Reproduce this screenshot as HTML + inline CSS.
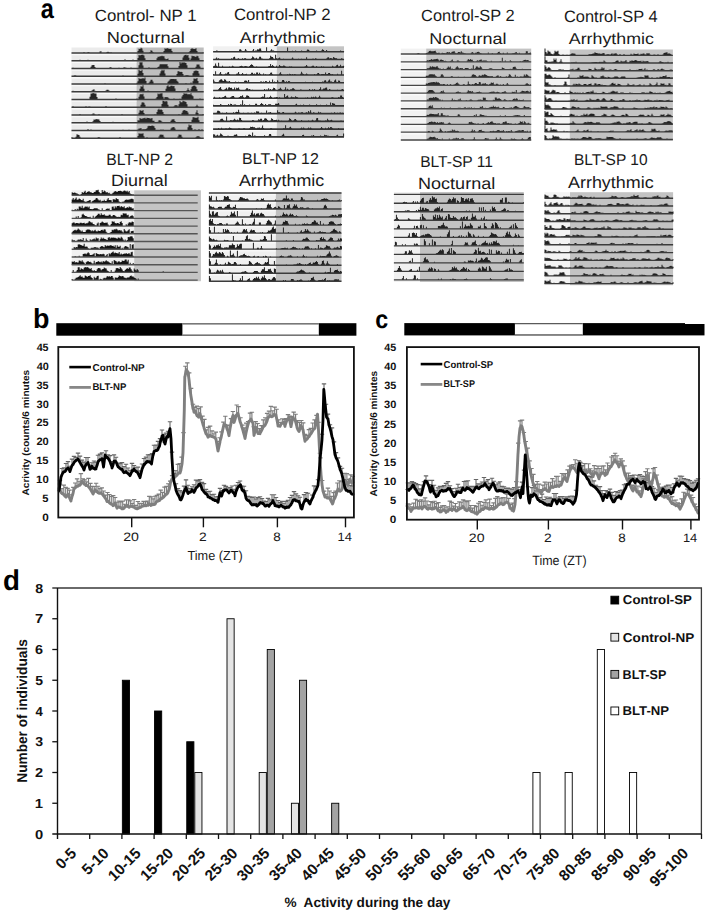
<!DOCTYPE html>
<html><head><meta charset="utf-8"><style>
html,body{margin:0;padding:0;background:#fff;width:708px;height:912px;overflow:hidden}
svg{display:block}
text{font-family:"Liberation Sans",sans-serif;text-rendering:geometricPrecision}
</style></head><body>
<svg width="708" height="912" viewBox="0 0 708 912">
<rect width="708" height="912" fill="#fff"/>
<text transform="translate(40.79,17.73) scale(0.8636,1)" font-size="27.27" font-weight="bold" fill="#000">a</text>
<text transform="translate(32.95,327.72) scale(0.9703,1)" font-size="27.76" font-weight="bold" fill="#000">b</text>
<text transform="translate(375.27,327.94) scale(0.9088,1)" font-size="25.64" font-weight="bold" fill="#000">c</text>
<text transform="translate(3.09,589.71) scale(0.9703,1)" font-size="28.57" font-weight="bold" fill="#000">d</text>
<text transform="translate(94.76,21.00) scale(1.0394,1)" font-size="16.23" font-weight="normal" fill="#1a1a1a">Control- NP 1</text>
<text transform="translate(106.84,43.20) scale(1.1423,1)" font-size="15.94" font-weight="normal" fill="#1a1a1a">Nocturnal</text>
<text transform="translate(233.96,20.40) scale(1.0238,1)" font-size="16.38" font-weight="normal" fill="#1a1a1a">Control-NP 2</text>
<text transform="translate(239.80,42.50) scale(1.1316,1)" font-size="15.80" font-weight="normal" fill="#1a1a1a">Arrhythmic</text>
<text transform="translate(421.08,21.20) scale(1.0101,1)" font-size="16.23" font-weight="normal" fill="#1a1a1a">Control-SP 2</text>
<text transform="translate(429.36,43.50) scale(1.1405,1)" font-size="15.80" font-weight="normal" fill="#1a1a1a">Nocturnal</text>
<text transform="translate(563.98,21.60) scale(1.0030,1)" font-size="16.38" font-weight="normal" fill="#1a1a1a">Control-SP 4</text>
<text transform="translate(568.80,43.50) scale(1.1263,1)" font-size="15.80" font-weight="normal" fill="#1a1a1a">Arrhythmic</text>
<text transform="translate(106.14,164.80) scale(0.9543,1)" font-size="16.52" font-weight="normal" fill="#1a1a1a">BLT-NP 2</text>
<text transform="translate(111.07,186.40) scale(1.0843,1)" font-size="16.52" font-weight="normal" fill="#1a1a1a">Diurnal</text>
<text transform="translate(242.12,164.40) scale(1.0233,1)" font-size="15.65" font-weight="normal" fill="#1a1a1a">BLT-NP 12</text>
<text transform="translate(238.90,186.40) scale(1.0807,1)" font-size="16.52" font-weight="normal" fill="#1a1a1a">Arrhythmic</text>
<text transform="translate(420.15,166.90) scale(0.9875,1)" font-size="15.80" font-weight="normal" fill="#1a1a1a">BLT-SP 11</text>
<text transform="translate(418.06,189.10) scale(1.1016,1)" font-size="16.38" font-weight="normal" fill="#1a1a1a">Nocturnal</text>
<text transform="translate(573.96,165.30) scale(0.9921,1)" font-size="15.65" font-weight="normal" fill="#1a1a1a">BLT-SP 10</text>
<text transform="translate(568.00,188.00) scale(1.0845,1)" font-size="16.52" font-weight="normal" fill="#1a1a1a">Arrhythmic</text>
<rect x="71.50" y="47.50" width="65.00" height="91.50" fill="#ebebeb"/>
<rect x="136.50" y="47.50" width="67.20" height="91.50" fill="#bebebe"/>
<rect x="71.50" y="53.70" width="65.00" height="1.6" fill="#f8f8f8"/>
<rect x="71.50" y="61.45" width="65.00" height="1.6" fill="#f8f8f8"/>
<rect x="71.50" y="69.20" width="65.00" height="1.6" fill="#f8f8f8"/>
<rect x="71.50" y="76.95" width="65.00" height="1.6" fill="#f8f8f8"/>
<rect x="71.50" y="84.70" width="65.00" height="1.6" fill="#f8f8f8"/>
<rect x="71.50" y="92.45" width="65.00" height="1.6" fill="#f8f8f8"/>
<rect x="71.50" y="100.20" width="65.00" height="1.6" fill="#f8f8f8"/>
<rect x="71.50" y="107.95" width="65.00" height="1.6" fill="#f8f8f8"/>
<rect x="71.50" y="115.70" width="65.00" height="1.6" fill="#f8f8f8"/>
<rect x="71.50" y="123.45" width="65.00" height="1.6" fill="#f8f8f8"/>
<rect x="71.50" y="131.20" width="65.00" height="1.6" fill="#f8f8f8"/>
<path transform="translate(71.50,53.00)" d="M0,0V0h12V-1.1h1V0h3V-1.0h1V-0.8h1V0h10V-1.6h1V-1.8h1V0h5V-1.0h1V-1.2h1V-1.0h1V0h1V-0.8h1V0h26V-2.0h1V-4.3h1V-3.9h1V-5.2h1V-4.4h1V-2.3h1V0h6V-0.9h1V-2.7h1V-2.2h1V-1.1h1V0h10V-2.1h1V-4.8h1V-3.9h1V-5.1h1V-4.5h1V-4.2h1V-4.0h1V-4.2h1V-2.1h1V0h16V-0.8h1V-2.1h1V-4.0h1V-4.7h1V-4.3h1V-4.0h1V-4.1h1V-4.7h1V-2.1h1V0h5V-0.6h1V0H132.2Z" fill="#262626"/>
<line x1="71.50" y1="53.00" x2="203.70" y2="53.00" stroke="#3c3c3c" stroke-width="1.4"/>
<path transform="translate(71.50,60.75)" d="M0,0V0h8V-1.1h1V0h7V-0.9h1V0h36V-1.4h1V0h5V-0.7h1V0h1V-1.3h1V0h4V-2.8h1V-5.7h1V-5.2h1V-5.7h1V-6.1h1V-6.0h1V-5.2h1V-2.6h1V0h11V-2.5h1V-4.1h1V-3.9h1V-4.5h1V-4.5h1V-4.9h1V-4.5h1V-4.5h1V-2.2h1V-1.6h1V-1.8h1V-2.2h1V-0.8h1V0h13V-3.3h1V-5.0h1V-5.7h1V-5.9h1V-5.3h1V-5.7h1V-2.9h1V0h1V-2.2h1V-5.1h1V-4.5h1V-4.7h1V-4.0h1V-4.0h1V-4.9h1V-4.6h1V-2.5h1V0H132.2Z" fill="#262626"/>
<line x1="71.50" y1="60.75" x2="203.70" y2="60.75" stroke="#3c3c3c" stroke-width="1.4"/>
<path transform="translate(71.50,68.50)" d="M0,0V0h1V-0.8h1V0h17V-1.8h1V-3.3h1V-3.4h1V-3.6h1V-1.6h1V0h14V-1.2h1V-1.3h1V0h7V-0.8h1V0h3V-0.4h1V-1.2h1V-1.0h1V-0.8h1V-0.5h1V0h3V-1.1h1V0h7V-3.2h1V-6.2h1V-5.9h1V-6.3h1V-3.0h1V0h5V-1.2h1V0h8V-1.4h1V-2.0h1V-4.0h1V-4.5h1V-3.9h1V-4.5h1V-3.9h1V-4.4h1V-4.1h1V-4.5h1V-2.2h1V0h10V-2.6h1V-6.4h1V-5.0h1V-6.2h1V-5.7h1V-6.2h1V-5.7h1V-5.5h1V-3.2h1V0h8V-1.7h1V-4.1h1V-4.0h1V-3.9h1V-2.1h1V0H132.2Z" fill="#262626"/>
<line x1="71.50" y1="68.50" x2="203.70" y2="68.50" stroke="#3c3c3c" stroke-width="1.4"/>
<path transform="translate(71.50,76.25)" d="M0,0V0h2V-0.6h1V-1.1h1V-0.5h1V0h46V-0.7h1V0h14V-2.6h1V-6.4h1V-5.6h1V-5.2h1V-6.4h1V-3.2h1V0h16V-2.7h1V-5.1h1V-6.5h1V-5.6h1V-6.4h1V-2.7h1V0h11V-2.2h1V-4.9h1V-4.9h1V-4.2h1V-4.5h1V-4.2h1V-2.3h1V0h1V-0.4h1V-0.9h1V-0.9h1V-0.9h1V-0.4h1V0h3V-3.0h1V-4.9h1V-5.4h1V-5.7h1V-5.6h1V-5.3h1V-2.7h1V0H132.2Z" fill="#262626"/>
<line x1="71.50" y1="76.25" x2="203.70" y2="76.25" stroke="#3c3c3c" stroke-width="1.4"/>
<path transform="translate(71.50,84.00)" d="M0,0V0h33V-0.7h1V0h31V-1.3h1V-2.7h1V-6.0h1V-5.0h1V-5.6h1V-5.3h1V-6.0h1V-5.2h1V-6.4h1V-3.1h1V0h2V-1.3h1V-2.5h1V-4.3h1V-4.3h1V-2.5h1V0h14V-2.3h1V-3.3h1V-4.4h1V-5.1h1V-4.9h1V-5.0h1V-5.0h1V-4.7h1V-5.1h1V-3.2h1V-2.3h1V0h7V-0.9h1V0h4V-1.5h1V0h1V-2.8h1V-5.4h1V-5.3h1V-5.2h1V-5.9h1V-3.0h1V0H132.2Z" fill="#262626"/>
<line x1="71.50" y1="84.00" x2="203.70" y2="84.00" stroke="#3c3c3c" stroke-width="1.4"/>
<path transform="translate(71.50,91.75)" d="M0,0V0h1V-1.1h1V-0.5h1V0h17V-1.2h1V-2.1h1V-2.4h1V-1.1h1V0h10V-1.2h1V-2.0h1V-2.0h1V-1.2h1V0h18V-0.8h1V0h8V-0.8h1V0h2V-3.1h1V-5.6h1V-5.0h1V-6.5h1V-3.1h1V0h3V-1.2h1V0h17V-3.1h1V-5.4h1V-6.5h1V-5.1h1V-5.3h1V-5.9h1V-6.0h1V-5.6h1V-5.8h1V-3.3h1V0h11V-1.5h1V-3.6h1V-1.7h1V0h1V-2.5h1V-4.9h1V-5.7h1V-6.2h1V-6.0h1V-5.0h1V-2.5h1V0H132.2Z" fill="#262626"/>
<line x1="71.50" y1="91.75" x2="203.70" y2="91.75" stroke="#3c3c3c" stroke-width="1.4"/>
<path transform="translate(71.50,99.50)" d="M0,0V0h12V-0.5h1V-0.6h1V0h4V-2.7h1V-5.9h1V-6.1h1V-6.5h1V-6.2h1V-6.1h1V-5.9h1V-2.5h1V0h18V-1.0h1V0h20V-1.1h1V0h1V-2.7h1V-5.1h1V-5.5h1V-5.1h1V-5.7h1V-2.9h1V0h11V-0.9h1V-2.6h1V-5.9h1V-5.2h1V-6.1h1V-5.9h1V-6.2h1V-2.8h1V-0.8h1V-2.4h1V-2.2h1V-2.4h1V-2.1h1V-0.9h1V0h4V-1.0h1V0h5V-0.8h1V0h1V-3.1h1V-4.5h1V-6.2h1V-5.7h1V-6.0h1V-5.8h1V-4.9h1V-5.4h1V-5.1h1V-6.2h1V-4.3h1V-3.2h1V0h6V-1.0h1V0H132.2Z" fill="#262626"/>
<line x1="71.50" y1="99.50" x2="203.70" y2="99.50" stroke="#3c3c3c" stroke-width="1.4"/>
<path transform="translate(71.50,107.25)" d="M0,0V0h1V-0.9h1V0h12V-0.9h1V0h2V-0.7h1V-0.6h1V0h15V-1.2h1V0h34V-2.4h1V-4.8h1V-5.0h1V-4.5h1V-2.5h1V0h16V-3.2h1V-6.4h1V-6.3h1V-5.4h1V-6.3h1V-5.8h1V-2.6h1V0h5V-0.7h1V-2.1h1V-1.9h1V-1.9h1V-0.8h1V-2.9h1V-6.2h1V-5.1h1V-5.1h1V-6.4h1V-6.1h1V-5.7h1V-5.2h1V-2.9h1V0h8V-1.1h1V-2.4h1V-1.1h1V0H132.2Z" fill="#262626"/>
<line x1="71.50" y1="107.25" x2="203.70" y2="107.25" stroke="#3c3c3c" stroke-width="1.4"/>
<path transform="translate(71.50,115.00)" d="M0,0V0h8V-1.1h1V0h11V-0.5h1V-1.4h1V-1.5h1V-0.5h1V0h3V-1.1h1V0h22V-1.1h1V0h16V-2.3h1V-4.8h1V-4.5h1V-4.0h1V-4.9h1V-2.0h1V0h10V-0.8h1V0h1V-3.0h1V-5.3h1V-6.3h1V-4.9h1V-5.8h1V-4.9h1V-3.1h1V-1.1h1V0h14V-1.1h1V0h2V-2.3h1V-4.3h1V-5.0h1V-4.8h1V-4.3h1V-4.0h1V-2.4h1V0h7V-2.5h1V-4.7h1V-2.0h1V0h4V-1.1h1V0H132.2Z" fill="#262626"/>
<line x1="71.50" y1="115.00" x2="203.70" y2="115.00" stroke="#3c3c3c" stroke-width="1.4"/>
<path transform="translate(71.50,122.75)" d="M0,0V0h15V-1.2h1V0h5V-1.6h1V-3.2h1V-2.9h1V-3.8h1V-3.4h1V-3.5h1V-3.3h1V-1.8h1V0h11V-0.5h1V-1.1h1V0h24V-2.4h1V-2.3h1V-4.8h1V-4.1h1V-4.1h1V-4.4h1V-4.5h1V-5.1h1V-4.0h1V-5.1h1V-4.7h1V-4.7h1V-4.3h1V-4.3h1V-4.8h1V-2.0h1V-2.0h1V0h3V-1.0h1V-2.5h1V-2.4h1V-2.0h1V-0.9h1V0h8V-1.9h1V-3.3h1V-3.4h1V-3.5h1V-1.7h1V0h16V-3.0h1V-5.4h1V-5.5h1V-4.9h1V-4.9h1V-4.9h1V-5.9h1V-2.6h1V0H132.2Z" fill="#262626"/>
<line x1="71.50" y1="122.75" x2="203.70" y2="122.75" stroke="#3c3c3c" stroke-width="1.4"/>
<path transform="translate(71.50,130.50)" d="M0,0V0h16V-1.4h1V0h2V-0.9h1V0h31V-0.7h1V0h5V-0.7h1V0h8V-1.1h1V-2.0h1V-2.0h1V-2.6h1V-1.0h1V-1.3h1V-1.2h1V-1.2h1V-1.4h1V-2.3h1V-4.2h1V-4.7h1V-4.6h1V-4.6h1V-5.0h1V-4.8h1V-4.2h1V-2.6h1V0h5V-1.0h1V0h1V-1.1h1V0h7V-1.9h1V-3.1h1V-3.3h1V-3.4h1V-1.9h1V0h12V-3.2h1V-6.0h1V-4.9h1V-5.6h1V-2.5h1V0h2V-1.2h1V0h3V-1.4h1V0h2V-1.3h1V0H132.2Z" fill="#262626"/>
<line x1="71.50" y1="130.50" x2="203.70" y2="130.50" stroke="#3c3c3c" stroke-width="1.4"/>
<path transform="translate(71.50,138.25)" d="M0,0V-1.0h1V0h3V-1.5h1V-3.9h1V-3.4h1V-3.3h1V-1.6h1V0h17V-0.7h1V-1.2h1V-0.6h1V0h19V-1.2h1V0h17V-2.3h1V-5.0h1V-4.5h1V-4.7h1V-4.6h1V-4.9h1V-2.1h1V0h2V-1.1h1V0h11V-1.7h1V-3.4h1V-3.8h1V-3.4h1V-3.4h1V-1.5h1V0h13V-1.7h1V-3.8h1V-3.6h1V-3.6h1V-1.6h1V0h13V-1.0h1V-2.0h1V-2.0h1V-2.0h1V-1.0h1V0H132.2Z" fill="#262626"/>
<line x1="71.50" y1="138.25" x2="203.70" y2="138.25" stroke="#3c3c3c" stroke-width="1.4"/>
<rect x="213.10" y="46.30" width="63.70" height="91.20" fill="#f1f1f1"/>
<rect x="276.80" y="46.30" width="67.20" height="91.20" fill="#c4c4c4"/>
<rect x="213.10" y="52.50" width="63.70" height="1.6" fill="#f8f8f8"/>
<rect x="213.10" y="60.23" width="63.70" height="1.6" fill="#f8f8f8"/>
<rect x="213.10" y="67.96" width="63.70" height="1.6" fill="#f8f8f8"/>
<rect x="213.10" y="75.69" width="63.70" height="1.6" fill="#f8f8f8"/>
<rect x="213.10" y="83.42" width="63.70" height="1.6" fill="#f8f8f8"/>
<rect x="213.10" y="91.15" width="63.70" height="1.6" fill="#f8f8f8"/>
<rect x="213.10" y="98.88" width="63.70" height="1.6" fill="#f8f8f8"/>
<rect x="213.10" y="106.61" width="63.70" height="1.6" fill="#f8f8f8"/>
<rect x="213.10" y="114.34" width="63.70" height="1.6" fill="#f8f8f8"/>
<rect x="213.10" y="122.07" width="63.70" height="1.6" fill="#f8f8f8"/>
<rect x="213.10" y="129.80" width="63.70" height="1.6" fill="#f8f8f8"/>
<path transform="translate(213.10,51.80)" d="M0,0V0h2V-0.6h1V-1.3h1V-1.0h1V-0.5h1V0h1V-0.8h1V0h3V-0.6h1V0h4V-0.9h1V0h7V-0.4h1V-0.9h1V-2.4h1V-2.6h1V-1.2h1V0h2V-1.1h1V-2.7h1V-1.3h1V0h5V-1.2h1V-2.9h1V-0.8h1V-1.2h1V-1.4h1V-2.5h1V-2.2h1V-3.4h1V-3.4h1V-1.1h1V0h4V-4.6h1V0h3V-1.3h1V-2.5h1V-1.2h1V-1.2h1V-0.8h1V0h11V-0.5h1V-4.4h1V0h3V-0.6h1V-1.0h1V-0.5h1V0h1V-1.4h1V0h4V-0.4h1V-1.2h1V-0.6h1V-0.7h1V-0.6h1V0h1V-1.1h1V-2.4h1V-2.1h1V-1.0h1V-0.9h1V-0.8h1V-0.4h1V0h3V-1.2h1V0h3V-0.7h1V-1.4h1V-2.5h1V-1.9h1V-0.7h1V-0.7h1V-1.9h1V-0.8h1V0h11V-0.5h1V-1.2h1V-0.6h1V0h1V-0.7h1V0H130.9Z" fill="#222"/>
<line x1="213.10" y1="51.80" x2="344.00" y2="51.80" stroke="#333" stroke-width="1.6"/>
<path transform="translate(213.10,59.53)" d="M0,0V0h2V-0.9h1V-2.1h1V-0.7h1V-1.2h1V0h11V-0.5h1V-1.2h1V-0.9h1V-2.2h1V-2.8h1V-0.8h1V0h1V-0.8h1V-1.4h1V-0.6h1V0h2V-1.2h1V-0.4h1V-1.3h1V-1.3h1V-0.5h1V0h4V-1.3h1V-3.1h1V-2.2h1V-1.1h1V-1.1h1V-1.7h1V-0.6h1V-0.9h1V-2.7h1V-2.7h1V-1.0h1V-0.8h1V0h6V-1.2h1V-3.7h1V-2.9h1V-2.5h1V-1.0h1V0h1V-4.9h1V-1.3h1V-0.7h1V-1.4h1V-2.0h1V-0.7h1V0h2V-0.8h1V0h7V-0.9h1V-2.0h1V-0.7h1V0h4V-0.7h1V0h2V-0.8h1V-0.4h1V0h3V-2.4h1V0h5V-0.8h1V-0.7h1V-0.5h1V-1.4h1V-0.8h1V0h9V-1.0h1V-2.0h1V-2.3h1V-1.1h1V-1.6h1V-1.4h1V-0.8h1V-2.5h1V-1.9h1V-1.3h1V-1.2h1V0h4V-1.4h1V-0.9h1V-0.6h1V0H130.9Z" fill="#222"/>
<line x1="213.10" y1="59.53" x2="344.00" y2="59.53" stroke="#333" stroke-width="1.6"/>
<path transform="translate(213.10,67.26)" d="M0,0V-1.1h1V-1.5h1V-3.8h1V-1.4h1V-0.5h1V-4.5h1V-0.5h1V0h2V-1.4h1V0h6V-0.7h1V0h1V-0.6h1V-1.5h1V-0.7h1V0h5V-0.7h1V-1.3h1V-1.5h1V-1.1h1V-0.6h1V-1.1h1V-1.3h1V-0.9h1V-0.5h1V0h1V-1.2h1V-2.2h1V-3.0h1V-2.3h1V-0.9h1V0h2V-0.7h1V0h11V-1.0h1V-1.3h1V-3.3h1V-1.3h1V-2.2h1V-1.2h1V0h2V-1.4h1V0h1V-0.6h1V-2.2h1V-1.2h1V-0.9h1V-1.1h1V-1.7h1V-1.4h1V-0.7h1V0h3V-0.7h1V-0.5h1V-0.8h1V0h12V-0.4h1V-1.0h1V-2.2h1V-0.8h1V0h3V-0.7h1V-1.6h1V-1.4h1V0h2V-1.2h1V0h4V-0.9h1V0h1V-0.8h1V0h8V-1.4h1V-0.6h1V0h1V-0.8h1V-2.1h1V-2.4h1V-0.8h1V-1.1h1V-2.4h1V-0.8h1V-1.1h1V-1.6h1V0H130.9Z" fill="#222"/>
<line x1="213.10" y1="67.26" x2="344.00" y2="67.26" stroke="#333" stroke-width="1.6"/>
<path transform="translate(213.10,74.99)" d="M0,0V-1.1h1V0h1V-3.8h1V0h3V-1.4h1V-3.1h1V-1.1h1V0h2V-0.5h1V-1.6h1V-1.2h1V-2.5h1V-3.1h1V-0.9h1V0h6V-1.2h1V-1.4h1V-3.0h1V-0.9h1V0h1V-1.0h1V-1.9h1V-0.7h1V-0.4h1V-0.9h1V-1.2h1V0h3V-1.1h1V-2.2h1V-2.2h1V-1.1h1V-1.6h1V-0.8h1V-2.5h1V-2.5h1V-0.9h1V-2.2h1V-1.0h1V0h2V-1.4h1V0h1V-0.7h1V0h3V-0.9h1V-2.3h1V-2.6h1V-0.8h1V0h6V-1.4h1V-2.8h1V-1.1h1V0h5V-0.7h1V0h1V-1.2h1V-1.0h1V0h1V-1.1h1V0h1V-1.1h1V-0.4h1V0h4V-1.2h1V-3.3h1V-1.6h1V-0.9h1V0h1V-0.5h1V-1.4h1V-0.6h1V0h6V-1.0h1V0h1V-0.5h1V-1.8h1V-1.9h1V-0.8h1V0h1V-1.0h1V-0.9h1V-0.9h1V-0.8h1V-2.5h1V-0.8h1V-1.0h1V-1.9h1V-2.1h1V-0.9h1V-0.5h1V-0.9h1V0h4V-1.2h1V0h3V-4.3h1V0H130.9Z" fill="#222"/>
<line x1="213.10" y1="74.99" x2="344.00" y2="74.99" stroke="#333" stroke-width="1.6"/>
<path transform="translate(213.10,82.72)" d="M0,0V-3.1h1V-1.3h1V-0.7h1V0h2V-0.9h1V-2.4h1V-3.1h1V-3.4h1V-2.1h1V-1.8h1V-3.5h1V-3.0h1V-1.5h1V-1.1h1V-1.1h1V-1.6h1V-0.6h1V0h4V-1.3h1V0h2V-1.0h1V0h4V-0.8h1V-2.0h1V-2.2h1V-1.9h1V-1.0h1V-2.6h1V-0.8h1V0h9V-0.6h1V-1.3h1V-1.2h1V-0.5h1V-1.2h1V-0.5h1V-1.7h1V-1.5h1V-0.5h1V-0.8h1V-1.9h1V-0.6h1V0h1V-3.3h1V-0.6h1V-1.1h1V-0.6h1V0h1V-2.5h1V-0.9h1V0h2V-0.9h1V-2.6h1V-2.7h1V-1.1h1V0h1V-1.4h1V-0.5h1V-1.8h1V-1.4h1V-0.6h1V0h6V-0.5h1V-0.7h1V-0.4h1V0h5V-0.9h1V-0.8h1V0h5V-0.9h1V0h9V-1.1h1V-0.9h1V-2.1h1V-2.5h1V-1.0h1V-0.9h1V-2.1h1V-3.3h1V-1.3h1V-1.1h1V0h1V-0.6h1V-2.1h1V-3.1h1V-0.9h1V-0.8h1V-2.1h1V-1.9h1V-0.7h1V0H130.9Z" fill="#222"/>
<line x1="213.10" y1="82.72" x2="344.00" y2="82.72" stroke="#333" stroke-width="1.6"/>
<path transform="translate(213.10,90.45)" d="M0,0V0h5V-1.3h1V-2.4h1V-3.4h1V-1.3h1V0h2V-1.0h1V-1.6h1V-2.7h1V-1.0h1V-2.9h1V-3.1h1V-2.5h1V-2.8h1V-1.3h1V-1.1h1V-2.9h1V-0.9h1V-2.7h1V-2.1h1V-2.9h1V-1.0h1V0h5V-0.9h1V-2.1h1V-2.1h1V-0.9h1V-1.5h1V-0.6h1V0h1V-0.7h1V0h11V-1.4h1V0h1V-1.0h1V-0.6h1V-2.2h1V-0.8h1V-1.5h1V0h1V-1.2h1V-2.8h1V-2.5h1V-0.9h1V0h2V-1.3h1V-1.8h1V-2.6h1V-1.1h1V-0.5h1V0h1V-1.0h1V-3.3h1V-0.6h1V-1.6h1V-0.8h1V0h1V-1.1h1V-1.1h1V-2.2h1V-2.3h1V-1.2h1V0h5V-0.9h1V-0.7h1V0h7V-1.4h1V0h2V-1.3h1V0h1V-1.5h1V0h4V-1.4h1V-3.1h1V-0.8h1V-0.9h1V-2.0h1V-1.9h1V-2.6h1V-3.0h1V-0.8h1V0h1V-1.4h1V-0.6h1V0h6V-0.8h1V0h2V-0.5h1V-1.0h1V-1.4h1V-0.8h1V0H130.9Z" fill="#222"/>
<line x1="213.10" y1="90.45" x2="344.00" y2="90.45" stroke="#333" stroke-width="1.6"/>
<path transform="translate(213.10,98.18)" d="M0,0V0h1V-1.5h1V0h4V-1.0h1V0h2V-1.0h1V-1.2h1V-2.0h1V-2.4h1V-0.7h1V0h3V-0.9h1V-1.8h1V-2.3h1V-2.2h1V-0.8h1V0h3V-0.4h1V-1.2h1V-2.1h1V-1.9h1V-3.0h1V-0.9h1V0h1V-1.0h1V-2.7h1V-2.8h1V-2.1h1V-0.8h1V0h10V-0.5h1V-1.2h1V-1.6h1V-1.4h1V-4.2h1V0h2V-0.7h1V0h1V-1.3h1V-2.4h1V-1.2h1V0h2V-0.8h1V-0.8h1V-1.1h1V-1.0h1V0h1V-1.0h1V0h4V-4.2h1V-1.1h1V-2.0h1V-2.7h1V-0.8h1V0h1V-0.7h1V-1.8h1V-0.9h1V-0.9h1V-0.7h1V-2.0h1V-1.1h1V-1.0h1V0h7V-0.4h1V0h1V-1.0h1V0h3V-1.5h1V-0.8h1V-1.4h1V-0.6h1V-1.7h1V-0.6h1V0h1V-0.9h1V-2.4h1V-0.8h1V0h10V-0.6h1V-1.0h1V-0.5h1V0h4V-1.1h1V-0.8h1V-2.8h1V-2.8h1V-1.1h1V0H130.9Z" fill="#222"/>
<line x1="213.10" y1="98.18" x2="344.00" y2="98.18" stroke="#333" stroke-width="1.6"/>
<path transform="translate(213.10,105.91)" d="M0,0V-1.1h1V0h1V-0.9h1V0h3V-1.0h1V-2.0h1V-1.1h1V0h5V-0.7h1V-1.8h1V-0.7h1V-2.1h1V-1.8h1V-0.9h1V-1.1h1V-1.4h1V-1.3h1V-0.5h1V0h2V-0.6h1V-1.6h1V-1.2h1V-5.6h1V-0.7h1V-1.7h1V-0.7h1V0h3V-1.3h1V0h4V-0.9h1V-2.1h1V-2.2h1V-1.0h1V0h1V-0.7h1V-1.8h1V-2.8h1V-2.0h1V-1.2h1V-0.8h1V-2.0h1V-0.9h1V-0.5h1V-1.6h1V-1.6h1V-1.6h1V-0.5h1V0h2V-0.9h1V-2.2h1V-2.2h1V-2.1h1V-2.9h1V-1.2h1V0h3V-0.7h1V0h8V-1.0h1V-0.8h1V0h1V-1.3h1V-2.2h1V-0.9h1V0h1V-0.4h1V-1.1h1V-1.0h1V0h1V-1.3h1V-0.9h1V0h4V-1.4h1V0h4V-0.7h1V-0.9h1V-1.7h1V-0.8h1V0h2V-1.2h1V-0.8h1V0h3V-0.7h1V-1.4h1V-0.7h1V0h2V-3.4h1V-0.8h1V-2.9h1V-2.4h1V-2.1h1V-0.6h1V0h6V-0.5h1V0H130.9Z" fill="#222"/>
<line x1="213.10" y1="105.91" x2="344.00" y2="105.91" stroke="#333" stroke-width="1.6"/>
<path transform="translate(213.10,113.64)" d="M0,0V0h3V-0.9h1V-2.8h1V-2.8h1V-2.4h1V-0.8h1V0h1V-0.8h1V0h3V-1.3h1V0h6V-1.4h1V-0.6h1V-1.5h1V-1.9h1V-1.6h1V-3.8h1V-1.2h1V-0.6h1V-0.7h1V0h1V-0.8h1V0h3V-0.8h1V-0.8h1V-0.7h1V-0.6h1V-1.0h1V0h1V-0.5h1V-1.2h1V-0.6h1V-2.3h1V-2.1h1V-2.2h1V-0.6h1V0h1V-1.0h1V0h4V-3.1h1V-0.5h1V-1.1h1V-1.2h1V-1.6h1V-0.6h1V0h5V-3.4h1V-1.4h1V-1.4h1V0h1V-0.5h1V-1.4h1V-1.6h1V-0.6h1V-0.7h1V0h8V-0.8h1V-1.8h1V-0.9h1V0h1V-1.2h1V-0.8h1V-0.8h1V-1.5h1V-1.3h1V-0.5h1V0h1V-0.8h1V-1.3h1V-0.8h1V-2.7h1V-1.1h1V-3.4h1V-0.9h1V0h1V-1.4h1V-1.0h1V0h2V-0.6h1V-2.0h1V-1.0h1V-1.3h1V0h10V-0.9h1V-0.4h1V0h1V-1.5h1V0h2V-0.8h1V0h1V-0.8h1V-1.1h1V0h1V-0.9h1V0H130.9Z" fill="#222"/>
<line x1="213.10" y1="113.64" x2="344.00" y2="113.64" stroke="#333" stroke-width="1.6"/>
<path transform="translate(213.10,121.37)" d="M0,0V0h6V-0.7h1V-2.0h1V-2.6h1V-2.7h1V-1.1h1V0h2V-4.9h1V0h3V-1.4h1V-1.0h1V-0.9h1V-1.5h1V-2.6h1V-1.5h1V-1.0h1V-1.9h1V-1.2h1V-3.5h1V-3.4h1V-1.4h1V0h10V-1.3h1V-1.1h1V0h3V-0.6h1V-2.0h1V-1.6h1V-2.5h1V-2.5h1V-0.7h1V-1.4h1V-2.9h1V-3.2h1V-2.6h1V-1.4h1V0h2V-0.9h1V-3.1h1V-2.4h1V-1.0h1V-1.4h1V-1.4h1V-1.5h1V-0.6h1V-1.6h1V-0.6h1V0h1V-0.6h1V0h6V-0.8h1V-3.0h1V-2.3h1V-1.2h1V0h1V-0.8h1V-2.2h1V-2.3h1V-1.1h1V0h4V-1.3h1V0h6V-0.8h1V0h2V-0.6h1V-1.7h1V-0.7h1V0h1V-0.9h1V-3.0h1V-3.4h1V-0.9h1V-0.6h1V-0.7h1V0h4V-0.9h1V-0.6h1V-2.7h1V-1.1h1V-0.5h1V-1.1h1V-1.7h1V-0.7h1V0h7V-0.5h1V-0.5h1V0H130.9Z" fill="#222"/>
<line x1="213.10" y1="121.37" x2="344.00" y2="121.37" stroke="#333" stroke-width="1.6"/>
<path transform="translate(213.10,129.10)" d="M0,0V0h5V-1.1h1V0h2V-1.3h1V0h3V-0.7h1V-0.6h1V0h1V-0.8h1V-1.7h1V-1.2h1V-0.7h1V0h6V-0.7h1V-0.6h1V0h3V-0.9h1V-0.8h1V0h4V-0.9h1V-2.4h1V-2.1h1V-2.3h1V-1.8h1V-1.9h1V-0.9h1V-0.5h1V-1.4h1V-1.4h1V-1.7h1V-0.6h1V-1.4h1V-3.5h1V-1.1h1V0h6V-0.8h1V-0.8h1V0h11V-0.9h1V-0.5h1V-3.9h1V-0.5h1V-0.9h1V-0.7h1V-1.6h1V-2.3h1V-0.9h1V0h8V-0.5h1V-1.5h1V-0.5h1V-1.5h1V-0.7h1V0h2V-0.6h1V-1.5h1V-0.5h1V-1.6h1V-0.7h1V0h8V-0.9h1V-2.2h1V-0.9h1V0h2V-1.4h1V0h1V-0.7h1V-1.8h1V-0.9h1V-2.0h1V-1.9h1V-0.8h1V0h5V-1.0h1V0H130.9Z" fill="#222"/>
<line x1="213.10" y1="129.10" x2="344.00" y2="129.10" stroke="#333" stroke-width="1.6"/>
<path transform="translate(213.10,136.83)" d="M0,0V-2.6h1V-2.3h1V-1.1h1V-1.3h1V-2.1h1V-1.1h1V-1.4h1V-3.3h1V-2.5h1V-1.5h1V0h4V-1.1h1V-1.0h1V0h4V-1.1h1V-2.2h1V-2.1h1V-2.6h1V-1.0h1V0h7V-1.0h1V0h1V-0.9h1V-2.2h1V-2.3h1V-1.9h1V-0.6h1V-4.3h1V-0.4h1V-1.4h1V-1.1h1V-0.5h1V0h6V-0.5h1V-1.6h1V-0.8h1V0h2V-1.1h1V-2.8h1V-2.9h1V-1.2h1V0h7V-0.9h1V0h1V-1.1h1V-2.2h1V-3.0h1V-1.0h1V-0.6h1V-0.9h1V0h2V-0.9h1V0h5V-0.9h1V0h1V-0.6h1V0h3V-0.7h1V-1.9h1V-2.2h1V-0.9h1V0h3V-0.8h1V-0.5h1V-0.5h1V-1.4h1V-1.1h1V-1.9h1V-0.8h1V0h4V-0.6h1V-1.3h1V-0.5h1V0h1V-0.9h1V-2.0h1V-1.5h1V-1.6h1V-1.1h1V-1.0h1V-0.9h1V-0.8h1V0h4V-0.9h1V-1.3h1V-2.1h1V-0.8h1V0h4V-3.4h1V0H130.9Z" fill="#222"/>
<line x1="213.10" y1="136.83" x2="344.00" y2="136.83" stroke="#333" stroke-width="1.6"/>
<rect x="400.80" y="48.60" width="25.40" height="92.10" fill="#f2f2f2"/>
<rect x="426.20" y="48.60" width="105.00" height="92.10" fill="#c3c3c3"/>
<rect x="400.80" y="54.70" width="25.40" height="1.6" fill="#fafafa"/>
<rect x="400.80" y="62.52" width="25.40" height="1.6" fill="#fafafa"/>
<rect x="400.80" y="70.34" width="25.40" height="1.6" fill="#fafafa"/>
<rect x="400.80" y="78.16" width="25.40" height="1.6" fill="#fafafa"/>
<rect x="400.80" y="85.98" width="25.40" height="1.6" fill="#fafafa"/>
<rect x="400.80" y="93.80" width="25.40" height="1.6" fill="#fafafa"/>
<rect x="400.80" y="101.62" width="25.40" height="1.6" fill="#fafafa"/>
<rect x="400.80" y="109.44" width="25.40" height="1.6" fill="#fafafa"/>
<rect x="400.80" y="117.26" width="25.40" height="1.6" fill="#fafafa"/>
<rect x="400.80" y="125.08" width="25.40" height="1.6" fill="#fafafa"/>
<rect x="400.80" y="132.90" width="25.40" height="1.6" fill="#fafafa"/>
<path transform="translate(400.80,54.00)" d="M0,0V0h16V-0.4h1V-1.0h1V-0.4h1V0h6V-1.1h1V-1.3h1V-1.7h1V-3.1h1V-3.2h1V-2.8h1V-2.8h1V-2.7h1V-3.1h1V-3.2h1V-1.5h1V-1.1h1V-1.3h1V-1.2h1V0h1V-0.5h1V-1.2h1V-0.9h1V-0.9h1V-0.5h1V-1.2h1V-2.1h1V-1.6h1V-2.1h1V-0.9h1V-1.5h1V-2.3h1V-2.6h1V-2.8h1V-1.2h1V-0.4h1V-0.9h1V-2.0h1V-2.1h1V-1.4h1V-2.8h1V-1.5h1V-1.2h1V-0.8h1V-0.5h1V0h5V-1.2h1V-1.9h1V-1.2h1V0h1V-1.3h1V-1.3h1V-2.0h1V-2.3h1V-1.8h1V-1.1h1V-0.6h1V0h6V-1.4h1V0h3V-1.1h1V0h4V-1.1h1V-1.9h1V-2.3h1V-1.1h1V0h2V-1.2h1V0h3V-1.4h1V0h4V-0.4h1V-0.8h1V-1.1h1V-1.5h1V-2.0h1V-0.7h1V0h1V-1.2h1V0h5V-0.6h1V-2.8h1V-2.7h1V-0.7h1V-0.9h1V-1.4h1V0H130.4Z" fill="#2a2a2a"/>
<line x1="400.80" y1="54.00" x2="531.20" y2="54.00" stroke="#474747" stroke-width="1.3"/>
<path transform="translate(400.80,61.82)" d="M0,0V0h25V-0.6h1V-1.6h1V-1.4h1V-1.7h1V-1.9h1V-2.7h1V-2.1h1V-2.4h1V-2.5h1V-2.5h1V-2.9h1V-3.1h1V-2.3h1V-1.1h1V-2.1h1V-2.4h1V-1.9h1V-1.5h1V-0.8h1V-1.0h1V-0.6h1V0h3V-0.7h1V-1.4h1V-2.2h1V-0.6h1V0h3V-1.3h1V-1.4h1V-0.6h1V0h7V-1.4h1V-2.7h1V-1.9h1V-2.9h1V-2.1h1V-2.0h1V-0.7h1V0h2V-0.5h1V-1.6h1V-1.1h1V-1.6h1V-2.0h1V-2.4h1V-1.0h1V-1.3h1V-1.4h1V-1.3h1V-1.2h1V-0.6h1V0h3V-1.1h1V0h8V-0.9h1V0h1V-4.1h1V0h2V-1.2h1V0h4V-1.5h1V-0.7h1V0h8V-0.7h1V0h1V-0.9h1V-1.4h1V-1.9h1V-2.0h1V-1.5h1V-1.8h1V-1.5h1V-0.8h1V0H130.4Z" fill="#2a2a2a"/>
<line x1="400.80" y1="61.82" x2="531.20" y2="61.82" stroke="#474747" stroke-width="1.3"/>
<path transform="translate(400.80,69.64)" d="M0,0V0h10V-0.4h1V0h14V-0.5h1V-1.5h1V-1.4h1V-2.0h1V-3.3h1V-2.5h1V-3.3h1V-2.9h1V-2.9h1V-2.5h1V-3.2h1V-3.3h1V-2.0h1V-1.2h1V-1.2h1V0h2V-1.2h1V0h2V-0.8h1V-1.9h1V-3.2h1V-2.2h1V-3.2h1V-0.8h1V-1.1h1V0h2V-1.1h1V-2.3h1V-3.4h1V-2.2h1V-1.2h1V-1.7h1V-1.5h1V-1.7h1V-0.5h1V-0.4h1V-1.6h1V-1.7h1V-1.7h1V-1.3h1V-0.7h1V0h1V-1.1h1V-1.0h1V-4.3h1V-0.7h1V-1.4h1V-3.1h1V-3.1h1V-2.2h1V-1.9h1V-3.4h1V-2.3h1V-1.0h1V0h6V-1.2h1V-1.5h1V-1.4h1V-1.0h1V-0.7h1V0h7V-0.6h1V-2.1h1V-1.7h1V-1.2h1V-0.5h1V0h4V-1.0h1V0h1V-1.0h1V-2.6h1V-2.8h1V-2.8h1V-1.2h1V0h4V-0.4h1V-1.0h1V-0.7h1V-0.7h1V0H130.4Z" fill="#2a2a2a"/>
<line x1="400.80" y1="69.64" x2="531.20" y2="69.64" stroke="#474747" stroke-width="1.3"/>
<path transform="translate(400.80,77.46)" d="M0,0V0h25V-1.6h1V-1.7h1V-2.0h1V-3.0h1V-3.1h1V-3.2h1V-3.3h1V-2.9h1V-3.2h1V-2.0h1V-1.2h1V0h1V-0.4h1V0h1V-1.0h1V-3.0h1V-3.2h1V-1.9h1V-0.5h1V0h6V-1.3h1V-1.1h1V0h5V-0.8h1V0h5V-0.8h1V0h6V-0.9h1V-2.8h1V-3.3h1V-2.6h1V-2.4h1V-1.2h1V0h1V-1.0h1V-2.1h1V-1.7h1V-1.8h1V-2.7h1V-2.3h1V-3.1h1V-2.9h1V-2.4h1V-1.8h1V-1.5h1V-1.2h1V-1.3h1V-1.3h1V-1.5h1V-0.5h1V0h2V-1.3h1V-2.0h1V-1.9h1V-0.5h1V-1.5h1V-0.6h1V0h4V-1.3h1V0h1V-1.3h1V-3.1h1V-2.6h1V-1.3h1V0h3V-2.8h1V0h1V-0.9h1V0h1V-0.4h1V-0.9h1V-1.0h1V-0.6h1V-1.0h1V-2.9h1V-1.8h1V-3.2h1V-2.6h1V-1.8h1V-0.9h1V-0.7h1V0H130.4Z" fill="#2a2a2a"/>
<line x1="400.80" y1="77.46" x2="531.20" y2="77.46" stroke="#474747" stroke-width="1.3"/>
<path transform="translate(400.80,85.28)" d="M0,0V0h25V-1.7h1V-1.5h1V-2.2h1V-2.5h1V-2.9h1V-3.0h1V-3.1h1V-3.3h1V-3.4h1V-2.9h1V-3.5h1V-2.8h1V-3.0h1V-2.3h1V-1.0h1V-1.0h1V-0.8h1V-1.2h1V-1.3h1V-0.6h1V0h1V-1.3h1V0h1V-0.4h1V-1.2h1V-0.5h1V0h1V-0.6h1V-0.9h1V-1.2h1V-2.3h1V-2.9h1V-1.7h1V-0.9h1V0h3V-1.0h1V-1.0h1V0h2V-0.7h1V-3.9h1V-1.3h1V-0.8h1V-0.5h1V-1.4h1V-0.9h1V-1.3h1V-2.3h1V-2.2h1V-1.3h1V-1.3h1V-3.2h1V-3.0h1V-0.9h1V-1.6h1V-1.7h1V-1.5h1V-2.3h1V-1.0h1V-1.0h1V0h1V-1.0h1V-1.6h1V-2.7h1V-2.2h1V-2.7h1V-0.7h1V-0.6h1V-1.5h1V-1.6h1V-0.7h1V0h1V-0.9h1V0h2V-1.2h1V0h2V-0.7h1V-2.4h1V-0.9h1V0h16V-0.9h1V-1.8h1V-2.1h1V-1.2h1V0h1V-1.1h1V0H130.4Z" fill="#2a2a2a"/>
<line x1="400.80" y1="85.28" x2="531.20" y2="85.28" stroke="#474747" stroke-width="1.3"/>
<path transform="translate(400.80,93.10)" d="M0,0V0h26V-1.1h1V-2.4h1V-3.1h1V-3.1h1V-3.2h1V-3.2h1V-2.3h1V-1.3h1V0h5V-0.9h1V-2.1h1V-1.7h1V-2.7h1V-0.9h1V0h11V-1.0h1V-1.3h1V-1.7h1V-0.8h1V-0.9h1V0h6V-1.3h1V-2.9h1V-1.9h1V-2.2h1V-1.3h1V-2.0h1V-0.6h1V0h2V-0.5h1V-1.1h1V-1.1h1V-1.6h1V-0.9h1V-0.6h1V0h7V-0.6h1V-1.2h1V-1.3h1V-1.4h1V-1.7h1V-1.3h1V-0.5h1V-0.9h1V-1.3h1V-1.0h1V-0.6h1V0h2V-1.0h1V-1.1h1V-1.5h1V-1.8h1V-0.5h1V0h5V-1.3h1V-1.1h1V-1.3h1V-0.6h1V-3.1h1V0h3V-0.8h1V-1.7h1V-2.3h1V-2.0h1V-1.9h1V-1.6h1V-2.1h1V-2.3h1V-1.8h1V-0.8h1V-2.3h1V0H130.4Z" fill="#2a2a2a"/>
<line x1="400.80" y1="93.10" x2="531.20" y2="93.10" stroke="#474747" stroke-width="1.3"/>
<path transform="translate(400.80,100.92)" d="M0,0V0h26V-1.4h1V-1.5h1V-3.0h1V-3.2h1V-3.1h1V-3.0h1V-3.9h1V-3.2h1V-3.8h1V-3.7h1V-3.2h1V-2.7h1V-1.5h1V-1.3h1V0h1V-1.1h1V0h8V-0.7h1V-2.4h1V-0.7h1V-1.1h1V-1.0h1V-0.7h1V-0.4h1V-1.4h1V-1.5h1V-2.5h1V-0.7h1V0h4V-1.0h1V0h2V-0.5h1V-1.3h1V-1.3h1V-0.6h1V0h4V-0.4h1V-1.1h1V-1.1h1V-1.4h1V-1.2h1V-1.0h1V-3.5h1V-3.2h1V-3.1h1V-1.0h1V-0.4h1V0h5V-1.1h1V-0.9h1V-3.3h1V-3.4h1V-2.2h1V-2.4h1V-2.6h1V-1.8h1V-1.2h1V0h1V-0.5h1V-1.6h1V-1.5h1V-0.9h1V0h2V-0.5h1V-0.7h1V0h1V-1.0h1V-2.0h1V-2.3h1V-1.7h1V-2.6h1V-2.1h1V-0.7h1V-1.1h1V-0.9h1V-0.9h1V-0.8h1V-1.5h1V0H130.4Z" fill="#2a2a2a"/>
<line x1="400.80" y1="100.92" x2="531.20" y2="100.92" stroke="#474747" stroke-width="1.3"/>
<path transform="translate(400.80,108.74)" d="M0,0V0h27V-1.2h1V-2.7h1V-3.3h1V-2.2h1V-3.4h1V-0.9h1V0h5V-0.7h1V-0.8h1V-1.3h1V-0.7h1V0h1V-1.0h1V0h5V-1.3h1V0h6V-0.8h1V-1.1h1V-1.0h1V-0.9h1V0h2V-0.7h1V-1.3h1V-1.4h1V-0.6h1V-1.0h1V-1.0h1V-1.3h1V-0.5h1V-1.4h1V-0.4h1V0h1V-1.0h1V0h2V-0.8h1V0h1V-0.6h1V-1.9h1V-1.6h1V-2.8h1V-0.9h1V0h1V-1.0h1V0h2V-0.6h1V-1.2h1V-1.6h1V-2.0h1V-1.7h1V-3.0h1V-1.8h1V-2.2h1V-1.4h1V-1.5h1V-2.0h1V-1.0h1V-0.7h1V-0.5h1V-0.7h1V-1.8h1V-1.4h1V-0.8h1V0h2V-0.5h1V-0.9h1V-0.9h1V-1.4h1V-0.7h1V-1.3h1V-2.0h1V-2.7h1V-2.7h1V-2.1h1V-1.4h1V-1.0h1V0h1V-0.8h1V-0.8h1V-1.2h1V-2.7h1V-2.1h1V-1.5h1V-1.4h1V-1.7h1V-1.2h1V-0.5h1V0H130.4Z" fill="#2a2a2a"/>
<line x1="400.80" y1="108.74" x2="531.20" y2="108.74" stroke="#474747" stroke-width="1.3"/>
<path transform="translate(400.80,116.56)" d="M0,0V0h25V-0.8h1V-1.8h1V-1.5h1V-2.2h1V-2.7h1V-2.8h1V-2.5h1V-2.6h1V-2.3h1V-2.3h1V-2.4h1V-2.3h1V-3.6h1V-1.0h1V-1.1h1V-3.4h1V-3.3h1V-1.3h1V-1.3h1V-1.0h1V-0.9h1V-1.0h1V-1.0h1V0h1V-0.5h1V0h6V-0.9h1V-2.3h1V-2.1h1V-0.8h1V0h12V-0.6h1V-1.5h1V-0.9h1V-2.4h1V-0.6h1V0h1V-0.9h1V-2.3h1V-2.1h1V-1.5h1V-1.6h1V-1.0h1V-0.9h1V-0.7h1V0h10V-0.6h1V0h2V-1.1h1V0h3V-0.6h1V-1.3h1V-0.5h1V0h6V-0.7h1V-1.0h1V-1.2h1V-1.4h1V-1.5h1V-1.3h1V-1.3h1V-0.8h1V0h3V-1.5h1V0H130.4Z" fill="#2a2a2a"/>
<line x1="400.80" y1="116.56" x2="531.20" y2="116.56" stroke="#474747" stroke-width="1.3"/>
<path transform="translate(400.80,124.38)" d="M0,0V0h26V-1.0h1V-1.3h1V-2.3h1V-2.3h1V-2.8h1V-2.6h1V-2.2h1V-2.6h1V-2.3h1V-1.5h1V-2.3h1V-1.5h1V-2.0h1V-1.8h1V-2.5h1V-1.9h1V-2.1h1V-0.7h1V0h3V-1.1h1V-2.0h1V-1.2h1V0h17V-0.7h1V-2.5h1V-2.1h1V-2.7h1V-2.0h1V-1.3h1V-1.0h1V-0.9h1V0h1V-0.7h1V-1.0h1V0h3V-0.7h1V-1.3h1V0h2V-0.9h1V-1.3h1V-2.4h1V-1.4h1V-2.4h1V-2.9h1V-2.9h1V-1.7h1V-1.1h1V-1.4h1V-0.6h1V-0.8h1V-0.8h1V-1.2h1V0h2V-1.0h1V-2.4h1V-2.2h1V-3.0h1V-2.9h1V-1.1h1V-1.4h1V-0.8h1V-0.9h1V-0.9h1V0h3V-0.8h1V0h2V-0.9h1V-1.5h1V-3.1h1V-2.3h1V-2.8h1V-1.2h1V-3.2h1V-2.1h1V-1.0h1V-0.9h1V-1.7h1V-1.0h1V0H130.4Z" fill="#2a2a2a"/>
<line x1="400.80" y1="124.38" x2="531.20" y2="124.38" stroke="#474747" stroke-width="1.3"/>
<path transform="translate(400.80,132.20)" d="M0,0V0h27V-1.2h1V-1.1h1V0h2V-1.4h1V-0.9h1V0h5V-1.3h1V-3.6h1V-2.5h1V-1.2h1V0h2V-1.2h1V0h1V-0.6h1V-0.9h1V-0.9h1V-1.4h1V-1.1h1V-2.8h1V-1.7h1V-2.5h1V-1.5h1V-1.1h1V-1.4h1V-1.1h1V0h12V-1.1h1V-2.6h1V-0.9h1V-2.2h1V-0.7h1V0h2V-0.9h1V-2.3h1V-2.3h1V-2.5h1V-1.2h1V-1.2h1V-0.7h1V0h5V-1.1h1V-0.9h1V-0.9h1V-1.5h1V-0.9h1V-0.9h1V-1.2h1V-2.0h1V-2.3h1V-2.0h1V-1.3h1V-1.5h1V-1.3h1V-2.1h1V-0.9h1V0h1V-1.1h1V-0.7h1V-1.1h1V-1.2h1V-0.8h1V-2.3h1V-0.8h1V0h2V-0.9h1V-1.2h1V-1.5h1V-1.6h1V-2.0h1V-1.6h1V-1.7h1V-2.1h1V-2.1h1V-0.7h1V-1.0h1V-0.4h1V-1.5h1V0h2V-1.5h1V0H130.4Z" fill="#2a2a2a"/>
<line x1="400.80" y1="132.20" x2="531.20" y2="132.20" stroke="#474747" stroke-width="1.3"/>
<path transform="translate(400.80,140.02)" d="M0,0V0h26V-1.3h1V-1.5h1V-2.5h1V-3.2h1V-2.9h1V-2.7h1V-3.1h1V-3.3h1V-2.6h1V-1.4h1V-1.9h1V-1.0h1V-1.0h1V-0.5h1V0h1V-1.4h1V0h6V-1.4h1V0h2V-0.7h1V-1.4h1V-1.4h1V-1.5h1V-2.2h1V-1.5h1V-2.0h1V-0.7h1V-0.8h1V-1.6h1V-1.7h1V-1.7h1V-0.7h1V0h8V-0.9h1V-2.8h1V-0.4h1V0h8V-0.6h1V-2.1h1V-1.8h1V-1.6h1V-1.4h1V0h6V-1.1h1V-2.5h1V-0.8h1V0h1V-0.6h1V-2.6h1V-1.3h1V-0.5h1V0h8V-1.4h1V-1.2h1V-0.9h1V-1.4h1V-0.9h1V-0.5h1V0h4V-0.7h1V-1.8h1V-0.8h1V0h3V-0.7h1V-2.3h1V-3.1h1V-2.9h1V0H130.4Z" fill="#2a2a2a"/>
<line x1="400.80" y1="140.02" x2="531.20" y2="140.02" stroke="#474747" stroke-width="1.3"/>
<rect x="544.50" y="49.50" width="25.30" height="91.20" fill="#f4f4f4"/>
<rect x="569.80" y="49.50" width="103.10" height="91.20" fill="#c3c3c3"/>
<path transform="translate(544.50,55.40)" d="M0,0V-6.8h1V-3.4h1V-1.9h1V-4.8h1V-3.8h1V-3.7h1V-1.9h1V-1.3h1V-0.9h1V-1.9h1V-4.7h1V-3.7h1V-3.9h1V-4.6h1V-1.5h1V0h3V-1.0h1V0h3V-0.7h1V0h2V-0.7h1V-1.4h1V-2.2h1V-2.0h1V-2.0h1V-1.7h1V-0.5h1V0h11V-0.5h1V-1.2h1V-1.1h1V-1.2h1V-1.4h1V-1.8h1V-2.0h1V-3.1h1V-2.4h1V-2.3h1V-1.9h1V-1.8h1V-1.8h1V-1.4h1V-2.0h1V-2.2h1V-2.3h1V-1.0h1V-0.5h1V-1.4h1V-1.0h1V-1.4h1V-0.5h1V-1.3h1V-2.2h1V-1.0h1V-2.0h1V-1.6h1V-2.4h1V-1.1h1V0h2V-1.3h1V0h3V-1.3h1V0h5V-0.5h1V-1.7h1V-0.7h1V-0.6h1V-1.8h1V-1.5h1V-1.5h1V-1.4h1V-2.0h1V-0.7h1V-0.7h1V-1.6h1V-1.2h1V-1.9h1V-1.8h1V-0.8h1V-1.0h1V-2.5h1V-1.6h1V-2.3h1V-0.8h1V0h3V-1.0h1V-0.7h1V0h2V-1.1h1V0h4V-1.0h1V-2.5h1V-2.6h1V-2.8h1V-3.1h1V-1.6h1V-2.2h1V-1.6h1V-1.1h1V0H128.4Z" fill="#222"/>
<line x1="544.50" y1="55.40" x2="672.90" y2="55.40" stroke="#3c3c3c" stroke-width="1.4"/>
<path transform="translate(544.50,63.05)" d="M0,0V-6.8h1V-2.8h1V-2.6h1V-1.0h1V-1.4h1V-1.2h1V-1.2h1V-1.5h1V-1.6h1V-4.6h1V-3.1h1V-4.6h1V-1.4h1V0h1V-0.9h1V-1.6h1V-3.9h1V-1.2h1V0h9V-0.7h1V0h1V-1.0h1V0h1V-1.2h1V0h14V-0.4h1V-0.6h1V-0.8h1V-0.9h1V-1.1h1V-1.0h1V-1.0h1V-0.4h1V-1.0h1V-1.2h1V-0.7h1V-1.2h1V-0.9h1V-2.5h1V-1.6h1V-0.6h1V0h6V-0.6h1V-0.9h1V-1.0h1V-2.0h1V-2.6h1V-2.6h1V-1.3h1V-0.7h1V-2.3h1V-1.6h1V-1.6h1V-1.6h1V-1.8h1V-3.0h1V-1.2h1V0h1V-0.7h1V-2.4h1V-1.7h1V-2.9h1V-2.0h1V-2.2h1V-2.7h1V-3.0h1V-2.4h1V-1.8h1V-2.1h1V-1.8h1V-2.3h1V-1.0h1V-2.2h1V-1.5h1V-1.8h1V-1.5h1V-2.0h1V-1.7h1V-0.5h1V0h9V-0.6h1V-1.7h1V-1.5h1V-1.0h1V-0.8h1V0h2V-0.6h1V0h1V-1.3h1V0h3V-0.5h1V0H128.4Z" fill="#222"/>
<line x1="544.50" y1="63.05" x2="672.90" y2="63.05" stroke="#3c3c3c" stroke-width="1.4"/>
<path transform="translate(544.50,70.70)" d="M0,0V-5.4h1V-3.9h1V-2.0h1V-3.0h1V-3.7h1V-2.6h1V-1.1h1V0h6V-0.7h1V-1.4h1V-1.3h1V-1.5h1V0h1V-1.5h1V0h4V-0.7h1V0h1V-0.9h1V-1.4h1V-1.3h1V-2.0h1V-0.8h1V-1.2h1V-1.2h1V-1.6h1V-2.9h1V-2.9h1V-1.2h1V0h7V-0.7h1V-2.0h1V-1.7h1V-1.8h1V-0.7h1V0h1V-1.0h1V-3.0h1V-1.7h1V-1.3h1V-1.1h1V-1.5h1V-1.2h1V-2.0h1V-3.4h1V-2.1h1V-2.9h1V-0.7h1V-0.9h1V0h1V-0.5h1V-1.0h1V-1.2h1V-1.1h1V-0.4h1V0h1V-0.9h1V-1.6h1V-1.7h1V-0.9h1V0h2V-0.6h1V0h9V-1.5h1V0h5V-0.8h1V-0.9h1V-0.8h1V-1.7h1V-1.7h1V-1.8h1V-2.0h1V-0.8h1V-1.3h1V-2.4h1V-0.5h1V-1.2h1V0h5V-1.0h1V-1.6h1V-0.9h1V0h1V-0.6h1V-1.7h1V-1.1h1V-0.6h1V-1.7h1V-2.1h1V-1.5h1V-1.3h1V-0.6h1V0h4V-1.0h1V-1.1h1V-1.0h1V0H128.4Z" fill="#222"/>
<line x1="544.50" y1="70.70" x2="672.90" y2="70.70" stroke="#3c3c3c" stroke-width="1.4"/>
<path transform="translate(544.50,78.35)" d="M0,0V-4.5h1V-4.7h1V-3.2h1V-3.0h1V-3.9h1V-3.6h1V-2.6h1V-1.7h1V0h2V-1.1h1V0h12V-1.2h1V-3.8h1V0h8V-1.2h1V-0.7h1V-2.8h1V-2.0h1V-2.5h1V-3.2h1V-1.3h1V-1.9h1V-1.7h1V-1.9h1V-1.7h1V-1.1h1V0h1V-0.7h1V-3.1h1V-2.1h1V-1.3h1V0h1V-1.0h1V0h3V-0.7h1V-2.2h1V-2.2h1V-2.8h1V-1.9h1V-0.8h1V-1.3h1V-0.4h1V-1.7h1V-1.3h1V-0.8h1V-0.7h1V-0.6h1V-0.8h1V-1.1h1V-2.1h1V-1.6h1V-2.0h1V-1.4h1V-0.6h1V-0.6h1V-1.4h1V-2.1h1V-1.7h1V-2.2h1V-1.5h1V0h11V-0.5h1V-0.9h1V-1.2h1V-1.0h1V-1.6h1V-1.2h1V-1.3h1V-0.7h1V-3.0h1V-2.6h1V-2.9h1V-2.9h1V-0.8h1V0h2V-1.1h1V0h4V-1.1h1V-0.5h1V-0.7h1V-1.5h1V-1.5h1V-1.3h1V-2.3h1V-2.3h1V-2.0h1V-3.2h1V-1.1h1V-1.3h1V-1.4h1V-1.3h1V0h1V-1.3h1V0H128.4Z" fill="#222"/>
<line x1="544.50" y1="78.35" x2="672.90" y2="78.35" stroke="#3c3c3c" stroke-width="1.4"/>
<path transform="translate(544.50,86.00)" d="M0,0V-6.9h1V-3.8h1V-3.2h1V-3.8h1V-1.4h1V-1.5h1V-0.6h1V0h3V-1.0h1V0h8V-1.7h1V-4.4h1V-4.3h1V-1.6h1V0h1V-1.1h1V0h3V-1.2h1V-2.2h1V-1.2h1V-2.3h1V-2.1h1V-1.6h1V-2.5h1V-1.7h1V-1.3h1V-1.1h1V-0.8h1V-2.0h1V-1.9h1V-2.0h1V-0.9h1V-1.2h1V-2.1h1V-1.9h1V-2.4h1V-0.7h1V0h1V-1.2h1V-2.8h1V-2.4h1V-1.2h1V-1.8h1V-2.1h1V-2.0h1V-0.9h1V-1.4h1V-0.8h1V-1.1h1V-0.9h1V-0.8h1V0h3V-1.3h1V-1.7h1V-3.0h1V-3.3h1V-2.1h1V-2.6h1V-0.9h1V-0.7h1V-2.3h1V-1.9h1V-1.8h1V-0.9h1V0h5V-1.0h1V-2.5h1V-1.4h1V-1.1h1V-1.1h1V-1.1h1V-1.5h1V-1.5h1V0h2V-0.4h1V-1.0h1V-1.3h1V-1.7h1V-0.6h1V0h2V-1.4h1V0h4V-0.8h1V-2.7h1V-1.8h1V-1.0h1V0h1V-0.7h1V-1.1h1V-1.7h1V-3.5h1V-1.1h1V0h1V-0.9h1V-2.8h1V-2.3h1V-2.3h1V-2.6h1V-1.1h1V-1.3h1V0h1V-1.0h1V-2.7h1V-2.6h1V-1.1h1V0H128.4Z" fill="#222"/>
<line x1="544.50" y1="86.00" x2="672.90" y2="86.00" stroke="#3c3c3c" stroke-width="1.4"/>
<path transform="translate(544.50,93.65)" d="M0,0V-4.1h1V-3.5h1V-3.2h1V-3.0h1V-3.2h1V-1.0h1V-1.7h1V-2.9h1V-3.9h1V-3.4h1V-3.2h1V-1.1h1V-1.7h1V-1.7h1V-1.5h1V-0.6h1V0h4V-1.5h1V0h4V-2.9h1V-1.9h1V-1.6h1V-1.0h1V-0.4h1V-1.3h1V-0.9h1V-0.8h1V-1.1h1V-0.5h1V-1.2h1V0h2V-1.3h1V-0.7h1V-0.5h1V-1.2h1V-1.7h1V-1.6h1V-1.9h1V-1.2h1V-2.5h1V-1.9h1V-3.1h1V-1.1h1V-0.7h1V-1.2h1V-0.7h1V0h4V-0.8h1V-1.9h1V-1.7h1V-0.9h1V0h2V-0.5h1V-1.2h1V-1.0h1V-1.9h1V-2.2h1V-2.9h1V-2.4h1V-2.2h1V-1.4h1V-2.4h1V-1.0h1V0h1V-0.6h1V-1.4h1V-0.9h1V-1.5h1V0h6V-1.3h1V0h1V-0.9h1V0h7V-0.7h1V-0.6h1V-1.3h1V-1.1h1V-1.3h1V-1.0h1V0h1V-1.1h1V0h1V-1.1h1V-2.5h1V-2.0h1V-1.6h1V-1.0h1V0h1V-1.1h1V-0.5h1V-0.7h1V-0.8h1V-0.7h1V-1.2h1V0h4V-0.9h1V-1.4h1V-2.2h1V-2.5h1V-2.6h1V-3.0h1V-1.7h1V-1.9h1V0H128.4Z" fill="#222"/>
<line x1="544.50" y1="93.65" x2="672.90" y2="93.65" stroke="#3c3c3c" stroke-width="1.4"/>
<path transform="translate(544.50,101.30)" d="M0,0V-6.1h1V-3.9h1V-1.8h1V-2.6h1V-3.1h1V-3.4h1V-2.8h1V-1.5h1V0h3V-0.6h1V0h12V-0.6h1V-0.6h1V-1.5h1V-1.9h1V-1.4h1V-2.2h1V-0.8h1V-1.0h1V-1.7h1V0h7V-0.5h1V-1.0h1V-1.5h1V-1.4h1V-0.7h1V-2.7h1V-1.7h1V-1.5h1V-1.4h1V-1.5h1V-1.0h1V-1.6h1V-2.3h1V-2.5h1V-2.0h1V-0.8h1V-0.8h1V-1.9h1V-2.8h1V-3.4h1V-2.3h1V-1.0h1V0h3V-0.7h1V-2.2h1V-2.2h1V-0.8h1V-1.4h1V0h4V-0.4h1V-1.2h1V-1.1h1V-1.1h1V-2.4h1V-2.0h1V-0.9h1V0h4V-1.3h1V0h2V-1.1h1V0h1V-1.3h1V-0.9h1V-1.9h1V-0.8h1V-1.3h1V-1.1h1V-0.4h1V0h2V-0.9h1V-1.6h1V-1.3h1V-1.2h1V-1.7h1V-1.6h1V-0.5h1V-1.4h1V0h3V-1.2h1V0h1V-1.5h1V0h1V-1.2h1V-1.3h1V-1.1h1V-1.0h1V-0.7h1V0h2V-0.6h1V-1.2h1V-1.0h1V-1.6h1V0H128.4Z" fill="#222"/>
<line x1="544.50" y1="101.30" x2="672.90" y2="101.30" stroke="#3c3c3c" stroke-width="1.4"/>
<path transform="translate(544.50,108.95)" d="M0,0V-6.6h1V-4.1h1V-3.6h1V-4.4h1V-3.4h1V-2.8h1V-1.2h1V0h10V-0.6h1V-1.9h1V-1.9h1V-1.4h1V-1.4h1V-0.7h1V0h3V-0.9h1V-2.2h1V-2.6h1V-2.3h1V-2.0h1V-1.4h1V-0.7h1V-1.9h1V-1.4h1V-0.6h1V0h6V-0.8h1V-1.7h1V-1.5h1V-1.1h1V0h3V-1.2h1V-0.5h1V-1.1h1V-1.0h1V-1.2h1V-1.1h1V-0.8h1V-2.6h1V-2.3h1V-2.2h1V-2.2h1V-2.3h1V-2.4h1V-2.3h1V-0.7h1V0h1V-1.1h1V-1.6h1V-1.7h1V-1.7h1V-2.4h1V-2.8h1V-2.1h1V-2.4h1V-1.6h1V-0.5h1V0h3V-1.4h1V0h9V-0.5h1V-1.5h1V-1.2h1V-1.0h1V-0.9h1V0h7V-1.1h1V-1.0h1V-1.0h1V-1.4h1V-0.8h1V-1.8h1V-1.8h1V-1.5h1V-1.6h1V-2.4h1V-1.3h1V-2.0h1V-1.8h1V-0.5h1V-1.1h1V-1.2h1V-2.5h1V-2.0h1V-2.2h1V-2.0h1V-1.2h1V-2.4h1V-1.8h1V-0.7h1V0h2V-0.9h1V0H128.4Z" fill="#222"/>
<line x1="544.50" y1="108.95" x2="672.90" y2="108.95" stroke="#3c3c3c" stroke-width="1.4"/>
<path transform="translate(544.50,116.60)" d="M0,0V-5.7h1V-4.1h1V-4.8h1V-4.9h1V-1.5h1V-1.5h1V-3.6h1V-2.7h1V-1.5h1V-0.8h1V0h6V-0.9h1V0h8V-2.2h1V-2.8h1V-2.6h1V-1.8h1V-2.2h1V-0.8h1V0h1V-1.0h1V0h2V-0.7h1V-1.0h1V-1.4h1V-1.2h1V-2.8h1V-1.7h1V-2.0h1V-2.8h1V-1.2h1V-1.8h1V-2.5h1V-3.2h1V-2.8h1V-2.8h1V-2.5h1V-0.8h1V0h6V-1.4h1V-1.3h1V-2.9h1V-2.3h1V-2.2h1V-0.8h1V0h1V-0.7h1V0h1V-1.0h1V-1.8h1V-2.2h1V-1.6h1V-0.8h1V0h5V-0.8h1V-1.6h1V-1.9h1V-1.6h1V-0.8h1V-2.8h1V-2.6h1V-1.4h1V-0.5h1V0h9V-1.4h1V-1.8h1V-2.0h1V-1.5h1V-2.2h1V-1.4h1V-0.6h1V0h1V-0.9h1V-1.9h1V-1.7h1V-0.7h1V-1.2h1V-2.8h1V-1.1h1V0h6V-0.9h1V-2.0h1V-1.8h1V-1.9h1V-2.4h1V-0.6h1V-1.2h1V-1.6h1V-2.9h1V-1.9h1V-2.1h1V-1.3h1V0H128.4Z" fill="#222"/>
<line x1="544.50" y1="116.60" x2="672.90" y2="116.60" stroke="#3c3c3c" stroke-width="1.4"/>
<path transform="translate(544.50,124.25)" d="M0,0V-6.0h1V-3.5h1V-3.6h1V-1.9h1V0h1V-0.6h1V-1.7h1V-1.5h1V-1.7h1V-0.9h1V-0.9h1V0h1V-0.9h1V0h12V-0.8h1V-1.6h1V-1.0h1V-2.9h1V-1.7h1V-1.1h1V0h7V-0.4h1V-1.5h1V-2.3h1V-2.0h1V-1.8h1V-2.6h1V-2.1h1V-2.2h1V-2.6h1V-2.2h1V-1.5h1V-1.4h1V-1.0h1V-1.6h1V-2.3h1V-1.6h1V-2.2h1V-1.1h1V0h10V-0.8h1V-0.7h1V-1.6h1V-1.4h1V-2.1h1V-1.5h1V-2.5h1V-2.4h1V-2.9h1V-2.1h1V-1.1h1V0h2V-0.9h1V0h1V-1.0h1V-1.7h1V-1.6h1V-1.9h1V-2.3h1V-0.9h1V-0.7h1V-1.7h1V-2.2h1V-2.6h1V-2.4h1V-2.5h1V-0.6h1V0h1V-0.7h1V0h1V-1.0h1V0h4V-0.8h1V-0.7h1V-2.2h1V-2.0h1V-1.4h1V-0.8h1V0h9V-0.6h1V-1.1h1V-2.1h1V-2.3h1V-2.1h1V-2.5h1V-3.3h1V-3.0h1V-3.1h1V-2.3h1V-1.2h1V0H128.4Z" fill="#222"/>
<line x1="544.50" y1="124.25" x2="672.90" y2="124.25" stroke="#3c3c3c" stroke-width="1.4"/>
<path transform="translate(544.50,131.90)" d="M0,0V-6.7h1V-3.0h1V-3.7h1V-1.1h1V0h1V-1.4h1V-4.4h1V-2.2h1V-2.2h1V-2.8h1V-2.0h1V-2.7h1V-1.3h1V0h6V-1.2h1V0h2V-0.7h1V0h8V-1.0h1V-1.4h1V-2.4h1V-0.7h1V0h3V-0.6h1V-1.6h1V-1.4h1V-0.9h1V-1.8h1V-2.5h1V-0.6h1V0h1V-1.1h1V0h6V-0.7h1V0h10V-0.6h1V-0.8h1V-1.3h1V-0.5h1V-1.5h1V0h12V-0.5h1V-1.1h1V-1.9h1V-1.1h1V-1.7h1V-2.6h1V-0.9h1V-0.6h1V-0.9h1V-1.7h1V-1.6h1V-2.7h1V-1.1h1V-1.3h1V-2.5h1V-1.5h1V-1.8h1V-2.6h1V-1.4h1V-0.8h1V0h5V-1.1h1V-3.2h1V-2.5h1V-3.2h1V-3.1h1V-1.5h1V-0.9h1V-1.0h1V-1.5h1V0h5V-0.7h1V-1.5h1V-1.2h1V-1.2h1V-1.3h1V-1.7h1V-1.3h1V-1.7h1V0H128.4Z" fill="#222"/>
<line x1="544.50" y1="131.90" x2="672.90" y2="131.90" stroke="#3c3c3c" stroke-width="1.4"/>
<path transform="translate(544.50,139.55)" d="M0,0V-4.6h1V-3.5h1V-1.4h1V-0.6h1V-0.7h1V-1.3h1V0h1V-1.5h1V-4.2h1V-3.4h1V-2.7h1V-3.5h1V-2.5h1V-3.2h1V-2.2h1V-0.9h1V-1.1h1V0h5V-0.7h1V0h1V-0.6h1V0h2V-1.4h1V-0.6h1V-1.1h1V-0.8h1V-0.6h1V-0.8h1V-0.9h1V-0.5h1V0h1V-0.7h1V-1.6h1V-2.6h1V-2.5h1V-2.3h1V-2.2h1V-1.5h1V-1.7h1V-2.8h1V-2.6h1V-2.5h1V-1.1h1V0h2V-0.7h1V-1.2h1V-1.1h1V-1.4h1V-1.2h1V-1.3h1V-1.0h1V-0.5h1V0h3V-0.8h1V-2.8h1V-2.3h1V-2.5h1V-2.6h1V-2.5h1V-2.6h1V-2.3h1V-1.2h1V-1.1h1V0h4V-1.3h1V0h16V-1.0h1V-0.4h1V0h4V-0.5h1V-0.7h1V-1.1h1V-1.4h1V0h3V-1.1h1V-1.9h1V-2.3h1V-1.5h1V-1.8h1V-1.4h1V-1.2h1V-1.8h1V-2.6h1V-1.8h1V-2.5h1V-2.0h1V-1.1h1V0h4V-1.0h1V0H128.4Z" fill="#222"/>
<line x1="544.50" y1="139.55" x2="672.90" y2="139.55" stroke="#3c3c3c" stroke-width="1.4"/>
<rect x="71.70" y="190.30" width="62.50" height="90.90" fill="#f1f1f1"/>
<rect x="134.20" y="190.30" width="66.70" height="90.90" fill="#c4c4c4"/>
<path transform="translate(71.70,195.20)" d="M0,0V-3.0h1V-2.1h1V-2.6h1V-2.5h1V-1.9h1V-1.8h1V-1.3h1V0h2V-1.2h1V-3.1h1V-2.3h1V-3.5h1V-4.5h1V-2.2h1V-3.2h1V-3.7h1V-3.9h1V-3.0h1V-2.9h1V-2.2h1V-2.3h1V-3.2h1V-3.4h1V-5.0h1V-5.0h1V-5.4h1V-3.2h1V-2.0h1V-1.9h1V-5.3h1V-3.2h1V-4.6h1V-3.9h1V-2.8h1V-3.2h1V-1.9h1V-2.4h1V-1.4h1V-0.9h1V-1.8h1V-2.4h1V-3.4h1V-4.3h1V-3.6h1V-3.1h1V-4.3h1V-4.3h1V-4.4h1V-4.2h1V-3.4h1V-4.0h1V-4.7h1V-4.5h1V-3.6h1V-4.5h1V-2.9h1V-4.1h1V-1.7h1V-1.1h1V-0.8h1V-0.9h1V0H126.0Z" fill="#141414"/>
<line x1="71.70" y1="195.20" x2="197.70" y2="195.20" stroke="#555" stroke-width="1.4"/>
<path transform="translate(71.70,202.92)" d="M0,0V-3.5h1V-5.0h1V-3.2h1V-4.1h1V-5.3h1V-3.1h1V-3.4h1V-4.3h1V-3.9h1V-3.0h1V-2.6h1V-4.1h1V-1.6h1V-1.1h1V-1.1h1V-1.6h1V-1.8h1V-2.6h1V-2.8h1V0h1V-1.6h1V-2.2h1V-3.0h1V-3.5h1V-5.0h1V-4.7h1V-3.3h1V-2.5h1V-3.1h1V-1.3h1V-2.1h1V-1.8h1V-3.1h1V-1.9h1V-1.8h1V-3.3h1V-4.8h1V-2.9h1V-2.8h1V-2.7h1V-1.0h1V-3.7h1V-3.6h1V-3.2h1V-4.8h1V-3.8h1V-3.6h1V-1.3h1V-0.8h1V0h1V-1.2h1V-1.2h1V-1.7h1V-2.8h1V-3.3h1V-3.1h1V-3.2h1V-3.5h1V-3.7h1V-4.1h1V-4.1h1V-3.6h1V0H126.0Z" fill="#141414"/>
<line x1="71.70" y1="202.92" x2="197.70" y2="202.92" stroke="#555" stroke-width="1.4"/>
<path transform="translate(71.70,210.64)" d="M0,0V-1.0h1V0h2V-1.6h1V0h1V-1.9h1V-1.2h1V-4.1h1V-4.1h1V-2.9h1V-5.0h1V-2.4h1V-3.2h1V-4.2h1V-3.9h1V-4.1h1V-3.1h1V-4.1h1V-1.7h1V-1.6h1V-1.5h1V-1.7h1V-2.5h1V-2.3h1V-2.5h1V-2.5h1V-1.5h1V-1.1h1V0h2V-2.3h1V0h3V-1.6h1V-2.2h1V-1.8h1V-2.1h1V0h2V-3.8h1V-4.1h1V-2.1h1V-4.5h1V-3.2h1V-4.7h1V-4.7h1V-4.8h1V-3.5h1V-4.7h1V-3.9h1V-3.3h1V-4.3h1V-2.5h1V-2.6h1V-3.6h1V-3.0h1V-4.2h1V-3.3h1V-3.5h1V-2.1h1V-2.4h1V0H126.0Z" fill="#141414"/>
<line x1="71.70" y1="210.64" x2="197.70" y2="210.64" stroke="#555" stroke-width="1.4"/>
<path transform="translate(71.70,218.36)" d="M0,0V0h4V-1.8h1V0h1V-2.4h1V0h2V-1.2h1V-3.9h1V-4.5h1V-3.4h1V-2.4h1V-2.4h1V-1.6h1V-1.4h1V-1.2h1V-1.6h1V0h2V-2.5h1V0h1V-1.5h1V-2.3h1V-3.3h1V-4.5h1V-4.5h1V-3.1h1V-5.0h1V-3.6h1V-3.4h1V-4.0h1V-2.9h1V-2.5h1V-2.5h1V-2.7h1V-3.6h1V-3.7h1V-2.0h1V-2.2h1V-3.4h1V-3.3h1V-2.5h1V-1.8h1V-1.4h1V-1.6h1V-1.3h1V-1.6h1V-3.7h1V-3.0h1V-5.1h1V-4.8h1V-4.9h1V-4.9h1V-3.1h1V-3.7h1V-1.2h1V-2.2h1V-2.7h1V-3.0h1V-2.0h1V0H126.0Z" fill="#141414"/>
<line x1="71.70" y1="218.36" x2="197.70" y2="218.36" stroke="#555" stroke-width="1.4"/>
<path transform="translate(71.70,226.08)" d="M0,0V-2.9h1V-3.5h1V-3.6h1V-2.7h1V-3.2h1V-3.0h1V-2.8h1V-2.7h1V-3.3h1V-3.3h1V-2.9h1V-3.1h1V-3.4h1V-2.4h1V-2.8h1V-2.8h1V-3.6h1V-5.0h1V-4.4h1V-3.6h1V-3.6h1V-2.1h1V-1.8h1V-0.9h1V-0.7h1V-2.6h1V-3.6h1V0h1V-3.1h1V-3.6h1V-4.5h1V-3.8h1V-3.0h1V-3.4h1V-3.4h1V-3.5h1V-1.7h1V0h1V-0.7h1V-2.0h1V-4.8h1V-4.3h1V-4.5h1V-3.1h1V-2.5h1V-3.1h1V-3.1h1V-2.2h1V-4.2h1V-4.8h1V-3.0h1V0h3V-1.8h1V-0.7h1V-2.5h1V-3.9h1V-3.6h1V-3.6h1V-4.6h1V-4.2h1V0H126.0Z" fill="#141414"/>
<line x1="71.70" y1="226.08" x2="197.70" y2="226.08" stroke="#555" stroke-width="1.4"/>
<path transform="translate(71.70,233.80)" d="M0,0V-1.5h1V-2.7h1V-3.5h1V-4.1h1V-3.4h1V-4.0h1V-5.3h1V-4.2h1V-3.5h1V-2.4h1V-3.4h1V-1.7h1V-1.7h1V-1.9h1V-3.5h1V-4.4h1V-4.4h1V-4.2h1V-3.9h1V-2.5h1V-3.5h1V-2.5h1V-3.4h1V-4.1h1V-2.5h1V-2.4h1V-3.4h1V-2.7h1V-2.9h1V-3.8h1V-4.1h1V-3.3h1V-4.5h1V-4.4h1V-2.1h1V-1.1h1V0h2V-1.2h1V-1.8h1V-4.1h1V-3.6h1V-4.5h1V-4.2h1V-5.0h1V-4.4h1V-3.4h1V-3.9h1V-3.3h1V-3.6h1V-2.3h1V-1.4h1V-4.8h1V-3.2h1V-2.2h1V-2.6h1V-3.6h1V-4.5h1V0h1V-2.6h1V-2.7h1V-3.1h1V0H126.0Z" fill="#141414"/>
<line x1="71.70" y1="233.80" x2="197.70" y2="233.80" stroke="#555" stroke-width="1.4"/>
<path transform="translate(71.70,241.52)" d="M0,0V-1.9h1V-1.1h1V-1.6h1V0h2V-0.9h1V-1.9h1V-1.8h1V-2.2h1V-2.1h1V-1.4h1V-3.5h1V0h2V-3.0h1V-1.2h1V0h2V-2.3h1V-1.2h1V-2.0h1V-2.2h1V-3.1h1V-2.1h1V-4.0h1V-2.9h1V-3.3h1V0h1V-2.2h1V-4.0h1V-2.8h1V-3.7h1V-2.8h1V-2.4h1V-1.9h1V-1.4h1V-3.8h1V-4.5h1V-3.0h1V-3.9h1V-3.8h1V-4.0h1V-3.7h1V-3.8h1V-3.2h1V-2.7h1V-4.1h1V-3.8h1V-3.0h1V-4.8h1V-3.8h1V-1.9h1V-0.8h1V-2.0h1V0h1V-1.4h1V-4.5h1V-4.3h1V-4.9h1V-5.3h1V-4.9h1V-3.2h1V0H126.0Z" fill="#141414"/>
<line x1="71.70" y1="241.52" x2="197.70" y2="241.52" stroke="#555" stroke-width="1.4"/>
<path transform="translate(71.70,249.24)" d="M0,0V0h2V-2.2h1V-1.4h1V-2.2h1V-2.1h1V-4.8h1V-5.0h1V-4.4h1V-4.3h1V-3.4h1V-3.6h1V-5.4h1V-2.4h1V-2.8h1V-2.5h1V-1.1h1V0h2V-1.4h1V-1.6h1V-1.6h1V-2.1h1V-2.3h1V-1.7h1V-1.7h1V-1.6h1V0h1V-2.2h1V-3.1h1V-3.3h1V-2.4h1V-2.0h1V-4.2h1V-3.1h1V-3.7h1V-3.6h1V-3.5h1V-4.1h1V-3.9h1V-3.2h1V-3.6h1V-2.6h1V-3.9h1V-1.4h1V-4.0h1V-2.4h1V-2.5h1V-3.6h1V0h1V-1.4h1V0h1V-2.1h1V-3.3h1V-3.1h1V-2.4h1V-2.0h1V0h1V-5.2h1V0h1V-4.5h1V-4.9h1V0H126.0Z" fill="#141414"/>
<line x1="71.70" y1="249.24" x2="197.70" y2="249.24" stroke="#555" stroke-width="1.4"/>
<path transform="translate(71.70,256.96)" d="M0,0V0h3V-0.9h1V0h3V-1.3h1V0h3V-2.9h1V-3.2h1V-3.4h1V-2.6h1V-3.8h1V-4.8h1V-3.8h1V-1.9h1V-2.0h1V-2.1h1V-2.8h1V-3.8h1V-0.7h1V-4.0h1V-3.2h1V-3.0h1V-2.5h1V-2.9h1V-2.6h1V-2.6h1V-3.3h1V-2.8h1V-0.9h1V-1.6h1V-3.0h1V0h1V-3.8h1V-2.8h1V-4.0h1V-4.8h1V-5.4h1V-3.7h1V-4.5h1V-3.9h1V-3.8h1V-3.4h1V-4.9h1V-2.5h1V-3.4h1V-2.5h1V-2.9h1V-3.5h1V-3.3h1V-4.0h1V-3.0h1V-3.4h1V-3.7h1V-2.5h1V-4.6h1V-5.1h1V-1.2h1V0H126.0Z" fill="#141414"/>
<line x1="71.70" y1="256.96" x2="197.70" y2="256.96" stroke="#555" stroke-width="1.4"/>
<path transform="translate(71.70,264.68)" d="M0,0V-3.3h1V-2.7h1V-3.7h1V-2.3h1V-2.8h1V-2.3h1V-2.3h1V-4.2h1V-4.0h1V-3.3h1V-4.4h1V-3.0h1V-1.9h1V0h1V-2.4h1V-3.3h1V-3.7h1V-2.6h1V-2.9h1V-2.3h1V-1.3h1V-1.1h1V-4.0h1V-1.3h1V-2.8h1V-2.6h1V-3.7h1V-3.0h1V-2.5h1V-3.2h1V-2.2h1V-3.7h1V-3.0h1V-3.4h1V-4.4h1V-3.5h1V-3.1h1V-2.4h1V-1.8h1V-1.3h1V-3.4h1V-0.7h1V-4.7h1V-3.9h1V-3.4h1V-2.2h1V-3.3h1V-3.4h1V-2.5h1V-2.6h1V-4.3h1V-3.8h1V-3.9h1V-5.3h1V-5.3h1V-3.2h1V-4.9h1V0h1V-2.0h1V0h2V-1.6h1V0H126.0Z" fill="#141414"/>
<line x1="71.70" y1="264.68" x2="197.70" y2="264.68" stroke="#555" stroke-width="1.4"/>
<path transform="translate(71.70,272.40)" d="M0,0V0h1V-2.4h1V0h2V-1.0h1V-2.4h1V-5.1h1V-5.2h1V-2.6h1V-4.1h1V-3.3h1V-2.8h1V-4.6h1V-5.3h1V-4.9h1V-5.5h1V-5.0h1V-4.1h1V-3.3h1V-4.4h1V-2.1h1V-1.4h1V-2.4h1V-1.4h1V-1.4h1V-3.1h1V-4.5h1V-4.3h1V-3.9h1V-2.1h1V-3.1h1V-3.3h1V-4.8h1V-4.2h1V-4.0h1V-1.8h1V-1.5h1V0h2V-2.4h1V0h3V-2.0h1V-4.1h1V-4.3h1V-4.1h1V-3.3h1V-5.3h1V-4.2h1V-2.8h1V-1.3h1V-1.1h1V-2.4h1V-3.5h1V-4.3h1V-3.5h1V-4.8h1V-5.0h1V-3.1h1V-1.7h1V0h1V-3.8h1V-2.6h1V-1.9h1V-3.4h1V-2.2h1V0h23V-0.5h1V-1.1h1V-0.5h1V0H126.0Z" fill="#141414"/>
<line x1="71.70" y1="272.40" x2="197.70" y2="272.40" stroke="#555" stroke-width="1.4"/>
<path transform="translate(71.70,280.12)" d="M0,0V-1.2h1V0h2V-1.4h1V-2.3h1V-2.5h1V-3.2h1V-3.9h1V-4.8h1V-3.4h1V-3.5h1V-2.4h1V-2.4h1V-4.6h1V-4.1h1V-3.0h1V-4.2h1V-4.2h1V-4.8h1V-2.8h1V-2.0h1V0h1V-3.3h1V-1.9h1V-2.7h1V-4.1h1V-4.4h1V0h1V-1.4h1V-1.1h1V0h1V-1.7h1V-2.3h1V-1.8h1V-2.7h1V-4.0h1V-3.3h1V-4.1h1V-3.0h1V-4.0h1V-4.0h1V-2.3h1V0h1V-2.6h1V-2.7h1V-2.1h1V-3.0h1V-4.5h1V-4.0h1V-3.7h1V-4.2h1V-3.8h1V-2.7h1V-2.3h1V-1.9h1V-2.5h1V-2.7h1V-2.8h1V-4.2h1V-4.6h1V-3.7h1V-3.5h1V-2.6h1V-2.0h1V-1.4h1V0h1V-1.6h1V0H126.0Z" fill="#141414"/>
<line x1="71.70" y1="280.12" x2="197.70" y2="280.12" stroke="#555" stroke-width="1.4"/>
<rect x="208.90" y="192.50" width="66.90" height="89.00" fill="#f0f0f0"/>
<rect x="275.80" y="192.50" width="65.70" height="89.00" fill="#c0c0c0"/>
<rect x="208.90" y="193.70" width="66.90" height="1.6" fill="#f8f8f8"/>
<rect x="208.90" y="201.72" width="66.90" height="1.6" fill="#f8f8f8"/>
<rect x="208.90" y="209.74" width="66.90" height="1.6" fill="#f8f8f8"/>
<rect x="208.90" y="217.76" width="66.90" height="1.6" fill="#f8f8f8"/>
<rect x="208.90" y="225.78" width="66.90" height="1.6" fill="#f8f8f8"/>
<rect x="208.90" y="233.80" width="66.90" height="1.6" fill="#f8f8f8"/>
<rect x="208.90" y="241.82" width="66.90" height="1.6" fill="#f8f8f8"/>
<rect x="208.90" y="249.84" width="66.90" height="1.6" fill="#f8f8f8"/>
<rect x="208.90" y="257.86" width="66.90" height="1.6" fill="#f8f8f8"/>
<rect x="208.90" y="265.88" width="66.90" height="1.6" fill="#f8f8f8"/>
<rect x="208.90" y="273.90" width="66.90" height="1.6" fill="#f8f8f8"/>
<line x1="208.90" y1="193.00" x2="341.50" y2="193.00" stroke="#3c3c3c" stroke-width="1.4"/>
<path transform="translate(208.90,201.02)" d="M0,0V-4.9h1V-3.6h1V-5.2h1V0h4V-4.4h1V-1.1h1V0h1V-0.7h1V0h1V-1.0h1V0h1V-1.6h1V-4.9h1V-4.6h1V-4.1h1V-5.1h1V-4.4h1V-2.0h1V-1.4h1V-0.7h1V0h6V-1.1h1V-2.5h1V-4.0h1V-3.7h1V-3.5h1V-2.7h1V-2.8h1V-1.9h1V-2.3h1V-2.5h1V-1.5h1V0h7V-1.2h1V-1.9h1V-1.3h1V0h1V-1.0h1V-2.4h1V-2.1h1V-2.7h1V-0.7h1V0h10V-1.4h1V0h6V-1.2h1V-2.4h1V-2.7h1V-2.6h1V-5.4h1V-2.3h1V-2.7h1V-1.5h1V-1.0h1V-2.6h1V-2.6h1V-1.1h1V0h6V-1.3h1V-3.9h1V-3.6h1V-1.5h1V-1.4h1V0h12V-1.2h1V0h2V-0.7h1V-1.7h1V-2.0h1V-2.3h1V-2.7h1V-2.2h1V-2.5h1V-2.0h1V-1.2h1V-0.7h1V0h2V-0.7h1V0h4V-0.5h1V-1.1h1V-1.6h1V0h1V-0.8h1V0H132.6Z" fill="#1e1e1e"/>
<line x1="208.90" y1="201.02" x2="341.50" y2="201.02" stroke="#3c3c3c" stroke-width="1.4"/>
<path transform="translate(208.90,209.04)" d="M0,0V-4.6h1V-2.8h1V-2.6h1V-1.9h1V-2.3h1V-1.3h1V0h2V-0.6h1V-2.0h1V-2.4h1V-2.4h1V-2.2h1V-0.9h1V0h1V-1.4h1V-2.2h1V-2.6h1V-4.1h1V-4.3h1V-4.8h1V-1.9h1V-1.2h1V-1.3h1V-2.4h1V-2.1h1V-4.4h1V-1.0h1V0h19V-0.9h1V0h4V-0.8h1V0h4V-1.2h1V-4.4h1V-5.6h1V-4.3h1V-4.7h1V-1.9h1V0h1V-1.0h1V-1.7h1V-2.2h1V-1.2h1V-1.1h1V-2.8h1V-2.4h1V-1.2h1V-0.8h1V0h2V-4.0h1V0h1V-1.2h1V-3.9h1V-3.8h1V-4.8h1V-1.3h1V0h1V-1.2h1V-2.8h1V-4.7h1V-3.2h1V-4.5h1V-2.2h1V-1.0h1V-0.8h1V-1.8h1V-1.6h1V-1.8h1V-1.3h1V-0.9h1V-0.8h1V-1.3h1V-1.5h1V-1.6h1V-0.9h1V0h2V-0.9h1V0h10V-1.3h1V-3.6h1V-4.2h1V-2.9h1V-0.9h1V0H132.6Z" fill="#1e1e1e"/>
<line x1="208.90" y1="209.04" x2="341.50" y2="209.04" stroke="#3c3c3c" stroke-width="1.4"/>
<path transform="translate(208.90,217.06)" d="M0,0V-6.6h1V-3.3h1V-1.8h1V-5.6h1V-5.7h1V-2.3h1V-3.5h1V-4.6h1V-5.1h1V-1.4h1V-0.8h1V0h6V-0.8h1V-1.6h1V-0.9h1V0h1V-2.3h1V-5.4h1V-3.5h1V-3.8h1V-5.5h1V-2.3h1V0h1V-6.0h1V0h12V-2.0h1V-4.3h1V-6.6h1V-2.6h1V-3.7h1V-1.9h1V-3.3h1V-3.6h1V-3.9h1V-1.8h1V-3.6h1V-4.3h1V-3.4h1V-3.1h1V-1.6h1V0h10V-1.4h1V0h4V-1.4h1V-0.9h1V-2.3h1V-4.5h1V-3.0h1V-2.3h1V-3.4h1V-2.5h1V-1.3h1V-2.2h1V-3.6h1V-2.3h1V-3.1h1V-1.7h1V-1.0h1V-1.0h1V-1.7h1V-1.1h1V-0.4h1V0h7V-1.5h1V-1.1h1V0h21V-1.1h1V-1.4h1V-1.6h1V-2.4h1V-2.0h1V-1.6h1V-2.2h1V-1.5h1V-1.1h1V-2.5h1V-2.7h1V-2.9h1V-3.0h1V0H132.6Z" fill="#1e1e1e"/>
<line x1="208.90" y1="217.06" x2="341.50" y2="217.06" stroke="#3c3c3c" stroke-width="1.4"/>
<path transform="translate(208.90,225.08)" d="M0,0V-5.3h1V-6.3h1V-4.0h1V-6.0h1V-1.9h1V-1.2h1V-1.2h1V0h1V-1.0h1V-1.2h1V-1.9h1V-2.2h1V-2.1h1V-1.2h1V0h1V-0.7h1V0h1V-1.6h1V-1.5h1V0h7V-1.4h1V-2.3h1V-3.7h1V-2.5h1V-1.1h1V0h2V-5.9h1V-1.1h1V0h1V-1.5h1V0h3V-0.8h1V-1.2h1V0h1V-1.6h1V-3.3h1V-6.5h1V0h4V-2.7h1V-2.7h1V0h5V-1.9h1V-4.2h1V-5.4h1V-4.7h1V-3.7h1V-2.6h1V0h2V-1.4h1V-4.6h1V0h6V-1.3h1V-3.4h1V-3.0h1V-4.5h1V-4.2h1V-3.9h1V-1.6h1V0h6V-1.4h1V0h3V-0.7h1V0h2V-1.3h1V-1.0h1V-1.9h1V-1.2h1V-1.4h1V-1.6h1V-1.0h1V-0.8h1V-1.0h1V-1.6h1V-3.2h1V-3.4h1V-4.8h1V-4.3h1V-2.5h1V-2.6h1V-1.2h1V0h1V-4.1h1V0h2V-1.5h1V0h4V-1.1h1V-3.1h1V-3.5h1V-3.9h1V-3.7h1V-3.3h1V-1.8h1V-1.1h1V0h1V-0.5h1V-1.1h1V-1.0h1V-1.5h1V-1.2h1V0H132.6Z" fill="#1e1e1e"/>
<line x1="208.90" y1="225.08" x2="341.50" y2="225.08" stroke="#3c3c3c" stroke-width="1.4"/>
<path transform="translate(208.90,233.10)" d="M0,0V-6.2h1V-2.9h1V0h3V-6.4h1V0h3V-0.7h1V0h4V-4.1h1V-1.2h1V-4.0h1V-2.5h1V-3.8h1V-3.1h1V-1.3h1V0h1V-1.0h1V0h2V-0.7h1V0h2V-1.3h1V0h4V-1.6h1V-3.6h1V-4.0h1V-2.9h1V-4.0h1V-1.6h1V0h1V-0.8h1V-2.5h1V-3.5h1V-2.7h1V-3.1h1V-2.8h1V-1.0h1V0h4V-0.7h1V0h1V-1.1h1V0h4V-1.0h1V-2.7h1V-2.3h1V-2.9h1V-3.6h1V-5.7h1V-6.6h1V-4.1h1V-4.5h1V0h7V-5.7h1V0h4V-1.0h1V0h8V-0.9h1V0h2V-1.7h1V-2.9h1V-1.0h1V-1.3h1V-1.9h1V-4.0h1V-2.4h1V-3.8h1V-2.5h1V-1.7h1V-1.4h1V0h3V-1.5h1V0h2V-0.6h1V-0.9h1V-1.7h1V-1.9h1V-1.1h1V-1.3h1V-1.0h1V-1.1h1V-1.1h1V0h4V-1.0h1V-1.9h1V-2.4h1V-3.9h1V-4.3h1V-3.0h1V-2.7h1V-1.5h1V-0.6h1V-1.9h1V-1.4h1V0H132.6Z" fill="#1e1e1e"/>
<line x1="208.90" y1="233.10" x2="341.50" y2="233.10" stroke="#3c3c3c" stroke-width="1.4"/>
<path transform="translate(208.90,241.12)" d="M0,0V-4.5h1V-3.0h1V-2.4h1V-1.7h1V-2.3h1V-1.7h1V-0.9h1V-1.3h1V-0.7h1V0h6V-1.4h1V-0.9h1V-0.8h1V-1.2h1V-0.6h1V0h4V-5.2h1V0h8V-0.7h1V0h2V-2.2h1V-4.9h1V-5.9h1V-1.9h1V-2.3h1V-1.7h1V-1.4h1V-0.9h1V0h7V-1.5h1V-1.4h1V-1.3h1V-2.0h1V-5.0h1V-4.6h1V-2.1h1V0h4V-6.8h1V0h14V-0.8h1V0h6V-1.2h1V0h8V-1.4h1V-2.4h1V-2.1h1V-2.6h1V-3.6h1V-3.3h1V-2.0h1V-0.9h1V0h6V-1.0h1V-0.8h1V-0.9h1V-0.9h1V-3.0h1V-4.0h1V-2.1h1V-3.7h1V-2.0h1V-1.5h1V0h2V-1.4h1V-2.4h1V-3.5h1V-3.5h1V-3.2h1V-0.8h1V0h3V-0.8h1V-2.6h1V-1.3h1V-2.8h1V-2.7h1V0H132.6Z" fill="#1e1e1e"/>
<line x1="208.90" y1="241.12" x2="341.50" y2="241.12" stroke="#3c3c3c" stroke-width="1.4"/>
<path transform="translate(208.90,249.14)" d="M0,0V-4.9h1V-3.7h1V0h1V-1.0h1V-2.2h1V-3.7h1V-2.4h1V-3.9h1V-4.0h1V-4.6h1V-3.2h1V-5.5h1V-1.7h1V-1.4h1V-0.9h1V-1.6h1V-1.6h1V-2.0h1V-1.6h1V-1.7h1V-4.0h1V-4.0h1V-3.9h1V-5.7h1V-4.3h1V-4.2h1V-1.3h1V-2.0h1V-4.9h1V-3.1h1V-4.6h1V-5.4h1V-5.4h1V0h11V-6.4h1V0h3V-1.3h1V-1.3h1V0h1V-0.8h1V-3.1h1V-0.7h1V0h13V-0.8h1V0h3V-0.4h1V-0.9h1V-1.2h1V-1.2h1V-1.4h1V-1.3h1V-0.9h1V-1.3h1V0h2V-0.7h1V-1.1h1V-2.0h1V-2.3h1V-2.0h1V-1.8h1V-1.1h1V-0.6h1V0h1V-0.9h1V0h2V-0.8h1V0h1V-1.3h1V-2.7h1V-2.6h1V-2.8h1V-2.7h1V-1.3h1V0h1V-0.9h1V0h3V-0.9h1V0h2V-4.2h1V-0.4h1V-1.6h1V-1.4h1V-1.1h1V-0.5h1V-1.3h1V-2.0h1V-3.8h1V-3.5h1V-2.8h1V-3.0h1V-1.5h1V0h2V-0.6h1V-1.7h1V-1.5h1V-1.7h1V-2.5h1V-1.6h1V-1.1h1V-3.2h1V-2.9h1V0H132.6Z" fill="#1e1e1e"/>
<line x1="208.90" y1="249.14" x2="341.50" y2="249.14" stroke="#3c3c3c" stroke-width="1.4"/>
<path transform="translate(208.90,257.16)" d="M0,0V-6.1h1V-4.0h1V0h1V-1.3h1V-3.1h1V-2.8h1V-4.5h1V-5.4h1V-3.9h1V-3.7h1V-5.2h1V-4.5h1V-3.4h1V-5.2h1V-3.9h1V-2.2h1V0h2V-1.3h1V-0.7h1V0h1V-6.6h1V-2.0h1V-2.5h1V-3.6h1V-1.4h1V0h2V-6.3h1V0h1V-1.1h1V-1.6h1V-1.9h1V-1.9h1V-2.9h1V-3.5h1V-2.1h1V-1.7h1V-1.2h1V-1.3h1V-1.1h1V-0.5h1V0h2V-0.9h1V-1.3h1V0h2V-0.6h1V-1.2h1V0h4V-1.1h1V0h1V-1.5h1V-1.1h1V0h3V-0.7h1V0h8V-0.5h1V-1.2h1V-1.6h1V-0.8h1V-1.0h1V0h3V-0.7h1V-1.5h1V-1.3h1V-1.9h1V-1.3h1V-0.5h1V0h4V-1.0h1V0h4V-0.7h1V-2.3h1V-1.1h1V0h1V-0.6h1V0h10V-1.3h1V0h1V-0.5h1V-1.4h1V-0.8h1V-1.2h1V-1.2h1V-1.2h1V-0.9h1V-1.7h1V-3.0h1V-3.6h1V-5.6h1V-3.7h1V-1.3h1V0h1V-0.5h1V-1.2h1V-1.4h1V-1.9h1V-1.5h1V-0.9h1V0H132.6Z" fill="#1e1e1e"/>
<line x1="208.90" y1="257.16" x2="341.50" y2="257.16" stroke="#3c3c3c" stroke-width="1.4"/>
<path transform="translate(208.90,265.18)" d="M0,0V-6.4h1V-4.0h1V0h3V-0.9h1V-2.5h1V-5.7h1V-2.0h1V0h2V-1.0h1V0h3V-0.7h1V-2.4h1V-0.8h1V-1.0h1V-3.5h1V-2.7h1V-1.9h1V-1.0h1V-1.3h1V-1.4h1V-3.2h1V-3.1h1V-1.9h1V0h3V-1.1h1V0h7V-1.0h1V-4.2h1V-3.4h1V-2.5h1V-1.3h1V0h1V-1.0h1V-2.0h1V-2.4h1V-3.3h1V-1.9h1V-2.0h1V-1.3h1V0h2V-0.8h1V-1.7h1V-3.1h1V-2.5h1V-3.1h1V-7.0h1V-1.0h1V0h4V-4.1h1V0h11V-0.6h1V0h6V-0.4h1V-0.6h1V-0.7h1V-0.9h1V-1.7h1V-1.5h1V-2.1h1V-1.6h1V-1.1h1V-0.8h1V-0.6h1V0h1V-1.2h1V0h1V-0.9h1V-1.5h1V-2.1h1V-2.7h1V-1.1h1V-1.5h1V-2.7h1V-2.5h1V-3.3h1V-4.1h1V-3.3h1V-1.0h1V0h2V-1.5h1V-4.3h1V-4.8h1V-1.7h1V0h1V-1.8h1V-3.9h1V-1.8h1V-0.9h1V0h7V-1.3h1V0H132.6Z" fill="#1e1e1e"/>
<line x1="208.90" y1="265.18" x2="341.50" y2="265.18" stroke="#3c3c3c" stroke-width="1.4"/>
<path transform="translate(208.90,273.20)" d="M0,0V-5.0h1V-3.8h1V0h3V-0.8h1V0h1V-1.6h1V-3.5h1V-2.8h1V-1.7h1V-3.0h1V-1.8h1V-3.4h1V-1.4h1V0h5V-1.2h1V-0.6h1V0h10V-0.9h1V-1.5h1V-1.4h1V-1.8h1V-2.1h1V-1.4h1V-0.6h1V0h5V-1.2h1V-2.2h1V-2.2h1V-2.3h1V-2.1h1V-1.0h1V0h2V-2.4h1V-4.0h1V-3.9h1V-5.9h1V-2.2h1V-2.3h1V-2.2h1V-3.9h1V-3.9h1V-4.5h1V-2.5h1V-1.2h1V0h1V-4.7h1V-4.3h1V0h20V-1.0h1V-1.6h1V-1.6h1V-2.1h1V-2.9h1V-3.7h1V-2.9h1V-2.8h1V-2.0h1V-1.0h1V0h3V-0.8h1V0h14V-0.4h1V-1.5h1V-0.5h1V-1.0h1V-1.1h1V-1.1h1V-5.4h1V-0.6h1V-0.7h1V-0.8h1V-2.4h1V-3.3h1V-3.2h1V-3.7h1V-2.1h1V-1.4h1V-2.1h1V-1.6h1V0H132.6Z" fill="#1e1e1e"/>
<line x1="208.90" y1="273.20" x2="341.50" y2="273.20" stroke="#3c3c3c" stroke-width="1.4"/>
<path transform="translate(208.90,281.22)" d="M0,0V-5.3h1V-2.9h1V0h21V-6.9h1V-1.1h1V-0.8h1V-0.8h1V0h3V-1.1h1V-2.9h1V-1.0h1V-5.2h1V0h4V-1.4h1V-2.3h1V-2.9h1V-0.7h1V0h1V-0.7h1V-2.1h1V-3.3h1V-3.0h1V-4.4h1V-3.0h1V-4.5h1V-2.4h1V-1.5h1V-2.9h1V-4.7h1V-3.8h1V-5.9h1V-3.2h1V-2.0h1V-0.9h1V-2.0h1V-2.3h1V-1.4h1V-1.4h1V-2.8h1V-4.0h1V-4.3h1V-2.9h1V0h7V-1.1h1V0h1V-1.2h1V0h4V-0.5h1V-2.3h1V-2.3h1V-2.0h1V-0.5h1V0h2V-1.3h1V-0.6h1V-1.1h1V-1.6h1V-1.7h1V-0.6h1V0h5V-0.7h1V0h1V-1.1h1V-3.1h1V-3.4h1V-4.5h1V-1.6h1V-0.6h1V0h2V-1.0h1V-1.1h1V-1.2h1V-1.1h1V-1.7h1V-1.3h1V-2.2h1V-3.1h1V0h1V-0.9h1V-0.7h1V-1.0h1V-0.6h1V-0.7h1V-0.7h1V-0.8h1V-1.8h1V-1.9h1V-1.9h1V-1.7h1V-1.9h1V-0.5h1V0H132.6Z" fill="#1e1e1e"/>
<line x1="208.90" y1="281.22" x2="341.50" y2="281.22" stroke="#3c3c3c" stroke-width="1.4"/>
<rect x="393.90" y="192.00" width="26.10" height="90.00" fill="#f0f0f0"/>
<rect x="420.00" y="192.00" width="103.80" height="90.00" fill="#c2c2c2"/>
<line x1="393.90" y1="194.40" x2="523.80" y2="194.40" stroke="#3c3c3c" stroke-width="1.4"/>
<path transform="translate(393.90,203.30)" d="M0,0V0h7V-0.4h1V0h1V-1.3h1V-1.6h1V-1.0h1V-1.3h1V0h5V-0.8h1V-2.3h1V0h1V-1.8h1V0h1V-2.1h1V-0.6h1V0h1V-2.6h1V-4.1h1V-5.4h1V-5.6h1V0h2V-1.7h1V-2.2h1V0h1V-3.6h1V-5.2h1V-3.5h1V-7.1h1V-5.8h1V-6.1h1V-4.3h1V-4.9h1V-1.4h1V0h9V-1.5h1V-3.5h1V-4.9h1V-4.4h1V-2.8h1V-4.2h1V-6.0h1V-4.8h1V-5.1h1V0h1V-3.1h1V-2.2h1V0h1V-1.5h1V-6.3h1V-5.4h1V-5.2h1V-2.2h1V-4.0h1V-4.8h1V-3.9h1V-5.3h1V-2.0h1V-4.5h1V-4.7h1V-5.1h1V-3.0h1V-1.1h1V0h25V-3.5h1V-3.6h1V-5.2h1V0h2V-5.8h1V-5.7h1V0h1V-1.6h1V-1.0h1V0h2V-0.7h1V0h10V-1.1h1V0H129.9Z" fill="#222"/>
<line x1="393.90" y1="203.30" x2="523.80" y2="203.30" stroke="#3c3c3c" stroke-width="1.4"/>
<path transform="translate(393.90,211.81)" d="M0,0V0h10V-0.6h1V-1.2h1V-1.1h1V-1.5h1V-1.5h1V-1.2h1V0h5V-0.6h1V-1.8h1V0h1V-2.2h1V-1.8h1V-5.0h1V-2.0h1V-4.0h1V-4.1h1V-2.1h1V-3.8h1V-3.4h1V-2.8h1V-2.6h1V-1.1h1V0h4V-2.2h1V-3.4h1V-3.6h1V-4.6h1V-3.8h1V-5.4h1V-1.4h1V-2.9h1V-3.5h1V0h23V-1.3h1V0h2V-1.2h1V0h9V-4.5h1V0h1V-4.4h1V0h1V-4.9h1V0h1V-2.0h1V0h4V-2.4h1V0h1V-5.2h1V-3.8h1V-4.7h1V-2.5h1V0h5V-1.3h1V-1.8h1V-2.6h1V-3.5h1V-3.1h1V0h1V-1.6h1V-1.5h1V0h6V-1.0h1V0H129.9Z" fill="#222"/>
<line x1="393.90" y1="211.81" x2="523.80" y2="211.81" stroke="#3c3c3c" stroke-width="1.4"/>
<path transform="translate(393.90,220.32)" d="M0,0V0h1V-1.2h1V-5.5h1V-2.8h1V-1.4h1V0h9V-2.1h1V-1.5h1V-0.5h1V0h9V-3.2h1V0h1V-6.4h1V-3.9h1V-2.5h1V-1.9h1V0h7V-4.9h1V-3.4h1V-5.7h1V-1.9h1V-5.3h1V-2.6h1V-5.5h1V-3.8h1V-2.6h1V-3.8h1V0h1V-0.8h1V-2.6h1V-4.2h1V0h1V-6.4h1V-5.8h1V-2.8h1V-2.3h1V-2.3h1V-4.4h1V-2.9h1V-3.1h1V-2.1h1V-1.2h1V0h2V-1.8h1V-3.4h1V-1.8h1V-3.2h1V-3.8h1V-1.4h1V-3.4h1V-4.0h1V0h1V-0.8h1V0h1V-2.5h1V-6.8h1V-3.5h1V-3.5h1V-4.8h1V-1.8h1V0h4V-2.6h1V0h1V-2.1h1V-3.9h1V0h1V-1.0h1V0H129.9Z" fill="#222"/>
<line x1="393.90" y1="220.32" x2="523.80" y2="220.32" stroke="#3c3c3c" stroke-width="1.4"/>
<path transform="translate(393.90,228.83)" d="M0,0V0h3V-2.0h1V-4.0h1V-3.0h1V0h13V-0.8h1V-3.2h1V0h1V-2.8h1V-3.2h1V-1.2h1V0h1V-3.7h1V-4.0h1V0h1V-3.7h1V0h2V-2.0h1V0h11V-2.9h1V-2.9h1V-2.5h1V-3.6h1V-4.0h1V-6.2h1V-3.5h1V-2.4h1V-2.5h1V-2.1h1V0h12V-2.5h1V0h1V-7.3h1V0h1V-2.0h1V-4.3h1V-2.7h1V-2.7h1V-3.2h1V-2.7h1V-5.7h1V-4.0h1V-3.1h1V0h5V-2.3h1V-2.1h1V-3.4h1V0h3V-5.8h1V-2.9h1V-2.2h1V0h4V-2.7h1V-5.5h1V-4.0h1V0h1V-6.6h1V-5.9h1V-4.3h1V-2.0h1V0h1V-1.5h1V0h8V-1.4h1V-2.0h1V-3.4h1V0h1V-4.6h1V0h1V-5.9h1V-3.4h1V-1.9h1V0H129.9Z" fill="#222"/>
<line x1="393.90" y1="228.83" x2="523.80" y2="228.83" stroke="#3c3c3c" stroke-width="1.4"/>
<path transform="translate(393.90,237.34)" d="M0,0V0h14V-1.8h1V-4.2h1V0h2V-4.3h1V-4.9h1V-4.4h1V-2.6h1V-4.3h1V-1.2h1V0h2V-1.0h1V-1.9h1V-2.0h1V-2.7h1V-1.8h1V-3.0h1V-3.1h1V-3.7h1V-3.6h1V-3.4h1V-2.3h1V-1.5h1V0h8V-0.8h1V0h6V-3.2h1V-5.1h1V-7.0h1V0h3V-1.4h1V0h4V-1.0h1V-1.9h1V0h1V-2.0h1V0h1V-1.2h1V0h2V-1.8h1V0h1V-5.5h1V-4.2h1V-3.5h1V-1.5h1V0h1V-3.0h1V-1.9h1V0h3V-1.5h1V0h4V-1.1h1V0h5V-1.0h1V-2.3h1V-4.9h1V-4.0h1V-3.7h1V-3.2h1V-3.4h1V-2.5h1V-1.1h1V0h5V-1.2h1V0h1V-2.2h1V-4.5h1V-5.8h1V-3.0h1V-5.7h1V-2.6h1V-1.1h1V0h2V-1.0h1V-3.9h1V-2.4h1V0h1V-3.2h1V-1.5h1V0H129.9Z" fill="#222"/>
<line x1="393.90" y1="237.34" x2="523.80" y2="237.34" stroke="#3c3c3c" stroke-width="1.4"/>
<path transform="translate(393.90,245.85)" d="M0,0V0h1V-4.1h1V-3.5h1V0h5V-1.5h1V0h2V-1.5h1V0h8V-2.3h1V-1.4h1V-2.3h1V-2.1h1V-0.6h1V0h5V-6.5h1V-4.5h1V0h3V-2.6h1V0h2V-6.4h1V0h1V-4.6h1V-4.1h1V0h15V-1.6h1V-5.1h1V0h11V-1.3h1V-3.5h1V-3.2h1V-3.3h1V-1.2h1V0h2V-1.4h1V-3.3h1V-3.5h1V-4.2h1V-5.3h1V-1.9h1V0h2V-1.1h1V0h1V-1.5h1V-2.5h1V-3.2h1V-3.5h1V-5.2h1V-2.8h1V-3.2h1V-1.4h1V-3.1h1V-1.6h1V-3.5h1V-2.1h1V-4.6h1V-4.7h1V-4.2h1V-5.4h1V-2.9h1V-3.2h1V-2.2h1V-0.9h1V0h12V-1.0h1V0h4V-0.7h1V0H129.9Z" fill="#222"/>
<line x1="393.90" y1="245.85" x2="523.80" y2="245.85" stroke="#3c3c3c" stroke-width="1.4"/>
<path transform="translate(393.90,254.36)" d="M0,0V0h10V-0.8h1V-3.0h1V-3.0h1V0h1V-1.7h1V-4.0h1V-3.2h1V-4.1h1V-1.5h1V0h23V-1.2h1V-1.3h1V-2.4h1V-3.5h1V-4.5h1V-3.9h1V-5.2h1V-4.1h1V0h3V-2.4h1V-3.7h1V-5.9h1V-1.2h1V-6.3h1V0h1V-4.2h1V-3.1h1V-2.3h1V0h17V-0.9h1V-2.3h1V-4.8h1V-4.1h1V0h1V-6.6h1V-3.2h1V-3.6h1V-1.6h1V-2.4h1V-2.6h1V-2.2h1V-1.1h1V0h1V-1.4h1V0h1V-5.1h1V0h1V-4.7h1V0h4V-4.0h1V-2.2h1V-3.6h1V-3.4h1V0h1V-1.8h1V0h5V-2.5h1V0h1V-5.6h1V0h3V-6.0h1V-4.2h1V-1.7h1V0h2V-1.1h1V-2.3h1V-2.3h1V-2.7h1V-1.4h1V-1.4h1V0H129.9Z" fill="#222"/>
<line x1="393.90" y1="254.36" x2="523.80" y2="254.36" stroke="#3c3c3c" stroke-width="1.4"/>
<path transform="translate(393.90,262.87)" d="M0,0V0h15V-1.6h1V-2.0h1V0h1V-4.6h1V0h10V-1.6h1V-4.5h1V-5.7h1V-3.3h1V-3.6h1V-2.1h1V0h5V-1.1h1V0h29V-1.4h1V-1.0h1V0h2V-2.3h1V-2.2h1V-2.5h1V-2.0h1V-2.1h1V-1.6h1V0h1V-1.5h1V-4.4h1V-0.7h1V-2.0h1V-2.4h1V-3.1h1V-5.0h1V-4.3h1V-2.8h1V-3.9h1V-5.2h1V-5.6h1V-5.3h1V-2.8h1V-2.7h1V-1.5h1V0h12V-1.3h1V0h1V-2.1h1V-4.0h1V-3.0h1V-3.2h1V0h1V-3.9h1V0h8V-1.4h1V-2.5h1V-3.5h1V0H129.9Z" fill="#222"/>
<line x1="393.90" y1="262.87" x2="523.80" y2="262.87" stroke="#3c3c3c" stroke-width="1.4"/>
<path transform="translate(393.90,271.38)" d="M0,0V0h3V-1.6h1V-3.5h1V-5.5h1V-3.1h1V-1.7h1V0h7V-1.1h1V-2.0h1V-2.4h1V0h5V-1.6h1V0h1V-4.7h1V0h8V-2.2h1V-3.6h1V-2.7h1V-4.1h1V-3.2h1V0h1V-2.9h1V-2.5h1V0h2V-2.1h1V-0.7h1V0h9V-0.8h1V-1.4h1V-1.9h1V-4.4h1V-3.2h1V-5.0h1V-3.1h1V-4.0h1V-1.8h1V-1.5h1V0h1V-1.5h1V-2.3h1V-2.9h1V-4.5h1V-3.7h1V-2.5h1V-3.7h1V0h1V-2.4h1V-1.5h1V0h8V-2.6h1V-3.8h1V-3.0h1V-0.9h1V-4.8h1V-4.1h1V-2.8h1V-2.6h1V-4.6h1V0h2V-5.5h1V-4.0h1V-1.8h1V0h12V-0.9h1V-1.7h1V-2.0h1V-2.7h1V0h1V-3.5h1V-2.0h1V-2.0h1V-1.3h1V0H129.9Z" fill="#222"/>
<line x1="393.90" y1="271.38" x2="523.80" y2="271.38" stroke="#3c3c3c" stroke-width="1.4"/>
<path transform="translate(393.90,279.89)" d="M0,0V0h8V-1.7h1V-3.9h1V0h2V-1.7h1V0h6V-1.3h1V-4.6h1V-4.3h1V0h1V-1.7h1V0h20V-1.2h1V0h2V-1.3h1V0h8V-0.9h1V0h1V-1.2h1V-1.2h1V-0.9h1V-0.9h1V0h8V-0.8h1V-1.0h1V-1.4h1V-0.5h1V0h22V-1.7h1V-0.9h1V0h12V-1.0h1V-1.1h1V-1.3h1V-1.4h1V0H129.9Z" fill="#222"/>
<line x1="393.90" y1="279.89" x2="523.80" y2="279.89" stroke="#3c3c3c" stroke-width="1.4"/>
<rect x="544.50" y="192.20" width="25.50" height="93.00" fill="#f3f3f3"/>
<rect x="570.00" y="192.20" width="103.10" height="93.00" fill="#c3c3c3"/>
<path transform="translate(544.50,198.20)" d="M0,0V-3.8h1V-3.0h1V-2.5h1V-2.4h1V-0.9h1V0h3V-1.2h1V-3.4h1V-3.7h1V-3.2h1V-1.5h1V-1.5h1V-0.6h1V0h3V-0.7h1V-1.9h1V-1.2h1V-1.7h1V-1.4h1V-1.5h1V-1.8h1V-1.0h1V0h2V-1.1h1V0h1V-1.2h1V0h1V-0.7h1V-1.4h1V-2.8h1V-1.6h1V-3.0h1V-2.1h1V-1.0h1V-1.2h1V-1.8h1V-1.2h1V-1.0h1V-0.6h1V0h1V-1.2h1V-1.4h1V0h2V-1.5h1V0h14V-0.4h1V-0.6h1V-1.2h1V-2.4h1V-1.9h1V-1.7h1V-2.0h1V-2.3h1V-1.2h1V0h3V-0.6h1V-1.2h1V-1.0h1V-0.5h1V0h2V-0.8h1V-1.0h1V-1.0h1V-1.2h1V-1.8h1V-2.0h1V-1.8h1V-3.4h1V-2.3h1V-2.1h1V-2.5h1V-3.1h1V-0.9h1V0h4V-0.6h1V-0.8h1V-0.9h1V0h5V-0.5h1V-1.7h1V-1.4h1V-2.1h1V-1.5h1V-2.5h1V-2.7h1V-1.2h1V-1.4h1V0h5V-1.3h1V-2.7h1V-2.1h1V-0.9h1V0H128.6Z" fill="#222"/>
<line x1="544.50" y1="198.20" x2="673.10" y2="198.20" stroke="#3c3c3c" stroke-width="1.4"/>
<path transform="translate(544.50,205.97)" d="M0,0V-4.1h1V-2.0h1V0h2V-1.4h1V-2.5h1V-3.8h1V-1.5h1V-1.3h1V-2.8h1V-3.0h1V-3.3h1V-3.6h1V-2.3h1V-1.0h1V-1.7h1V-2.8h1V-2.9h1V-1.3h1V0h2V-1.3h1V0h1V-1.2h1V-0.7h1V0h4V-1.2h1V-2.2h1V-3.1h1V-2.7h1V-1.7h1V-1.8h1V-2.0h1V-2.0h1V-2.3h1V-1.1h1V0h2V-0.9h1V-2.2h1V-2.9h1V-2.8h1V-2.7h1V-2.3h1V-1.1h1V-1.4h1V-1.4h1V-0.6h1V-1.4h1V0h3V-1.3h1V0h6V-0.6h1V-1.6h1V-2.0h1V-2.0h1V-2.3h1V-1.8h1V-1.3h1V-1.0h1V-1.0h1V-1.0h1V-2.7h1V-3.0h1V-2.8h1V-1.7h1V-1.6h1V-1.7h1V-1.9h1V-1.5h1V-1.4h1V-2.2h1V-2.5h1V-2.4h1V-1.4h1V-1.3h1V-0.9h1V-0.7h1V-1.4h1V0h3V-1.2h1V0h2V-0.4h1V-1.3h1V-1.2h1V-0.9h1V-1.3h1V0h6V-0.9h1V0h6V-0.8h1V-0.9h1V-1.5h1V-1.2h1V-1.6h1V-0.9h1V-1.6h1V-2.1h1V-2.4h1V-2.4h1V-1.2h1V0H128.6Z" fill="#222"/>
<line x1="544.50" y1="205.97" x2="673.10" y2="205.97" stroke="#3c3c3c" stroke-width="1.4"/>
<path transform="translate(544.50,213.74)" d="M0,0V-3.6h1V-3.2h1V-2.5h1V-3.8h1V-2.2h1V-1.6h1V-0.6h1V0h2V-1.3h1V-1.0h1V-0.4h1V-1.5h1V-3.0h1V-3.4h1V-1.3h1V0h10V-0.7h1V-1.7h1V-1.6h1V-1.2h1V-2.2h1V-1.1h1V-0.8h1V-0.8h1V-0.6h1V0h1V-1.3h1V0h1V-1.0h1V-2.3h1V-2.6h1V-2.7h1V-2.5h1V-2.1h1V-0.8h1V0h4V-0.9h1V-1.5h1V-2.1h1V-2.4h1V-1.6h1V-1.8h1V-1.4h1V-1.0h1V-1.1h1V-0.9h1V0h13V-0.7h1V-1.6h1V-0.6h1V0h2V-0.5h1V-1.2h1V-1.3h1V-0.8h1V-1.6h1V-2.1h1V-1.9h1V-2.4h1V-1.3h1V-1.1h1V-0.9h1V-1.0h1V-0.4h1V-0.8h1V-2.9h1V-1.7h1V-1.6h1V-1.8h1V-1.2h1V-0.9h1V-1.5h1V-1.1h1V0h3V-0.7h1V-1.5h1V-1.9h1V-2.3h1V-1.9h1V-1.6h1V-1.7h1V-0.8h1V-0.5h1V-2.0h1V-1.3h1V-2.2h1V-1.2h1V-1.3h1V-1.4h1V-0.5h1V0h5V-0.8h1V-2.2h1V-2.0h1V-2.3h1V-1.7h1V-2.2h1V0H128.6Z" fill="#222"/>
<line x1="544.50" y1="213.74" x2="673.10" y2="213.74" stroke="#3c3c3c" stroke-width="1.4"/>
<path transform="translate(544.50,221.51)" d="M0,0V-3.7h1V-3.1h1V-2.5h1V-2.6h1V-2.6h1V-1.4h1V0h2V-1.0h1V0h2V-1.1h1V-2.3h1V-1.8h1V-2.3h1V-2.5h1V-1.7h1V-1.8h1V-1.6h1V-3.2h1V-3.1h1V-1.0h1V-2.6h1V-2.4h1V-2.1h1V-2.8h1V-1.1h1V-1.1h1V-1.1h1V-1.1h1V-1.2h1V0h7V-0.6h1V-1.9h1V-1.4h1V-1.2h1V-0.7h1V0h1V-0.7h1V-1.4h1V-2.2h1V-2.0h1V-2.6h1V-1.8h1V-0.7h1V0h6V-1.0h1V0h2V-0.8h1V-1.2h1V-1.2h1V-1.1h1V-0.7h1V0h3V-1.1h1V-1.5h1V-1.8h1V-2.2h1V-1.9h1V-1.8h1V-0.9h1V-1.1h1V-1.5h1V-1.1h1V0h6V-0.6h1V-1.3h1V-1.3h1V-1.8h1V-1.1h1V-1.0h1V-0.8h1V-0.9h1V0h5V-0.6h1V-0.8h1V-0.9h1V-1.1h1V-1.6h1V-0.9h1V0h5V-0.9h1V-2.2h1V-1.9h1V-2.0h1V-2.3h1V-1.2h1V0h4V-1.0h1V0h3V-0.8h1V0h3V-0.5h1V-1.8h1V-2.1h1V0H128.6Z" fill="#222"/>
<line x1="544.50" y1="221.51" x2="673.10" y2="221.51" stroke="#3c3c3c" stroke-width="1.4"/>
<path transform="translate(544.50,229.28)" d="M0,0V-4.2h1V-2.4h1V-2.5h1V-0.8h1V-1.4h1V-3.9h1V-3.8h1V-1.6h1V-1.4h1V-1.0h1V0h6V-1.2h1V-4.0h1V-4.3h1V-3.4h1V-2.8h1V-1.4h1V-0.9h1V-2.2h1V-2.5h1V-2.6h1V-0.5h1V-0.9h1V-1.2h1V-0.9h1V-1.7h1V-2.1h1V-1.3h1V-1.1h1V-0.6h1V0h1V-0.8h1V-1.4h1V-2.0h1V-2.8h1V-2.5h1V-1.2h1V-1.0h1V-1.3h1V-1.0h1V-1.0h1V0h2V-0.6h1V-1.0h1V-1.6h1V-1.2h1V-1.8h1V-0.7h1V-1.4h1V-1.4h1V-1.3h1V-2.1h1V-1.6h1V-2.8h1V-1.0h1V0h1V-1.0h1V-3.1h1V-1.9h1V-2.3h1V-1.3h1V0h7V-0.9h1V0h3V-0.7h1V-2.1h1V-1.5h1V-1.5h1V-0.7h1V-0.4h1V-1.7h1V-1.5h1V-1.8h1V-0.9h1V-0.7h1V-0.7h1V0h2V-0.7h1V-2.1h1V-1.9h1V-2.1h1V-0.7h1V-0.8h1V-2.2h1V-1.7h1V-3.2h1V-1.9h1V-1.6h1V-1.3h1V0h8V-0.7h1V-0.5h1V-2.0h1V-1.9h1V-0.5h1V0h1V-1.1h1V0H128.6Z" fill="#222"/>
<line x1="544.50" y1="229.28" x2="673.10" y2="229.28" stroke="#3c3c3c" stroke-width="1.4"/>
<path transform="translate(544.50,237.05)" d="M0,0V-4.4h1V-2.8h1V-4.4h1V-3.6h1V-1.4h1V-2.6h1V-3.1h1V-2.8h1V-2.1h1V-2.7h1V-1.6h1V-0.7h1V0h5V-0.8h1V0h1V-1.1h1V-0.9h1V-2.0h1V-2.3h1V-1.8h1V-2.4h1V-1.3h1V-0.6h1V-0.7h1V-2.4h1V-1.8h1V-1.8h1V-1.6h1V-2.6h1V-2.3h1V-2.0h1V-1.4h1V-2.4h1V-1.7h1V-1.8h1V-1.4h1V-0.4h1V0h9V-0.7h1V-1.1h1V-0.8h1V-2.9h1V-2.8h1V-2.5h1V-2.4h1V-0.7h1V0h9V-1.2h1V-0.6h1V-0.8h1V-1.1h1V-1.2h1V-1.2h1V-1.0h1V-0.4h1V0h3V-0.6h1V0h6V-0.9h1V0h3V-0.7h1V-1.7h1V-1.7h1V-2.6h1V-0.8h1V0h8V-0.7h1V-0.5h1V-0.8h1V-0.5h1V-0.7h1V-0.9h1V-0.9h1V-0.7h1V-0.8h1V0h2V-0.7h1V0h1V-0.5h1V-2.3h1V-0.7h1V-1.9h1V-1.7h1V-2.1h1V-2.4h1V-0.9h1V-1.7h1V-2.3h1V-2.2h1V-1.7h1V-1.1h1V-0.5h1V0H128.6Z" fill="#222"/>
<line x1="544.50" y1="237.05" x2="673.10" y2="237.05" stroke="#3c3c3c" stroke-width="1.4"/>
<path transform="translate(544.50,244.82)" d="M0,0V-4.9h1V-3.5h1V-3.8h1V-4.3h1V-3.3h1V-1.3h1V0h9V-1.5h1V0h8V-1.5h1V0h4V-0.7h1V-1.7h1V-1.9h1V-0.8h1V0h6V-0.6h1V0h1V-0.9h1V-1.9h1V-1.8h1V-2.6h1V-1.0h1V-2.0h1V-2.4h1V-1.8h1V-2.2h1V-1.5h1V-2.6h1V-1.1h1V0h5V-0.6h1V-0.6h1V-0.6h1V-0.9h1V-0.6h1V-0.7h1V-0.5h1V-1.0h1V-1.8h1V-2.0h1V-1.2h1V-1.9h1V-0.8h1V0h7V-1.3h1V0h1V-0.4h1V-1.5h1V-0.9h1V-1.9h1V-1.7h1V-1.6h1V-1.5h1V-1.7h1V-1.6h1V-0.6h1V0h2V-1.4h1V0h6V-0.8h1V0h3V-0.9h1V-0.8h1V0h4V-0.7h1V0h1V-0.6h1V-1.0h1V-0.7h1V-0.9h1V0h1V-0.9h1V-1.8h1V-0.7h1V0H128.6Z" fill="#222"/>
<line x1="544.50" y1="244.82" x2="673.10" y2="244.82" stroke="#3c3c3c" stroke-width="1.4"/>
<path transform="translate(544.50,252.59)" d="M0,0V-3.2h1V-2.6h1V-0.9h1V-1.8h1V-1.3h1V-1.7h1V-1.2h1V-0.6h1V-1.0h1V-1.3h1V-1.0h1V-0.9h1V-0.7h1V-0.6h1V-1.9h1V-1.2h1V-0.5h1V0h8V-1.4h1V-1.3h1V0h5V-0.6h1V-1.6h1V-2.3h1V-2.8h1V-1.8h1V-2.6h1V-0.9h1V-1.1h1V0h10V-1.2h1V-2.2h1V-1.5h1V-0.5h1V0h1V-0.7h1V0h1V-0.8h1V-1.3h1V-1.4h1V-1.6h1V-2.8h1V-1.3h1V-1.5h1V-0.6h1V-0.6h1V-0.7h1V-1.0h1V0h2V-1.5h1V0h1V-0.7h1V-1.1h1V-1.1h1V-1.6h1V-1.8h1V-1.3h1V-1.9h1V-1.5h1V-2.3h1V-1.2h1V-0.8h1V0h3V-1.0h1V0h2V-0.7h1V0h6V-0.9h1V0h1V-0.7h1V0h1V-1.1h1V-1.2h1V-2.7h1V-2.9h1V-2.7h1V-1.2h1V0h8V-0.6h1V-1.1h1V-1.4h1V-1.5h1V-1.4h1V-1.3h1V-0.4h1V-1.4h1V0H128.6Z" fill="#222"/>
<line x1="544.50" y1="252.59" x2="673.10" y2="252.59" stroke="#3c3c3c" stroke-width="1.4"/>
<path transform="translate(544.50,260.36)" d="M0,0V-2.8h1V-2.2h1V-2.5h1V-2.2h1V-2.3h1V-1.8h1V-1.3h1V-0.8h1V0h5V-1.0h1V0h4V-0.6h1V-1.9h1V-1.4h1V-1.5h1V-0.8h1V0h2V-1.3h1V0h3V-1.2h1V-1.9h1V-3.3h1V-1.7h1V-2.0h1V-3.2h1V-1.3h1V-1.1h1V-0.7h1V-1.5h1V-3.2h1V-2.9h1V-2.6h1V-2.1h1V-0.8h1V-1.0h1V0h1V-1.5h1V0h3V-0.8h1V0h1V-1.2h1V0h2V-0.9h1V-0.9h1V-1.0h1V-0.8h1V0h1V-1.2h1V0h4V-1.2h1V-2.6h1V-2.2h1V-2.4h1V-2.5h1V-1.4h1V-1.1h1V-1.5h1V-1.9h1V-1.2h1V-0.9h1V-1.9h1V-1.0h1V-2.8h1V-1.8h1V-0.9h1V-0.9h1V-1.1h1V0h2V-1.0h1V-1.0h1V-1.4h1V-2.4h1V-1.8h1V-2.3h1V-0.9h1V-0.7h1V-1.4h1V0h2V-0.7h1V-1.6h1V-2.2h1V-1.9h1V-1.8h1V-1.7h1V-1.4h1V-1.3h1V-2.1h1V-1.1h1V-0.7h1V0h3V-0.6h1V-1.0h1V-1.6h1V-2.6h1V-2.7h1V-1.6h1V-1.9h1V-1.1h1V-1.1h1V0h1V-0.8h1V-2.3h1V-2.8h1V-2.1h1V-2.4h1V-1.5h1V0h1V-0.5h1V-1.1h1V0H128.6Z" fill="#222"/>
<line x1="544.50" y1="260.36" x2="673.10" y2="260.36" stroke="#3c3c3c" stroke-width="1.4"/>
<path transform="translate(544.50,268.13)" d="M0,0V-4.4h1V-2.5h1V-2.2h1V-2.9h1V-2.4h1V-3.1h1V-1.9h1V-1.5h1V-1.7h1V-1.4h1V-1.6h1V-0.6h1V0h1V-1.0h1V-2.8h1V-2.3h1V-2.9h1V-2.0h1V-0.9h1V0h2V-0.7h1V0h3V-0.9h1V0h3V-0.9h1V-2.5h1V-2.9h1V-1.3h1V-1.3h1V-1.8h1V-2.7h1V-2.2h1V-2.6h1V-1.5h1V-0.9h1V0h7V-1.2h1V0h3V-1.2h1V0h3V-0.7h1V0h3V-0.5h1V-1.3h1V-1.8h1V-2.6h1V-2.2h1V-1.6h1V-2.1h1V-1.8h1V-2.2h1V-1.7h1V-0.6h1V0h1V-0.9h1V-0.9h1V0h5V-1.2h1V0h11V-0.8h1V0h3V-1.0h1V-0.8h1V0h4V-1.3h1V0h1V-1.1h1V0h2V-0.6h1V-0.6h1V-1.5h1V-0.4h1V-0.4h1V-0.9h1V-1.2h1V-0.8h1V-1.9h1V-0.9h1V-0.8h1V-0.8h1V-3.3h1V-1.7h1V-1.0h1V0h2V-0.8h1V-1.2h1V-1.4h1V-2.1h1V-2.5h1V-1.8h1V-1.3h1V0H128.6Z" fill="#222"/>
<line x1="544.50" y1="268.13" x2="673.10" y2="268.13" stroke="#3c3c3c" stroke-width="1.4"/>
<path transform="translate(544.50,275.90)" d="M0,0V-4.2h1V-3.6h1V-3.2h1V-1.3h1V0h5V-1.2h1V-1.3h1V-1.2h1V-1.4h1V-0.8h1V-1.6h1V-3.4h1V-3.5h1V-3.2h1V-3.9h1V-3.4h1V-1.4h1V0h16V-0.8h1V-1.2h1V-2.8h1V-2.1h1V-1.6h1V-1.8h1V-1.3h1V-0.8h1V-1.3h1V0h1V-1.0h1V-2.2h1V-2.9h1V-2.3h1V-2.2h1V-1.2h1V-1.0h1V-0.5h1V-1.9h1V-1.7h1V-1.7h1V-2.2h1V-1.1h1V-0.5h1V0h5V-1.2h1V0h9V-0.9h1V-1.3h1V-1.0h1V-0.9h1V-1.0h1V0h1V-1.0h1V-1.2h1V-2.2h1V-1.9h1V-2.1h1V-0.8h1V-1.4h1V0h6V-1.1h1V-0.5h1V-1.3h1V-1.0h1V-1.1h1V-0.8h1V-0.5h1V0h5V-0.8h1V-2.2h1V-2.7h1V-2.5h1V-2.3h1V-1.8h1V-0.6h1V0h2V-1.0h1V-1.0h1V-2.6h1V-2.1h1V-2.0h1V-1.0h1V-0.4h1V-0.9h1V-0.9h1V-0.7h1V-1.0h1V0H128.6Z" fill="#222"/>
<line x1="544.50" y1="275.90" x2="673.10" y2="275.90" stroke="#3c3c3c" stroke-width="1.4"/>
<path transform="translate(544.50,283.67)" d="M0,0V-3.2h1V-2.9h1V-2.0h1V-2.8h1V-2.5h1V-4.0h1V-1.2h1V0h2V-0.9h1V0h4V-0.8h1V-2.1h1V-2.6h1V-2.3h1V-2.2h1V-2.2h1V-1.1h1V0h9V-0.8h1V-1.9h1V-1.2h1V-1.3h1V-2.9h1V-2.5h1V-2.1h1V-2.2h1V-1.2h1V-1.1h1V-1.0h1V0h3V-1.0h1V0h3V-0.6h1V-1.4h1V-1.2h1V-1.4h1V-1.6h1V-2.1h1V-1.9h1V-1.7h1V-2.2h1V-0.7h1V0h8V-1.4h1V-1.7h1V-1.2h1V-2.0h1V-2.2h1V-1.1h1V0h3V-0.9h1V-1.5h1V-1.5h1V-0.9h1V0h4V-1.4h1V0h4V-0.7h1V-1.2h1V-1.5h1V-1.3h1V-1.2h1V-0.9h1V-1.7h1V-2.5h1V-2.3h1V-3.0h1V-1.2h1V0h1V-1.3h1V-1.5h1V-2.9h1V-2.5h1V-2.4h1V-2.1h1V-2.1h1V-0.8h1V0h1V-1.1h1V-0.8h1V-0.8h1V0h5V-0.8h1V-1.5h1V-1.9h1V-2.2h1V-1.5h1V-2.0h1V-1.9h1V-1.4h1V-1.5h1V0h2V-1.3h1V0H128.6Z" fill="#222"/>
<line x1="544.50" y1="283.67" x2="673.10" y2="283.67" stroke="#3c3c3c" stroke-width="1.4"/>
<rect x="56.30" y="323.20" width="300.10" height="12.50" fill="#000"/>
<rect x="182.40" y="323.20" width="136.40" height="12.50" fill="#fff"/>
<path d="M182.40,323.80H318.80M182.40,335.10H318.80" stroke="#5a5a5a" stroke-width="1.2"/>
<text transform="translate(36.64,350.70) scale(1.0021,1)" font-size="10.72" font-weight="bold" fill="#111">45</text>
<text transform="translate(36.64,369.64) scale(1.0164,1)" font-size="10.72" font-weight="bold" fill="#111">40</text>
<text transform="translate(36.53,388.59) scale(1.0116,1)" font-size="10.72" font-weight="bold" fill="#111">35</text>
<text transform="translate(36.52,407.53) scale(1.0261,1)" font-size="10.72" font-weight="bold" fill="#111">30</text>
<text transform="translate(36.42,426.48) scale(1.0212,1)" font-size="10.72" font-weight="bold" fill="#111">25</text>
<text transform="translate(36.41,445.42) scale(1.0360,1)" font-size="10.72" font-weight="bold" fill="#111">20</text>
<text transform="translate(36.13,464.37) scale(1.0461,1)" font-size="10.72" font-weight="bold" fill="#111">15</text>
<text transform="translate(36.12,483.31) scale(1.0617,1)" font-size="10.72" font-weight="bold" fill="#111">10</text>
<text transform="translate(42.36,502.26) scale(1.0443,1)" font-size="10.72" font-weight="bold" fill="#111">5</text>
<text transform="translate(42.23,521.20) scale(1.0993,1)" font-size="10.72" font-weight="bold" fill="#111">0</text>
<path d="M60.00,491.10V484.03M57.80,484.03H62.20M61.90,493.00V488.64M59.70,488.64H64.10M63.80,494.90V485.14M61.60,485.14H66.00M65.70,496.80V487.33M63.50,487.33H67.90M67.60,494.70V488.43M65.40,488.43H69.80M69.50,497.78V490.13M67.30,490.13H71.70M71.40,499.40V494.90M69.20,494.90H73.60M73.30,491.91V487.35M71.10,487.35H75.50M75.20,488.00V482.98M73.00,482.98H77.40M77.10,486.65V478.80M74.90,478.80H79.30M79.00,485.70V481.21M76.80,481.21H81.20M80.90,483.44V473.65M78.70,473.65H83.10M82.80,482.26V478.77M80.60,478.77H85.00M84.70,484.23V479.87M82.50,479.87H86.90M86.60,485.50V481.88M84.40,481.88H88.80M88.50,486.70V478.31M86.30,478.31H90.70M90.40,488.98V483.41M88.20,483.41H92.60M92.30,492.70V486.40M90.10,486.40H94.50M94.20,491.76V486.48M92.00,486.48H96.40M96.10,490.70V483.23M93.90,483.23H98.30M98.00,492.10V486.27M95.80,486.27H100.20M99.90,493.10V488.64M97.70,488.64H102.10M101.80,493.90V487.89M99.60,487.89H104.00M103.70,496.12V490.98M101.50,490.98H105.90M105.60,498.90V495.12M103.40,495.12H107.80M107.50,501.25V492.49M105.30,492.49H109.70M109.40,502.40V494.64M107.20,494.64H111.60M111.30,504.15V496.50M109.10,496.50H113.50M113.20,504.80V495.62M111.00,495.62H115.40M115.10,503.25V497.48M112.90,497.48H117.30M117.00,507.90V502.25M114.80,502.25H119.20M118.90,506.95V500.99M116.70,500.99H121.10M120.80,507.80V501.97M118.60,501.97H123.00M122.70,508.75V501.07M120.50,501.07H124.90M124.60,507.30V504.25M122.40,504.25H126.80M126.50,506.15V499.90M124.30,499.90H128.70M128.40,506.60V499.85M126.20,499.85H130.60M130.30,506.25V500.83M128.10,500.83H132.50M132.20,506.50V503.35M130.00,503.35H134.40M134.10,507.45V499.52M131.90,499.52H136.30M136.00,508.40V505.33M133.80,505.33H138.20M137.90,508.45V501.50M135.70,501.50H140.10M139.80,507.50V503.43M137.60,503.43H142.00M141.70,506.55V503.31M139.50,503.31H143.90M143.60,505.63V501.36M141.40,501.36H145.80M145.50,505.10V501.64M143.30,501.64H147.70M147.40,505.12V501.06M145.20,501.06H149.60M149.30,504.15V496.36M147.10,496.36H151.50M151.20,504.95V496.85M149.00,496.85H153.40M153.10,504.46V498.93M150.90,498.93H155.30M155.00,503.80V496.23M152.80,496.23H157.20M156.90,501.70V495.38M154.70,495.38H159.10M158.80,500.66V494.17M156.60,494.17H161.00M160.70,499.26V490.13M158.50,490.13H162.90M162.60,497.57V492.39M160.40,492.39H164.80M164.50,496.25V487.16M162.30,487.16H166.70M166.40,494.16V486.32M164.20,486.32H168.60M168.30,491.52V483.74M166.10,483.74H170.50M170.20,484.15V481.11M168.00,481.11H172.40M172.10,479.14V475.56M169.90,475.56H174.30M174.00,478.10V474.88M171.80,474.88H176.20M175.90,476.01V470.59M173.70,470.59H178.10M177.80,473.92V464.30M175.60,464.30H180.00M179.70,472.76V463.64M177.50,463.64H181.90M181.60,466.06V457.19M179.40,457.19H183.80M183.50,436.40V432.57M181.30,432.57H185.70M185.40,374.23V366.29M183.20,366.29H187.60M187.30,371.30V362.88M185.10,362.88H189.50M189.20,381.58V372.92M187.00,372.92H191.40M191.10,396.99V388.44M188.90,388.44H193.30M193.00,408.20V404.22M190.80,404.22H195.20M194.90,411.60V407.35M192.70,407.35H197.10M196.80,414.67V406.12M194.60,406.12H199.00M198.70,416.71V408.55M196.50,408.55H200.90M200.60,416.09V406.84M198.40,406.84H202.80M202.50,422.23V416.10M200.30,416.10H204.70M204.40,428.58V419.35M202.20,419.35H206.60M206.30,433.90V429.92M204.10,429.92H208.50M208.20,437.10V427.40M206.00,427.40H210.40M210.10,435.35V426.16M207.90,426.16H212.30M212.00,436.30V430.94M209.80,430.94H214.20M213.90,437.25V433.78M211.70,433.78H216.10M215.80,439.01V432.17M213.60,432.17H218.00M217.70,449.32V441.49M215.50,441.49H219.90M219.60,443.18V437.73M217.40,437.73H221.80M221.50,435.27V431.87M219.30,431.87H223.70M223.40,427.07V422.12M221.20,422.12H225.60M225.30,425.05V416.28M223.10,416.28H227.50M227.20,428.94V425.31M225.00,425.31H229.40M229.10,434.70V425.14M226.90,425.14H231.30M231.00,423.40V418.65M228.80,418.65H233.20M232.90,415.89V411.46M230.70,411.46H235.10M234.80,419.64V415.85M232.60,415.85H237.00M236.70,414.83V404.97M234.50,404.97H238.90M238.60,415.97V406.66M236.40,406.66H240.80M240.50,422.98V417.74M238.30,417.74H242.70M242.40,428.78V425.11M240.20,425.11H244.60M244.30,435.47V427.90M242.10,427.90H246.50M246.20,432.32V423.11M244.00,423.11H248.40M248.10,424.60V421.52M245.90,421.52H250.30M250.00,420.50V413.07M247.80,413.07H252.20M251.90,421.26V412.26M249.70,412.26H254.10M253.80,432.92V426.71M251.60,426.71H256.00M255.70,428.58V421.60M253.50,421.60H257.90M257.60,432.12V423.49M255.40,423.49H259.80M259.50,433.30V428.63M257.30,428.63H261.70M261.40,430.57V425.66M259.20,425.66H263.60M263.30,427.45V419.83M261.10,419.83H265.50M265.20,424.60V417.73M263.00,417.73H267.40M267.10,420.15V413.41M264.90,413.41H269.30M269.00,416.50V411.16M266.80,411.16H271.20M270.90,415.95V406.39M268.70,406.39H273.10M272.80,415.74V410.72M270.60,410.72H275.00M274.70,414.92V407.16M272.50,407.16H276.90M276.60,418.47V409.21M274.40,409.21H278.80M278.50,425.65V419.84M276.30,419.84H280.70M280.40,425.80V422.42M278.20,422.42H282.60M282.30,423.25V418.71M280.10,418.71H284.50M284.20,423.20V419.74M282.00,419.74H286.40M286.10,422.60V418.57M283.90,418.57H288.30M288.00,418.50V414.66M285.80,414.66H290.20M289.90,421.51V416.11M287.70,416.11H292.10M291.80,422.84V417.25M289.60,417.25H294.00M293.70,418.20V412.07M291.50,412.07H295.90M295.60,421.87V414.21M293.40,414.21H297.80M297.50,428.38V420.64M295.30,420.64H299.70M299.40,430.12V422.31M297.20,422.31H301.60M301.30,426.00V420.45M299.10,420.45H303.50M303.20,430.58V422.94M301.00,422.94H305.40M305.10,441.10V434.25M302.90,434.25H307.30M307.00,439.20V435.31M304.80,435.31H309.20M308.90,436.45V429.62M306.70,429.62H311.10M310.80,433.60V428.37M308.60,428.37H313.00M312.70,430.75V423.02M310.50,423.02H314.90M314.60,427.98V419.84M312.40,419.84H316.80M316.50,420.00V415.31M314.30,415.31H318.70M318.40,428.41V422.36M316.20,422.36H320.60M320.30,464.04V457.86M318.10,457.86H322.50M322.20,485.58V480.50M320.00,480.50H324.40M324.10,494.40V491.12M321.90,491.12H326.30M326.00,497.55V494.20M323.80,494.20H328.20M327.90,498.00V488.05M325.70,488.05H330.10M329.80,499.20V491.02M327.60,491.02H332.00M331.70,502.40V496.33M329.50,496.33H333.90M333.60,500.33V492.67M331.40,492.67H335.80M335.50,496.08V491.19M333.30,491.19H337.70M337.40,490.97V483.00M335.20,483.00H339.60M339.30,490.43V480.78M337.10,480.78H341.50M341.20,489.96V481.55M339.00,481.55H343.40M343.10,487.00V480.74M340.90,480.74H345.30M345.00,483.25V473.37M342.80,473.37H347.20M346.90,483.05V473.60M344.70,473.60H349.10M348.80,482.84V479.43M346.60,479.43H351.00M350.70,480.70V474.82M348.50,474.82H352.90M352.60,482.50V476.34M350.40,476.34H354.80" stroke="#7e7e7e" stroke-width="1.15" fill="none" opacity="1.0"/>
<path d="M60.00,484.00V480.19M57.80,480.19H62.20M62.00,474.92V468.53M59.80,468.53H64.20M64.00,471.63V467.70M61.80,467.70H66.20M66.00,470.40V463.48M63.80,463.48H68.20M68.00,468.00V461.66M65.80,461.66H70.20M70.00,471.40V466.29M67.80,466.29H72.20M72.00,465.50V459.10M69.80,459.10H74.20M74.00,462.50V456.39M71.80,456.39H76.20M76.00,460.60V457.36M73.80,457.36H78.20M78.00,459.00V453.08M75.80,453.08H80.20M80.00,462.50V456.09M77.80,456.09H82.20M82.00,466.00V460.14M79.80,460.14H84.20M84.00,470.00V462.16M81.80,462.16H86.20M86.00,464.50V457.46M83.80,457.46H88.20M88.00,462.50V457.43M85.80,457.43H90.20M90.00,469.40V465.15M87.80,465.15H92.20M92.00,466.50V462.80M89.80,462.80H94.20M94.00,468.50V461.04M91.80,461.04H96.20M96.00,469.00V462.21M93.80,462.21H98.20M98.00,461.60V455.25M95.80,455.25H100.20M100.00,459.60V454.17M97.80,454.17H102.20M102.00,458.60V452.84M99.80,452.84H104.20M104.00,463.20V458.98M101.80,458.98H106.20M106.00,456.60V450.68M103.80,450.68H108.20M108.00,458.60V454.80M105.80,454.80H110.20M110.00,462.05V455.63M107.80,455.63H112.20M112.00,468.00V461.53M109.80,461.53H114.20M114.00,461.60V454.91M111.80,454.91H116.20M116.00,461.60V457.24M113.80,457.24H118.20M118.00,466.50V462.99M115.80,462.99H120.20M120.00,468.50V463.67M117.80,463.67H122.20M122.00,469.40V462.62M119.80,462.62H124.20M124.00,472.40V466.60M121.80,466.60H126.20M126.00,471.40V464.29M123.80,464.29H128.20M128.00,473.40V468.03M125.80,468.03H130.20M130.00,475.40V470.21M127.80,470.21H132.20M132.00,471.40V463.41M129.80,463.41H134.20M134.00,469.40V465.48M131.80,465.48H136.20M136.00,471.40V467.26M133.80,467.26H138.20M138.00,473.40V467.16M135.80,467.16H140.20M140.00,477.30V470.83M137.80,470.83H142.20M142.00,469.40V464.02M139.80,464.02H144.20M144.00,464.50V458.43M141.80,458.43H146.20M146.00,462.50V457.08M143.80,457.08H148.20M148.00,461.60V454.92M145.80,454.92H150.20M150.00,462.50V454.61M147.80,454.61H152.20M152.00,461.20V453.66M149.80,453.66H154.20M154.00,451.80V445.28M151.80,445.28H156.20M156.00,450.70V445.11M153.80,445.11H158.20M158.00,449.60V441.39M155.80,441.39H160.20M160.00,444.10V438.64M157.80,438.64H162.20M162.00,436.40V429.96M159.80,429.96H164.20M164.00,442.00V434.22M161.80,434.22H166.20M166.00,439.70V432.94M163.80,432.94H168.20M168.00,436.40V431.25M165.80,431.25H170.20M170.00,428.80V421.71M167.80,421.71H172.20M172.00,458.40V452.10M169.80,452.10H174.20M174.00,481.40V473.37M171.80,473.37H176.20M176.00,490.20V483.77M173.80,483.77H178.20M178.00,494.60V488.66M175.80,488.66H180.20M180.00,499.00V490.64M177.80,490.64H182.20M182.00,497.90V492.00M179.80,492.00H184.20M184.00,491.30V486.11M181.80,486.11H186.20M186.00,488.00V479.84M183.80,479.84H188.20M188.00,493.50V485.31M185.80,485.31H190.20M190.00,492.40V488.45M187.80,488.45H192.20M192.00,490.20V486.80M189.80,486.80H194.20M194.00,492.40V484.68M191.80,484.68H196.20M196.00,488.00V480.14M193.80,480.14H198.20M198.00,486.00V480.89M195.80,480.89H200.20M200.00,484.00V479.60M197.80,479.60H202.20M202.00,489.10V482.34M199.80,482.34H204.20M204.00,491.80V483.63M201.80,483.63H206.20M206.00,493.50V489.33M203.80,489.33H208.20M208.00,497.00V491.54M205.80,491.54H210.20M210.00,497.90V491.26M207.80,491.26H212.20M212.00,498.80V494.59M209.80,494.59H214.20M214.00,499.60V494.32M211.80,494.32H216.20M216.00,500.50V496.71M213.80,496.71H218.20M218.00,502.30V496.66M215.80,496.66H220.20M220.00,492.60V488.34M217.80,488.34H222.20M222.00,494.37V490.92M219.80,490.92H224.20M224.00,490.45V485.31M221.80,485.31H226.20M226.00,490.20V486.37M223.80,486.37H228.20M228.00,491.50V487.85M225.80,487.85H230.20M230.00,491.30V487.47M227.80,487.47H232.20M232.00,491.30V486.00M229.80,486.00H234.20M234.00,493.95V489.20M231.80,489.20H236.20M236.00,492.20V485.19M233.80,485.19H238.20M238.00,487.80V482.52M235.80,482.52H240.20M240.00,485.30V480.96M237.80,480.96H242.20M242.00,490.00V485.97M239.80,485.97H244.20M244.00,490.90V486.27M241.80,486.27H246.20M246.00,497.90V490.81M243.80,490.81H248.20M248.00,500.50V496.39M245.80,496.39H250.20M250.00,502.30V496.74M247.80,496.74H252.20M252.00,504.90V497.46M249.80,497.46H254.20M254.00,504.50V496.94M251.80,496.94H256.20M256.00,504.50V498.96M253.80,498.96H258.20M258.00,505.23V497.60M255.80,497.60H260.20M260.00,503.30V496.77M257.80,496.77H262.20M262.00,502.90V498.65M259.80,498.65H264.20M264.00,504.50V500.99M261.80,500.99H266.20M266.00,505.50V501.56M263.80,501.56H268.20M268.00,505.70V498.35M265.80,498.35H270.20M270.00,504.90V499.76M267.80,499.76H272.20M272.00,502.30V494.69M269.80,494.69H274.20M274.00,503.10V494.78M271.80,494.78H276.20M276.00,505.50V497.44M273.80,497.44H278.20M278.00,506.10V500.52M275.80,500.52H280.20M280.00,505.70V502.66M277.80,502.66H282.20M282.00,505.90V501.38M279.80,501.38H284.20M284.00,507.50V503.30M281.80,503.30H286.20M286.00,507.90V501.33M283.80,501.33H288.20M288.00,507.10V500.24M285.80,500.24H290.20M290.00,505.50V497.43M287.80,497.43H292.20M292.00,502.30V495.42M289.80,495.42H294.20M294.00,499.95V491.67M291.80,491.67H296.20M296.00,500.35V493.84M293.80,493.84H298.20M298.00,501.30V495.69M295.80,495.69H300.20M300.00,504.90V497.30M297.80,497.30H302.20M302.00,509.00V504.49M299.80,504.49H304.20M304.00,501.90V494.62M301.80,494.62H306.20M306.00,499.50V492.50M303.80,492.50H308.20M308.00,501.00V493.23M305.80,493.23H310.20M310.00,504.00V500.67M307.80,500.67H312.20M312.00,499.00V494.96M309.80,494.96H314.20M314.00,494.10V485.88M311.80,485.88H316.20M316.00,490.20V486.42M313.80,486.42H318.20M318.00,485.20V479.72M315.80,479.72H320.20M320.00,459.60V453.29M317.80,453.29H322.20M322.00,439.90V434.25M319.80,434.25H324.20M324.00,391.72V383.88M321.80,383.88H326.20M326.00,412.43V404.18M323.80,404.18H328.20M328.00,419.00V414.12M325.80,414.12H330.20M330.00,428.45V424.71M327.80,424.71H332.20M332.00,435.95V427.92M329.80,427.92H334.20M334.00,447.35V441.86M331.80,441.86H336.20M336.00,457.00V452.63M333.80,452.63H338.20M338.00,461.60V457.84M335.80,457.84H340.20M340.00,469.40V466.35M337.80,466.35H342.20M342.00,474.40V468.20M339.80,468.20H344.20M344.00,484.20V479.65M341.80,479.65H346.20M346.00,490.20V484.14M343.80,484.14H348.20M348.00,491.10V483.02M345.80,483.02H350.20M350.00,491.10V485.44M347.80,485.44H352.20M352.00,494.10V485.86M349.80,485.86H354.20" stroke="#666" stroke-width="1.1" fill="none" opacity="1.0"/>
<path d="M59.00,488.87 L59.00,488.20 L60.00,491.10 L60.00,491.04 L61.00,492.41 L62.00,493.43 L62.00,493.10 L63.00,493.70 L64.00,495.10 L64.00,494.51 L65.00,496.24 L66.00,497.10 L66.00,496.57 L67.00,495.44 L68.00,494.10 L68.00,494.65 L69.00,497.07 L70.00,498.47 L70.00,499.00 L71.00,501.00 L71.00,500.42 L72.00,496.61 L72.50,495.00 L73.00,493.53 L74.00,488.53 L74.00,489.20 L75.00,487.82 L76.00,487.20 L76.00,486.65 L77.00,486.18 L78.00,486.20 L78.00,486.23 L79.00,485.26 L80.00,485.07 L80.00,485.20 L81.00,483.58 L82.00,481.61 L82.00,481.30 L83.00,482.38 L84.00,484.10 L84.00,483.70 L85.00,484.55 L86.00,485.20 L86.00,485.66 L87.00,485.35 L88.00,486.20 L88.00,486.02 L89.00,487.31 L90.00,488.82 L90.00,488.20 L91.00,490.32 L92.00,492.06 L92.00,492.10 L93.00,493.75 L93.00,494.10 L94.00,491.84 L95.00,490.20 L95.00,489.80 L96.00,491.33 L97.00,491.10 L97.00,491.64 L98.00,492.65 L99.00,493.14 L99.00,493.10 L100.00,493.39 L101.00,492.82 L101.00,493.10 L102.00,494.07 L103.00,494.60 L103.00,495.10 L104.00,496.44 L105.00,497.65 L105.00,498.00 L106.00,498.94 L107.00,501.59 L107.00,501.00 L108.00,500.94 L109.00,502.00 L109.00,502.44 L110.00,503.28 L111.00,504.00 L111.00,503.43 L112.00,504.48 L113.00,505.00 L113.00,505.69 L114.00,504.68 L115.00,503.09 L115.00,503.00 L116.00,505.83 L117.00,507.90 L117.00,508.19 L118.00,507.11 L119.00,506.90 L119.00,506.97 L120.00,507.54 L121.00,507.75 L121.00,507.90 L122.00,508.85 L123.00,508.82 L123.00,508.90 L124.00,508.25 L125.00,506.29 L125.00,506.90 L126.00,506.32 L127.00,505.90 L127.00,505.26 L128.00,506.61 L129.00,506.90 L129.00,507.42 L130.00,506.46 L131.00,505.90 L131.00,505.99 L132.00,506.57 L133.00,506.90 L133.00,506.52 L134.00,507.24 L135.00,507.90 L135.00,508.01 L136.00,508.60 L137.00,508.73 L137.00,508.90 L138.00,508.37 L139.00,507.90 L139.00,507.66 L140.00,507.48 L141.00,506.90 L141.00,507.15 L142.00,506.16 L143.00,505.90 L143.00,506.16 L144.00,505.94 L145.00,505.05 L145.00,505.00 L146.00,505.87 L147.00,505.13 L147.00,505.40 L148.00,505.29 L149.00,504.00 L149.00,503.55 L150.00,504.31 L151.00,505.44 L151.00,505.00 L152.00,504.10 L153.00,504.66 L153.00,504.50 L154.00,504.67 L155.00,503.80 L155.00,504.42 L156.00,502.46 L156.00,502.20 L157.00,501.43 L158.00,500.87 L158.00,501.10 L159.00,500.73 L160.00,500.00 L160.00,499.39 L161.00,498.29 L162.00,497.90 L162.00,498.43 L163.00,497.53 L164.00,496.80 L164.00,496.33 L165.00,495.60 L166.00,494.30 L166.00,494.60 L167.00,494.02 L168.00,492.40 L168.00,492.10 L169.00,489.78 L169.50,488.00 L170.00,485.59 L170.50,482.50 L171.00,481.15 L172.00,478.85 L172.00,479.20 L173.00,478.68 L174.00,478.10 L174.00,477.96 L175.00,477.13 L176.00,475.66 L176.00,475.90 L177.00,475.21 L178.00,473.59 L178.00,473.70 L179.00,472.64 L180.00,472.60 L180.00,472.98 L181.00,469.85 L181.00,469.30 L182.00,463.90 L182.00,464.15 L183.00,452.97 L183.00,452.90 L183.50,436.40 L184.00,420.42 L184.30,410.00 L184.80,376.70 L185.00,376.48 L186.00,371.07 L186.50,369.70 L187.00,370.68 L188.00,372.70 L188.00,372.03 L189.00,379.60 L189.00,379.37 L190.00,389.50 L190.00,389.14 L191.00,396.40 L191.00,396.35 L192.00,402.30 L192.00,402.55 L193.00,408.71 L193.00,408.20 L194.00,411.87 L194.00,412.20 L195.00,410.85 L195.50,411.20 L196.00,413.23 L197.00,415.59 L197.00,415.20 L198.00,416.54 L198.50,417.10 L199.00,415.59 L200.00,414.20 L200.00,413.57 L201.00,417.96 L202.00,420.50 L202.00,420.54 L203.00,424.45 L204.00,427.40 L204.00,427.80 L205.00,430.70 L206.00,433.73 L206.00,433.30 L207.00,434.95 L208.00,436.94 L208.00,437.30 L209.00,436.21 L210.00,435.67 L210.00,435.30 L211.00,436.21 L212.00,436.30 L212.00,436.66 L213.00,436.91 L214.00,437.27 L214.00,437.30 L215.00,437.82 L216.00,439.43 L216.00,439.20 L217.00,445.37 L218.00,451.10 L218.00,451.12 L219.00,446.47 L220.00,441.87 L220.00,441.20 L221.00,437.87 L222.00,433.30 L222.00,432.75 L223.00,428.55 L224.00,424.40 L224.00,424.56 L225.00,425.17 L226.00,425.10 L226.00,425.40 L227.00,428.95 L228.00,431.30 L228.00,431.25 L229.00,435.67 L229.00,435.30 L230.00,428.72 L231.00,423.40 L231.00,423.09 L232.00,418.78 L233.00,415.50 L233.00,415.91 L234.00,422.43 L234.00,422.40 L235.00,419.58 L236.00,415.65 L236.00,415.50 L237.00,414.31 L238.00,413.40 L238.00,413.60 L239.00,417.38 L240.00,421.08 L240.00,421.50 L241.00,423.90 L242.00,427.61 L242.00,427.40 L243.00,430.59 L244.00,434.30 L244.00,434.24 L245.00,438.20 L245.00,438.49 L246.00,432.98 L247.00,428.40 L247.00,428.32 L248.00,424.70 L249.00,421.25 L249.00,421.50 L250.00,420.73 L251.00,418.94 L251.00,419.50 L252.00,421.31 L253.00,423.40 L253.00,422.85 L254.00,435.30 L254.00,435.54 L255.00,431.07 L256.00,427.40 L256.00,428.05 L257.00,430.33 L258.00,433.53 L258.00,433.30 L259.00,433.33 L260.00,433.75 L260.00,433.30 L261.00,431.63 L262.00,429.40 L262.00,429.60 L263.00,427.24 L264.00,425.90 L264.00,426.40 L265.00,425.25 L266.00,423.40 L266.00,423.28 L267.00,421.12 L268.00,417.69 L268.00,417.50 L269.00,416.95 L270.00,415.84 L270.00,415.50 L271.00,416.65 L272.00,416.72 L272.00,416.50 L273.00,416.16 L274.00,414.60 L274.00,414.50 L275.00,414.72 L276.00,414.95 L276.00,415.50 L277.00,420.10 L278.00,425.40 L278.00,425.95 L279.00,426.12 L280.00,425.76 L280.00,426.40 L281.00,424.24 L282.00,423.40 L282.00,423.34 L283.00,422.96 L284.00,422.21 L284.00,422.40 L285.00,426.40 L285.00,425.73 L286.00,422.62 L287.00,420.03 L287.00,419.50 L288.00,418.82 L289.00,417.95 L289.00,417.50 L290.00,421.63 L291.00,426.63 L291.00,426.40 L292.00,421.53 L293.00,417.22 L293.00,417.50 L294.00,419.14 L295.00,419.10 L295.00,419.50 L296.00,423.16 L297.00,427.00 L297.00,427.40 L298.00,429.87 L299.00,431.30 L299.00,431.56 L300.00,428.48 L301.00,425.89 L301.00,425.40 L302.00,427.35 L303.00,429.98 L303.00,429.40 L304.00,435.69 L305.00,441.20 L305.00,440.92 L306.00,439.83 L307.00,439.25 L307.00,439.20 L308.00,437.67 L309.00,436.30 L309.00,436.71 L310.00,435.01 L311.00,433.30 L311.00,433.64 L312.00,431.94 L313.00,430.30 L313.00,429.97 L314.00,429.19 L315.00,428.07 L315.00,427.40 L316.00,422.66 L316.50,420.00 L317.00,417.35 L317.50,414.10 L318.00,421.68 L318.50,430.00 L319.00,439.33 L320.00,459.60 L320.00,459.53 L321.00,474.40 L321.00,474.53 L322.00,484.20 L322.00,484.52 L323.00,491.10 L323.00,491.06 L324.00,494.16 L325.00,497.10 L325.00,496.52 L326.00,496.92 L327.00,497.47 L327.00,498.00 L328.00,497.75 L329.00,497.64 L329.00,498.00 L330.00,499.00 L331.00,500.77 L331.00,501.00 L332.00,502.77 L332.50,504.00 L333.00,502.79 L334.00,499.00 L334.00,499.61 L335.00,497.74 L336.00,495.10 L336.00,495.43 L337.00,491.47 L338.00,489.20 L338.00,488.83 L339.00,490.85 L340.00,491.10 L340.00,491.37 L341.00,490.65 L342.00,489.20 L342.00,488.78 L343.00,486.84 L344.00,484.64 L344.00,485.20 L345.00,483.28 L346.00,481.11 L346.00,481.30 L347.00,483.21 L348.00,485.20 L348.00,484.69 L349.00,481.59 L350.00,479.30 L350.00,479.14 L351.00,481.90 L352.00,483.30 L352.00,483.51 L353.00,482.07 L353.50,481.30" stroke="#7f7f7f" stroke-width="2.9" fill="none" stroke-linejoin="round" stroke-linecap="butt"/>
<path d="M59.00,490.00 L59.00,490.64 L60.00,484.52 L60.00,484.00 L61.00,477.00 L61.00,477.32 L62.00,474.54 L63.00,472.60 L63.40,472.00 L64.00,471.93 L65.00,471.44 L66.00,470.40 L66.00,469.72 L67.00,468.73 L68.00,468.55 L68.00,468.00 L69.00,469.17 L70.00,471.62 L70.00,471.40 L71.00,468.21 L72.00,465.50 L72.00,465.70 L73.00,464.51 L74.00,462.61 L74.00,462.50 L75.00,461.40 L76.00,460.60 L76.00,460.35 L77.00,459.97 L78.00,459.18 L78.00,459.00 L79.00,460.62 L80.00,462.50 L80.00,462.45 L81.00,464.30 L82.00,465.66 L82.00,466.00 L83.00,467.55 L84.00,470.10 L84.00,470.00 L85.00,466.69 L86.00,464.64 L86.00,464.50 L87.00,463.92 L88.00,462.50 L88.00,462.96 L89.00,465.60 L90.00,469.28 L90.00,469.40 L91.00,468.54 L92.00,466.29 L92.00,466.50 L93.00,468.19 L94.00,468.08 L94.00,468.50 L95.00,469.23 L96.00,469.00 L96.00,468.36 L97.00,465.53 L98.00,462.03 L98.00,461.60 L99.00,460.67 L100.00,459.79 L100.00,459.60 L101.00,459.68 L102.00,459.29 L102.00,458.60 L103.00,463.75 L103.50,467.00 L104.00,463.23 L105.00,455.60 L105.00,454.96 L106.00,456.43 L107.00,457.60 L107.00,457.10 L108.00,458.12 L109.00,459.60 L109.00,459.77 L110.00,461.47 L111.00,464.50 L111.00,464.02 L112.00,467.31 L112.00,468.00 L113.00,465.24 L114.00,461.24 L114.00,461.60 L115.00,461.00 L116.00,461.60 L116.00,461.77 L117.00,464.35 L118.00,466.68 L118.00,466.50 L119.00,467.57 L120.00,468.55 L120.00,468.50 L121.00,469.26 L122.00,469.40 L122.00,469.13 L123.00,471.38 L124.00,472.67 L124.00,472.40 L125.00,472.40 L126.00,471.40 L126.00,471.95 L127.00,472.88 L128.00,473.43 L128.00,473.40 L129.00,474.43 L130.00,475.40 L130.00,475.73 L131.00,473.51 L132.00,471.40 L132.00,470.74 L133.00,470.98 L134.00,468.98 L134.00,469.40 L135.00,470.38 L136.00,471.40 L136.00,471.33 L137.00,471.83 L138.00,473.51 L138.00,473.40 L139.00,475.48 L140.00,477.30 L140.00,477.74 L141.00,473.51 L142.00,469.40 L142.00,469.13 L143.00,467.04 L144.00,464.50 L144.00,465.14 L145.00,463.69 L146.00,462.98 L146.00,462.50 L147.00,461.37 L148.00,461.87 L148.00,461.60 L149.00,461.65 L150.00,462.03 L150.00,462.50 L151.00,463.26 L151.50,464.00 L152.00,460.75 L153.00,455.02 L153.00,455.60 L154.00,451.80 L154.00,451.40 L155.00,450.87 L156.00,450.70 L156.00,450.35 L157.00,450.57 L158.00,449.60 L158.00,449.02 L159.00,446.98 L159.50,446.30 L160.00,443.48 L161.00,439.71 L161.00,439.70 L162.00,436.40 L162.00,436.02 L163.00,435.44 L163.00,435.40 L164.00,442.00 L164.00,441.63 L165.00,443.68 L165.00,444.10 L166.00,439.68 L166.50,437.50 L167.00,436.53 L168.00,436.94 L168.00,436.40 L169.00,432.10 L169.00,432.19 L170.00,428.80 L170.00,428.65 L171.00,438.60 L171.00,438.67 L172.00,459.03 L172.00,458.40 L173.00,474.79 L173.00,474.80 L174.00,481.40 L174.00,481.25 L175.00,485.80 L175.00,485.40 L176.00,490.03 L176.00,490.20 L177.00,492.78 L178.00,494.76 L178.00,494.60 L179.00,496.49 L180.00,499.00 L180.00,499.56 L181.00,499.49 L181.00,500.00 L182.00,497.90 L182.00,497.70 L183.00,494.99 L184.00,491.30 L184.00,491.88 L185.00,489.59 L186.00,488.00 L186.00,487.32 L187.00,490.84 L188.00,493.40 L188.00,493.50 L189.00,492.29 L190.00,492.40 L190.00,492.19 L191.00,491.83 L192.00,490.20 L192.00,489.55 L193.00,490.85 L194.00,492.40 L194.00,491.93 L195.00,490.62 L196.00,488.00 L196.00,487.73 L197.00,487.26 L198.00,486.00 L198.00,486.25 L199.00,484.32 L200.00,484.00 L200.00,483.91 L201.00,486.02 L202.00,489.10 L202.00,489.52 L203.00,490.44 L204.00,491.80 L204.00,491.62 L205.00,493.09 L206.00,493.95 L206.00,493.50 L207.00,494.65 L208.00,496.43 L208.00,497.00 L209.00,497.20 L210.00,497.64 L210.00,497.90 L211.00,498.27 L212.00,498.70 L212.00,498.80 L213.00,499.86 L214.00,499.84 L214.00,499.60 L215.00,500.70 L216.00,500.67 L216.00,500.50 L217.00,501.03 L218.00,502.30 L218.00,502.39 L219.00,496.97 L220.00,492.60 L220.00,492.72 L221.00,494.43 L221.50,496.10 L222.00,494.97 L223.00,490.90 L223.00,490.62 L224.00,491.00 L225.00,489.61 L225.00,490.00 L226.00,489.79 L227.00,490.40 L227.00,490.04 L228.00,491.95 L229.00,492.60 L229.00,493.06 L230.00,491.64 L231.00,490.00 L231.00,490.10 L232.00,490.80 L233.00,492.60 L233.00,492.23 L234.00,493.30 L235.00,495.30 L235.00,495.90 L236.00,491.68 L237.00,489.40 L237.00,489.10 L238.00,487.10 L239.00,486.50 L239.00,486.20 L240.00,485.44 L240.50,484.70 L241.00,486.02 L242.00,490.00 L242.00,489.40 L243.00,491.00 L244.00,490.60 L244.00,490.90 L245.00,493.71 L246.00,497.90 L246.00,498.19 L247.00,499.88 L248.00,500.50 L248.00,500.56 L249.00,500.75 L250.00,502.30 L250.00,502.18 L251.00,503.75 L252.00,504.90 L252.00,504.54 L253.00,504.58 L254.00,504.84 L254.00,504.50 L255.00,504.72 L256.00,504.50 L256.00,504.96 L257.00,506.06 L257.50,505.90 L258.00,505.26 L259.00,503.90 L259.00,504.57 L260.00,502.76 L261.00,502.72 L261.00,502.70 L262.00,503.15 L263.00,503.70 L263.00,503.10 L264.00,504.46 L265.00,505.90 L265.00,505.81 L266.00,506.05 L267.00,505.10 L267.00,505.06 L268.00,505.08 L269.00,506.30 L269.00,506.23 L270.00,504.58 L271.00,503.50 L271.00,503.72 L272.00,502.74 L273.00,500.47 L273.00,501.10 L274.00,502.84 L275.00,505.10 L275.00,505.66 L276.00,505.93 L277.00,506.30 L277.00,505.90 L278.00,505.94 L279.00,506.94 L279.00,506.30 L280.00,506.19 L281.00,505.10 L281.00,505.55 L282.00,505.96 L283.00,506.90 L283.00,506.70 L284.00,506.98 L285.00,507.65 L285.00,508.30 L286.00,507.22 L287.00,506.88 L287.00,507.50 L288.00,507.11 L289.00,507.32 L289.00,506.70 L290.00,505.61 L291.00,504.70 L291.00,504.30 L292.00,502.66 L293.00,500.30 L293.00,500.92 L294.00,499.64 L295.00,499.60 L295.00,499.60 L296.00,500.94 L297.00,500.86 L297.00,501.10 L298.00,501.58 L299.00,501.38 L299.00,501.50 L300.00,504.41 L301.00,508.30 L301.00,507.88 L302.00,509.00 L302.00,508.80 L303.00,504.79 L304.00,501.90 L304.00,502.43 L305.00,500.50 L306.00,499.14 L306.00,499.50 L307.00,500.67 L308.00,501.00 L308.00,500.31 L309.00,502.87 L310.00,504.00 L310.00,503.93 L311.00,500.93 L312.00,499.00 L312.00,498.86 L313.00,497.23 L314.00,493.46 L314.00,494.10 L315.00,491.85 L316.00,489.75 L316.00,490.20 L317.00,487.83 L318.00,485.20 L318.00,484.78 L319.00,474.89 L319.00,474.40 L320.00,459.41 L320.00,459.60 L321.00,449.70 L321.00,450.33 L322.00,439.90 L322.00,439.37 L323.00,420.00 L323.00,419.62 L323.80,389.40 L324.00,391.05 L325.00,402.66 L325.00,403.30 L326.00,411.99 L326.50,417.00 L327.00,417.79 L328.00,419.00 L328.00,419.07 L329.00,425.32 L329.00,425.00 L330.00,428.08 L331.00,431.90 L331.00,432.04 L332.00,436.63 L333.00,439.75 L333.00,440.00 L334.00,446.98 L335.00,454.70 L335.00,454.26 L336.00,457.65 L337.00,459.49 L338.00,461.60 L338.00,461.59 L339.00,465.49 L340.00,468.81 L340.00,469.40 L341.00,471.52 L342.00,474.40 L342.00,474.68 L343.00,478.95 L344.00,484.22 L344.00,484.20 L345.00,487.77 L346.00,490.20 L346.00,489.76 L347.00,490.61 L348.00,491.10 L348.00,491.47 L349.00,491.44 L350.00,491.56 L350.00,491.10 L351.00,493.17 L352.00,494.10 L352.00,494.21 L353.00,494.32 L353.50,495.00" stroke="#000" stroke-width="2.8" fill="none" stroke-linejoin="round" stroke-linecap="butt"/>
<rect x="58.30" y="347.00" width="295.60" height="170.50" fill="none" stroke="#111" stroke-width="1.8"/>
<line x1="131.70" y1="517.50" x2="131.70" y2="527.30" stroke="#111" stroke-width="1.4"/>
<text transform="translate(123.24,540.50) scale(1.1620,1)" font-size="12.17" font-weight="normal" fill="#1a1a1a">20</text>
<line x1="203.40" y1="517.50" x2="203.40" y2="527.30" stroke="#111" stroke-width="1.4"/>
<text transform="translate(199.06,540.50) scale(1.1374,1)" font-size="12.17" font-weight="normal" fill="#1a1a1a">2</text>
<line x1="277.40" y1="517.50" x2="277.40" y2="527.30" stroke="#111" stroke-width="1.4"/>
<text transform="translate(273.15,540.50) scale(1.1011,1)" font-size="12.17" font-weight="normal" fill="#1a1a1a">8</text>
<line x1="345.50" y1="517.50" x2="345.50" y2="527.30" stroke="#111" stroke-width="1.4"/>
<text transform="translate(337.53,540.50) scale(1.0625,1)" font-size="12.17" font-weight="normal" fill="#1a1a1a">14</text>
<line x1="69.3" y1="367.1" x2="90.9" y2="367.1" stroke="#000" stroke-width="2.6"/>
<line x1="69.3" y1="387.4" x2="90.9" y2="387.4" stroke="#888" stroke-width="2.8"/>
<text transform="translate(92.61,370.50) scale(0.9856,1)" font-size="10.00" font-weight="bold" fill="#111">Control-NP</text>
<text transform="translate(92.38,390.40) scale(0.9879,1)" font-size="9.71" font-weight="bold" fill="#111">BLT-NP</text>
<text transform="translate(187.45,560.00) scale(0.9642,1)" font-size="13.19" font-weight="normal" fill="#1a1a1a">Time (ZT)</text>
<text transform="translate(29.00,495.45) rotate(-90) scale(1.0509,1)" font-size="9.57" font-weight="bold" fill="#111">Acrivity (counts/6 minutes</text>
<rect x="404.30" y="323.10" width="300.20" height="12.30" fill="#000"/>
<rect x="514.90" y="323.10" width="67.90" height="12.30" fill="#fff"/>
<path d="M514.90,323.70H582.80M514.90,334.80H582.80" stroke="#5a5a5a" stroke-width="1.2"/>
<text transform="translate(384.24,350.80) scale(1.0021,1)" font-size="10.72" font-weight="bold" fill="#111">45</text>
<text transform="translate(384.24,369.98) scale(1.0164,1)" font-size="10.72" font-weight="bold" fill="#111">40</text>
<text transform="translate(384.13,389.16) scale(1.0116,1)" font-size="10.72" font-weight="bold" fill="#111">35</text>
<text transform="translate(384.12,408.33) scale(1.0261,1)" font-size="10.72" font-weight="bold" fill="#111">30</text>
<text transform="translate(384.02,427.51) scale(1.0212,1)" font-size="10.72" font-weight="bold" fill="#111">25</text>
<text transform="translate(384.01,446.69) scale(1.0360,1)" font-size="10.72" font-weight="bold" fill="#111">20</text>
<text transform="translate(383.73,465.87) scale(1.0461,1)" font-size="10.72" font-weight="bold" fill="#111">15</text>
<text transform="translate(383.72,485.04) scale(1.0617,1)" font-size="10.72" font-weight="bold" fill="#111">10</text>
<text transform="translate(389.96,504.22) scale(1.0443,1)" font-size="10.72" font-weight="bold" fill="#111">5</text>
<text transform="translate(389.83,523.40) scale(1.0993,1)" font-size="10.72" font-weight="bold" fill="#111">0</text>
<path d="M408.00,507.40V503.93M405.80,503.93H410.20M409.90,509.51V504.24M407.70,504.24H412.10M411.80,509.92V506.89M409.60,506.89H414.00M413.70,508.09V503.11M411.50,503.11H415.90M415.60,507.52V499.25M413.40,499.25H417.80M417.50,508.07V500.22M415.30,500.22H419.70M419.40,507.67V501.38M417.20,501.38H421.60M421.30,507.98V499.71M419.10,499.71H423.50M423.20,507.22V501.06M421.00,501.06H425.40M425.10,506.99V497.94M422.90,497.94H427.30M427.00,508.30V501.03M424.80,501.03H429.20M428.90,508.80V504.82M426.70,504.82H431.10M430.80,508.66V501.69M428.60,501.69H433.00M432.70,508.89V502.55M430.50,502.55H434.90M434.60,508.03V501.28M432.40,501.28H436.80M436.50,508.07V503.57M434.30,503.57H438.70M438.40,510.46V502.59M436.20,502.59H440.60M440.30,511.77V507.44M438.10,507.44H442.50M442.20,510.91V505.81M440.00,505.81H444.40M444.10,510.19V505.51M441.90,505.51H446.30M446.00,511.90V507.03M443.80,507.03H448.20M447.90,511.05V506.78M445.70,506.78H450.10M449.80,509.38V501.11M447.60,501.11H452.00M451.70,509.96V502.31M449.50,502.31H453.90M453.60,509.38V506.17M451.40,506.17H455.80M455.50,510.55V503.52M453.30,503.52H457.70M457.40,510.30V506.75M455.20,506.75H459.60M459.30,509.32V501.82M457.10,501.82H461.50M461.20,508.12V502.27M459.00,502.27H463.40M463.10,506.63V499.86M460.90,499.86H465.30M465.00,509.20V500.87M462.80,500.87H467.20M466.90,510.05V501.60M464.70,501.60H469.10M468.80,508.48V500.70M466.60,500.70H471.00M470.70,510.59V505.54M468.50,505.54H472.90M472.60,511.72V508.06M470.40,508.06H474.80M474.50,512.57V505.49M472.30,505.49H476.70M476.40,513.43V506.69M474.20,506.69H478.60M478.30,512.53V503.28M476.10,503.28H480.50M480.20,510.82V501.65M478.00,501.65H482.40M482.10,509.61V505.29M479.90,505.29H484.30M484.00,508.30V502.42M481.80,502.42H486.20M485.90,507.80V499.83M483.70,499.83H488.10M487.80,508.66V502.73M485.60,502.73H490.00M489.70,508.89V499.12M487.50,499.12H491.90M491.60,508.57V505.48M489.40,505.48H493.80M493.50,508.75V502.85M491.30,502.85H495.70M495.40,507.22V498.32M493.20,498.32H497.60M497.30,506.23V496.59M495.10,496.59H499.50M499.20,504.52V497.98M497.00,497.98H501.40M501.10,502.99V498.23M498.90,498.23H503.30M503.00,504.70V497.56M500.80,497.56H505.20M504.90,502.99V497.76M502.70,497.76H507.10M506.80,502.09V494.21M504.60,494.21H509.00M508.70,503.70V498.30M506.50,498.30H510.90M510.60,508.82V504.48M508.40,504.48H512.80M512.50,510.23V503.12M510.30,503.12H514.70M514.40,507.08V498.68M512.20,498.68H516.60M516.30,488.09V481.66M514.10,481.66H518.50M518.20,450.30V443.15M516.00,443.15H520.40M520.10,427.90V420.91M517.90,420.91H522.30M522.00,426.80V420.13M519.80,420.13H524.20M523.90,435.57V432.53M521.70,432.53H526.10M525.80,447.12V441.51M523.60,441.51H528.00M527.70,457.28V448.17M525.50,448.17H529.90M529.60,467.48V460.90M527.40,460.90H531.80M531.50,477.00V468.52M529.30,468.52H533.70M533.40,484.08V474.40M531.20,474.40H535.60M535.30,487.69V484.43M533.10,484.43H537.50M537.20,489.60V481.50M535.00,481.50H539.40M539.10,490.60V484.18M536.90,484.18H541.30M541.00,492.60V489.58M538.80,489.58H543.20M542.90,489.66V485.12M540.70,485.12H545.10M544.80,488.60V482.15M542.60,482.15H547.00M546.70,490.20V483.97M544.50,483.97H548.90M548.60,491.38V482.29M546.40,482.29H550.80M550.50,487.78V482.29M548.30,482.29H552.70M552.40,487.20V478.69M550.20,478.69H554.60M554.30,486.85V480.97M552.10,480.97H556.50M556.20,485.90V476.30M554.00,476.30H558.40M558.10,486.05V476.21M555.90,476.21H560.30M560.00,485.50V481.37M557.80,481.37H562.20M561.90,482.21V473.48M559.70,473.48H564.10M563.80,478.60V474.81M561.60,474.81H566.00M565.70,478.83V473.49M563.50,473.49H567.90M567.60,479.07V469.87M565.40,469.87H569.80M569.50,472.13V466.09M567.30,466.09H571.70M571.40,468.10V464.96M569.20,464.96H573.60M573.30,467.61V464.58M571.10,464.58H575.50M575.20,469.70V459.79M573.00,459.79H577.40M577.10,472.30V463.29M574.90,463.29H579.30M579.00,470.40V460.65M576.80,460.65H581.20M580.90,468.41V463.02M578.70,463.02H583.10M582.80,470.73V465.59M580.60,465.59H585.00M584.70,471.42V463.63M582.50,463.63H586.90M586.60,472.38V469.04M584.40,469.04H588.80M588.50,470.95V463.75M586.30,463.75H590.70M590.40,472.78V468.70M588.20,468.70H592.60M592.30,475.23V470.92M590.10,470.92H594.50M594.20,473.96V465.66M592.00,465.66H596.40M596.10,473.26V468.60M593.90,468.60H598.30M598.00,476.00V466.08M595.80,466.08H600.20M599.90,476.22V468.54M597.70,468.54H602.10M601.80,473.32V466.12M599.60,466.12H604.00M603.70,473.40V465.91M601.50,465.91H605.90M605.60,474.57V469.90M603.40,469.90H607.80M607.50,472.68V462.97M605.30,462.97H609.70M609.40,468.84V465.56M607.20,465.56H611.60M611.30,466.34V456.99M609.10,456.99H613.50M613.20,462.37V455.64M611.00,455.64H615.40M615.10,460.41V453.20M612.90,453.20H617.30M617.00,462.60V455.79M614.80,455.79H619.20M618.90,466.78V461.06M616.70,461.06H621.10M620.80,463.04V458.88M618.60,458.88H623.00M622.70,466.34V460.88M620.50,460.88H624.90M624.60,473.32V465.84M622.40,465.84H626.80M626.50,478.27V473.10M624.30,473.10H628.70M628.40,481.71V473.14M626.20,473.14H630.60M630.30,485.62V477.77M628.10,477.77H632.50M632.20,489.18V485.97M630.00,485.97H634.40M634.10,488.69V485.03M631.90,485.03H636.30M636.00,489.45V480.52M633.80,480.52H638.20M637.90,492.69V485.95M635.70,485.95H640.10M639.80,494.78V490.85M637.60,490.85H642.00M641.70,493.79V487.09M639.50,487.09H643.90M643.60,485.60V478.75M641.40,478.75H645.80M645.50,479.60V471.64M643.30,471.64H647.70M647.40,475.12V468.78M645.20,468.78H649.60M649.30,482.44V472.92M647.10,472.92H651.50M651.20,486.31V483.20M649.00,483.20H653.40M653.10,477.82V468.61M650.90,468.61H655.30M655.00,475.45V467.50M652.80,467.50H657.20M656.90,480.65V475.02M654.70,475.02H659.10M658.80,487.68V483.97M656.60,483.97H661.00M660.70,493.24V489.23M658.50,489.23H662.90M662.60,496.46V488.54M660.40,488.54H664.80M664.50,497.00V489.34M662.30,489.34H666.70M666.40,496.56V489.85M664.20,489.85H668.60M668.30,498.73V495.15M666.10,495.15H670.50M670.20,500.83V497.12M668.00,497.12H672.40M672.10,502.95V496.55M669.90,496.55H674.30M674.00,504.00V500.25M671.80,500.25H676.20M675.90,505.04V499.98M673.70,499.98H678.10M677.80,506.09V502.90M675.60,502.90H680.00M679.70,508.15V503.57M677.50,503.57H681.90M681.60,505.78V498.92M679.40,498.92H683.80M683.50,500.90V492.27M681.30,492.27H685.70M685.40,496.35V493.25M683.20,493.25H687.60M687.30,494.29V489.19M685.10,489.19H689.50M689.20,495.94V490.62M687.00,490.62H691.40M691.10,499.72V495.18M688.90,495.18H693.30M693.00,503.40V497.54M690.80,497.54H695.20M694.90,507.12V504.12M692.70,504.12H697.10M696.80,510.92V506.60M694.60,506.60H699.00" stroke="#7e7e7e" stroke-width="1.15" fill="none" opacity="1.0"/>
<path d="M408.00,490.10V482.90M405.80,482.90H410.20M410.00,489.40V482.85M407.80,482.85H412.20M412.00,486.70V481.45M409.80,481.45H414.20M414.00,486.70V482.61M411.80,482.61H416.20M416.00,490.30V483.58M413.80,483.58H418.20M418.00,493.00V484.67M415.80,484.67H420.20M420.00,494.26V488.91M417.80,488.91H422.20M422.00,492.70V485.02M419.80,485.02H424.20M424.00,484.90V481.70M421.80,481.70H426.20M426.00,481.75V475.85M423.80,475.85H428.20M428.00,484.45V480.34M425.80,480.34H430.20M430.00,490.30V484.58M427.80,484.58H432.20M432.00,486.70V480.34M429.80,480.34H434.20M434.00,493.00V485.29M431.80,485.29H436.20M436.00,496.20V490.32M433.80,490.32H438.20M438.00,495.70V487.92M435.80,487.92H440.20M440.00,491.20V486.40M437.80,486.40H442.20M442.00,490.30V486.59M439.80,486.59H444.20M444.00,491.20V485.64M441.80,485.64H446.20M446.00,490.30V483.37M443.80,483.37H448.20M448.00,488.50V481.61M445.80,481.61H450.20M450.00,489.00V485.80M447.80,485.80H452.20M452.00,493.00V488.63M449.80,488.63H454.20M454.00,495.88V491.48M451.80,491.48H456.20M456.00,493.84V488.25M453.80,488.25H458.20M458.00,492.00V484.26M455.80,484.26H460.20M460.00,492.05V487.56M457.80,487.56H462.20M462.00,490.30V487.05M459.80,487.05H464.20M464.00,489.40V481.46M461.80,481.46H466.20M466.00,488.95V481.17M463.80,481.17H468.20M468.00,488.05V480.81M465.80,480.81H470.20M470.00,489.40V486.19M467.80,486.19H472.20M472.00,491.20V486.77M469.80,486.77H474.20M474.00,490.30V486.33M471.80,486.33H476.20M476.00,487.60V479.57M473.80,479.57H478.20M478.00,487.60V483.91M475.80,483.91H480.20M480.00,487.60V483.90M477.80,483.90H482.20M482.00,486.25V482.04M479.80,482.04H484.20M484.00,484.90V477.55M481.80,477.55H486.20M486.00,485.35V481.26M483.80,481.26H488.20M488.00,488.05V479.64M485.80,479.64H490.20M490.00,488.05V483.36M487.80,483.36H492.20M492.00,484.90V478.32M489.80,478.32H494.20M494.00,485.35V481.29M491.80,481.29H496.20M496.00,489.40V484.79M493.80,484.79H498.20M498.00,490.75V482.99M495.80,482.99H500.20M500.00,490.30V481.81M497.80,481.81H502.20M502.00,490.75V486.42M499.80,486.42H504.20M504.00,491.65V486.73M501.80,486.73H506.20M506.00,491.65V488.33M503.80,488.33H508.20M508.00,492.10V488.03M505.80,488.03H510.20M510.00,493.90V488.79M507.80,488.79H512.20M512.00,495.00V489.13M509.80,489.13H514.20M514.00,493.70V487.55M511.80,487.55H516.20M516.00,492.40V487.48M513.80,487.48H518.20M518.00,491.00V487.13M515.80,487.13H520.20M520.00,495.70V489.64M517.80,489.64H522.20M522.00,487.00V482.08M519.80,482.08H524.20M524.00,475.00V470.10M521.80,470.10H526.20M526.00,464.29V455.94M523.80,455.94H528.20M528.00,493.00V486.77M525.80,486.77H530.20M530.00,500.40V497.32M527.80,497.32H532.20M532.00,495.93V487.67M529.80,487.67H534.20M534.00,493.70V485.37M531.80,485.37H536.20M536.00,496.00V490.86M533.80,490.86H538.20M538.00,499.25V490.86M535.80,490.86H540.20M540.00,501.05V497.47M537.80,497.47H542.20M542.00,502.15V494.10M539.80,494.10H544.20M544.00,503.45V499.52M541.80,499.52H546.20M546.00,504.70V496.95M543.80,496.95H548.20M548.00,505.20V498.47M545.80,498.47H550.20M550.00,505.45V497.18M547.80,497.18H552.20M552.00,503.15V498.49M549.80,498.49H554.20M554.00,500.10V493.50M551.80,493.50H556.20M556.00,501.65V493.48M553.80,493.48H558.20M558.00,501.65V497.94M555.80,497.94H560.20M560.00,500.60V496.58M557.80,496.58H562.20M562.00,502.65V496.59M559.80,496.59H564.20M564.00,502.15V498.41M561.80,498.41H566.20M566.00,500.10V496.80M563.80,496.80H568.20M568.00,500.10V497.01M565.80,497.01H570.20M570.00,501.10V496.19M567.80,496.19H572.20M572.00,502.65V496.08M569.80,496.08H574.20M574.00,502.15V496.59M571.80,496.59H576.20M576.00,496.60V490.28M573.80,490.28H578.20M578.00,473.90V470.75M575.80,470.75H580.20M580.00,465.67V462.11M577.80,462.11H582.20M582.00,471.90V465.79M579.80,465.79H584.20M584.00,473.95V470.09M581.80,470.09H586.20M586.00,476.25V473.18M583.80,473.18H588.20M588.00,479.50V476.16M585.80,476.16H590.20M590.00,483.00V476.41M587.80,476.41H592.20M592.00,485.55V477.27M589.80,477.27H594.20M594.00,486.65V480.92M591.80,480.92H596.20M596.00,488.30V485.27M593.80,485.27H598.20M598.00,490.55V486.48M595.80,486.48H600.20M600.00,493.35V486.60M597.80,486.60H602.20M602.00,497.80V490.44M599.80,490.44H604.20M604.00,497.80V493.67M601.80,493.67H606.20M606.00,496.15V490.58M603.80,490.58H608.20M608.00,495.05V491.85M605.80,491.85H610.20M610.00,495.05V489.08M607.80,489.08H612.20M612.00,499.50V492.34M609.80,492.34H614.20M614.00,501.15V495.40M611.80,495.40H616.20M616.00,498.95V491.63M613.80,491.63H618.20M618.00,496.70V492.41M615.80,492.41H620.20M620.00,497.25V490.59M617.80,490.59H622.20M622.00,495.60V490.01M619.80,490.01H624.20M624.00,491.10V484.78M621.80,484.78H626.20M626.00,487.20V483.80M623.80,483.80H628.20M628.00,484.40V478.90M625.80,478.90H630.20M630.00,482.15V475.74M627.80,475.74H632.20M632.00,479.95V475.66M629.80,475.66H634.20M634.00,481.05V475.00M631.80,475.00H636.20M636.00,481.05V477.94M633.80,477.94H638.20M638.00,480.50V475.20M635.80,475.20H640.20M640.00,482.70V474.52M637.80,474.52H642.20M642.00,482.70V476.14M639.80,476.14H644.20M644.00,482.30V476.52M641.80,476.52H646.20M646.00,488.30V480.51M643.80,480.51H648.20M648.00,489.40V482.59M645.80,482.59H650.20M650.00,487.20V481.40M647.80,481.40H652.20M652.00,491.70V486.64M649.80,486.64H654.20M654.00,496.10V488.29M651.80,488.29H656.20M656.00,498.37V492.26M653.80,492.26H658.20M658.00,495.55V489.87M655.80,489.87H660.20M660.00,493.90V488.86M657.80,488.86H662.20M662.00,491.10V487.26M659.80,487.26H664.20M664.00,491.10V487.05M661.80,487.05H666.20M666.00,492.25V485.94M663.80,485.94H668.20M668.00,491.10V485.14M665.80,485.14H670.20M670.00,492.20V484.94M667.80,484.94H672.20M672.00,492.80V487.33M669.80,487.33H674.20M674.00,488.90V483.79M671.80,483.79H676.20M676.00,484.40V478.35M673.80,478.35H678.20M678.00,484.40V480.02M675.80,480.02H680.20M680.00,484.40V476.11M677.80,476.11H682.20M682.00,482.70V476.21M679.80,476.21H684.20M684.00,483.25V478.60M681.80,478.60H686.20M686.00,484.95V479.25M683.80,479.25H688.20M688.00,487.20V479.58M685.80,479.58H690.20M690.00,488.85V480.62M687.80,480.62H692.20M692.00,489.95V483.10M689.80,483.10H694.20M694.00,489.95V482.12M691.80,482.12H696.20M696.00,487.75V480.31M693.80,480.31H698.20M698.00,483.83V478.81M695.80,478.81H700.20" stroke="#666" stroke-width="1.1" fill="none" opacity="1.0"/>
<path d="M407.00,506.50 L407.00,505.93 L408.00,507.88 L409.00,508.44 L409.00,508.30 L410.00,509.25 L411.00,511.39 L411.00,511.00 L412.00,509.78 L413.00,508.76 L413.00,508.30 L414.00,508.16 L415.00,508.01 L416.00,507.40 L416.00,507.79 L417.00,507.63 L418.00,507.73 L418.00,508.30 L419.00,508.41 L420.00,507.40 L420.00,506.86 L421.00,507.93 L422.00,508.30 L422.00,508.99 L423.00,507.19 L424.00,506.50 L424.00,506.17 L425.00,506.79 L426.00,507.40 L426.00,506.98 L427.00,508.65 L428.00,509.20 L428.00,508.92 L429.00,508.15 L430.00,508.43 L430.00,508.30 L431.00,508.41 L432.00,508.75 L432.00,509.20 L433.00,508.07 L434.00,508.77 L434.00,508.30 L435.00,507.68 L436.00,507.40 L436.00,507.54 L437.00,508.72 L438.00,510.62 L438.00,510.10 L439.00,510.39 L440.00,512.09 L440.00,511.90 L441.00,511.91 L442.00,511.00 L442.00,510.69 L443.00,510.46 L444.00,509.87 L444.00,510.10 L445.00,510.75 L446.00,511.90 L446.00,512.52 L447.00,511.07 L448.00,511.33 L448.00,511.00 L449.00,509.46 L450.00,509.20 L450.00,509.59 L451.00,509.06 L452.00,510.51 L452.00,510.10 L453.00,509.04 L454.00,509.20 L454.00,508.80 L455.00,509.77 L456.00,510.69 L456.00,511.00 L457.00,510.89 L458.00,510.01 L459.00,508.86 L459.00,509.50 L460.00,508.46 L461.00,508.30 L461.00,508.19 L462.00,507.69 L463.00,506.70 L463.00,506.50 L464.00,507.82 L465.00,509.20 L465.00,509.63 L466.00,510.27 L467.00,510.10 L467.00,510.73 L468.00,509.89 L469.00,508.89 L469.00,508.30 L470.00,510.33 L471.00,511.00 L471.00,511.30 L472.00,511.72 L473.00,511.90 L473.00,512.02 L474.00,512.20 L475.00,512.80 L475.00,513.27 L476.00,513.08 L477.00,513.70 L477.00,514.27 L478.00,512.72 L479.00,511.23 L479.00,511.90 L480.00,511.49 L481.00,510.10 L481.00,510.08 L482.00,508.96 L483.00,509.20 L483.00,509.65 L484.00,508.71 L485.00,507.93 L485.00,507.40 L486.00,507.80 L487.00,508.30 L487.00,507.83 L488.00,508.35 L489.00,509.25 L489.00,509.20 L490.00,508.99 L491.00,508.30 L491.00,508.38 L492.00,508.39 L493.00,509.20 L493.00,508.71 L494.00,508.96 L495.00,508.10 L495.00,507.40 L496.00,507.57 L497.00,506.53 L497.00,506.50 L498.00,505.01 L499.00,504.70 L499.00,504.31 L500.00,503.87 L501.00,503.42 L501.00,502.90 L502.00,504.07 L503.00,504.15 L503.00,504.70 L504.00,504.38 L505.00,502.90 L505.00,503.10 L506.00,502.35 L507.00,502.38 L507.00,502.00 L508.00,502.87 L509.00,504.06 L509.00,504.00 L510.00,508.40 L510.00,507.74 L511.00,508.51 L512.00,509.80 L512.00,510.40 L513.00,510.56 L513.50,511.10 L514.00,509.27 L515.00,504.40 L515.00,504.22 L516.00,493.70 L516.00,493.55 L517.00,474.46 L517.00,475.00 L518.00,453.50 L518.00,454.05 L519.00,437.50 L519.00,437.15 L520.00,428.10 L520.00,428.47 L521.00,426.10 L521.00,425.65 L522.00,426.80 L522.00,426.52 L523.00,430.80 L523.00,430.22 L524.00,436.10 L524.00,436.37 L525.00,443.38 L525.00,442.80 L526.00,448.20 L526.00,448.38 L527.00,453.70 L527.00,453.50 L528.00,458.90 L528.00,458.55 L529.00,464.30 L529.00,464.93 L530.00,469.60 L530.00,469.06 L531.00,475.00 L531.00,474.65 L532.00,479.09 L532.00,479.00 L533.00,483.20 L533.00,483.00 L534.00,485.40 L534.00,485.70 L535.00,487.36 L535.50,488.00 L536.00,487.96 L537.00,488.87 L537.00,489.50 L538.00,489.90 L539.00,490.61 L539.00,490.50 L540.00,492.09 L541.00,492.60 L541.00,492.55 L542.00,491.66 L543.00,489.50 L543.00,489.87 L544.00,489.66 L545.00,488.79 L545.00,488.50 L546.00,489.39 L547.00,490.50 L547.00,490.69 L548.00,491.32 L549.00,491.26 L549.00,491.60 L550.00,488.59 L551.00,486.25 L551.00,486.50 L552.00,487.06 L553.00,487.50 L553.00,486.87 L554.00,486.80 L555.00,486.50 L555.00,486.00 L556.00,486.61 L557.00,485.43 L557.00,485.50 L558.00,486.10 L559.00,486.50 L559.00,485.99 L560.00,485.43 L561.00,484.50 L561.00,485.15 L562.00,482.42 L563.00,479.98 L563.00,479.40 L564.00,477.93 L565.00,477.40 L565.00,477.90 L566.00,479.88 L567.00,481.50 L567.00,481.33 L568.00,477.23 L569.00,473.98 L569.00,473.40 L570.00,470.57 L571.00,468.30 L571.00,467.97 L572.00,468.00 L573.00,467.31 L573.00,467.30 L574.00,468.26 L575.00,469.40 L575.00,469.29 L576.00,471.20 L577.00,472.40 L577.00,472.71 L578.00,471.33 L579.00,471.02 L579.00,470.40 L580.00,469.03 L581.00,467.99 L581.00,468.30 L582.00,469.49 L583.00,471.00 L583.00,470.30 L584.00,471.26 L585.00,471.47 L585.00,471.50 L586.00,471.72 L587.00,472.53 L587.00,472.60 L588.00,471.47 L589.00,470.40 L589.00,470.51 L590.00,472.16 L591.00,473.80 L591.00,473.58 L592.00,474.71 L593.00,476.00 L593.00,476.51 L594.00,473.70 L595.00,472.60 L595.00,473.15 L596.00,472.69 L597.00,473.80 L597.00,473.34 L598.00,475.91 L599.00,478.88 L599.00,478.20 L600.00,475.61 L601.00,473.80 L601.00,473.17 L602.00,473.56 L603.00,472.61 L603.00,472.60 L604.00,473.24 L605.00,474.90 L605.00,475.45 L606.00,474.47 L607.00,473.80 L607.00,474.05 L608.00,471.01 L609.00,469.30 L609.00,469.46 L610.00,467.51 L611.00,466.66 L611.00,467.00 L612.00,464.90 L613.00,463.29 L613.00,462.60 L614.00,462.05 L615.00,459.87 L615.00,460.30 L616.00,462.02 L617.00,462.60 L617.00,463.16 L618.00,464.23 L619.00,467.00 L619.00,466.38 L620.00,464.39 L621.00,463.30 L621.00,462.60 L622.00,464.46 L623.00,467.00 L623.00,467.06 L624.00,471.18 L625.00,474.79 L625.00,474.90 L626.00,476.92 L627.00,479.49 L627.00,479.40 L628.00,481.48 L629.00,482.70 L629.00,482.31 L630.00,484.30 L631.00,487.20 L631.00,487.13 L632.00,489.49 L633.00,491.00 L633.00,490.50 L634.00,488.26 L635.00,487.20 L635.00,487.52 L636.00,490.02 L637.00,491.70 L637.00,492.16 L638.00,492.14 L639.00,493.22 L639.00,493.90 L640.00,494.94 L641.00,496.10 L641.00,496.73 L642.00,492.80 L642.00,493.37 L643.00,488.02 L644.00,484.43 L644.00,483.80 L645.00,481.43 L646.00,478.20 L646.00,478.09 L647.00,475.56 L647.50,474.90 L648.00,476.62 L649.00,481.60 L649.00,481.39 L650.00,483.82 L651.00,487.21 L651.00,487.20 L652.00,482.89 L652.50,480.50 L653.00,478.93 L654.00,473.21 L654.00,473.80 L655.00,474.88 L656.00,477.10 L656.00,477.25 L657.00,480.57 L658.00,485.00 L658.00,484.51 L659.00,488.47 L660.00,491.70 L660.00,491.97 L661.00,494.28 L662.00,495.91 L662.00,496.10 L663.00,496.19 L664.00,496.61 L664.00,497.30 L665.00,497.11 L666.00,496.42 L666.00,496.10 L667.00,496.67 L668.00,498.51 L668.00,498.40 L669.00,498.87 L670.00,500.60 L670.00,500.54 L671.00,502.22 L672.00,503.55 L672.00,502.90 L673.00,503.57 L674.00,504.51 L674.00,504.00 L675.00,504.54 L676.00,505.75 L676.00,505.10 L677.00,505.27 L678.00,506.20 L678.00,505.53 L679.00,507.33 L680.00,508.50 L680.00,509.19 L681.00,506.99 L682.00,505.10 L682.00,505.36 L683.00,502.69 L684.00,499.78 L684.00,499.50 L685.00,497.59 L686.00,494.78 L686.00,495.00 L687.00,494.23 L688.00,494.41 L688.00,493.90 L689.00,495.26 L690.00,497.30 L690.00,497.33 L691.00,499.13 L692.00,501.91 L692.00,501.70 L693.00,503.35 L694.00,505.66 L694.00,505.10 L695.00,507.09 L696.00,509.15 L696.00,509.60 L697.00,510.56 L698.00,512.90 L698.00,512.23" stroke="#7f7f7f" stroke-width="2.9" fill="none" stroke-linejoin="round" stroke-linecap="butt"/>
<path d="M407.00,489.90 L407.00,489.76 L408.00,489.52 L409.00,490.42 L409.00,490.30 L410.00,488.89 L411.00,488.47 L411.00,488.50 L412.00,486.47 L413.00,485.17 L413.00,484.90 L414.00,486.22 L415.00,489.15 L415.00,488.50 L416.00,489.70 L417.00,491.50 L417.00,492.10 L418.00,493.24 L419.00,493.90 L419.00,494.58 L420.00,494.77 L421.00,495.07 L421.50,494.80 L422.00,492.21 L423.00,488.50 L423.00,488.08 L424.00,484.61 L425.00,480.93 L425.00,481.30 L426.00,481.29 L427.00,481.93 L427.00,482.20 L428.00,484.28 L429.00,486.70 L429.00,486.45 L430.00,490.73 L430.50,492.10 L431.00,490.77 L432.00,486.19 L432.00,486.70 L433.00,489.88 L434.00,493.00 L434.00,493.32 L435.00,493.95 L436.00,496.20 L436.00,496.82 L437.00,496.04 L438.00,495.63 L438.00,495.70 L439.00,493.32 L440.00,491.76 L440.00,491.20 L441.00,490.79 L442.00,490.30 L442.00,490.21 L443.00,491.38 L444.00,491.20 L444.00,490.76 L445.00,490.70 L446.00,490.90 L446.00,490.30 L447.00,489.87 L448.00,488.50 L448.00,488.89 L449.00,489.24 L450.00,488.51 L450.00,489.00 L451.00,491.24 L452.00,493.00 L452.00,493.01 L453.00,495.14 L454.00,496.55 L454.50,496.60 L455.00,495.53 L456.00,494.27 L457.00,491.81 L457.00,492.00 L458.00,491.87 L459.00,492.31 L459.00,492.00 L460.00,492.59 L461.00,492.10 L461.00,492.50 L462.00,489.87 L463.00,487.89 L463.00,488.50 L464.00,490.02 L465.00,490.35 L465.00,490.30 L466.00,489.06 L467.00,487.60 L467.00,487.88 L468.00,488.67 L469.00,488.82 L469.00,488.50 L470.00,489.56 L471.00,490.24 L471.00,490.30 L472.00,491.46 L473.00,492.10 L473.00,492.43 L474.00,490.39 L475.00,489.15 L475.00,488.50 L476.00,487.42 L477.00,486.70 L477.00,487.26 L478.00,488.30 L479.00,488.83 L479.00,488.50 L480.00,487.47 L481.00,486.74 L481.00,486.70 L482.00,486.07 L483.00,485.80 L483.00,486.22 L484.00,485.27 L485.00,483.55 L485.00,484.00 L486.00,485.18 L487.00,487.06 L487.00,486.70 L488.00,487.58 L489.00,489.40 L489.00,489.75 L490.00,488.13 L491.00,486.70 L491.00,486.23 L492.00,484.71 L493.00,483.66 L493.00,483.10 L494.00,484.81 L495.00,487.60 L495.00,487.57 L496.00,490.08 L497.00,490.91 L497.00,491.20 L498.00,491.15 L499.00,490.17 L499.00,490.30 L500.00,490.90 L501.00,490.91 L501.00,490.30 L502.00,491.10 L503.00,490.79 L503.00,491.20 L504.00,492.26 L505.00,492.10 L505.00,491.88 L506.00,492.08 L507.00,491.20 L507.00,491.43 L508.00,492.26 L509.00,492.85 L509.00,493.00 L510.00,494.27 L511.00,494.80 L511.00,495.47 L512.00,495.00 L512.00,495.52 L513.00,494.81 L514.00,493.36 L514.00,493.70 L515.00,492.69 L516.00,492.40 L516.00,492.74 L517.00,491.64 L518.00,491.00 L518.00,491.55 L519.00,492.80 L519.50,493.70 L520.00,496.35 L520.50,497.70 L521.00,493.45 L522.00,487.60 L522.00,487.00 L523.00,493.41 L523.00,493.70 L524.00,475.00 L524.00,475.34 L525.00,459.66 L525.30,454.90 L526.00,464.48 L526.50,471.00 L527.00,478.92 L527.50,487.00 L528.00,493.37 L528.50,499.00 L529.00,501.56 L529.50,503.10 L530.00,500.20 L531.00,495.00 L531.00,495.31 L532.00,495.98 L532.50,496.40 L533.00,495.74 L534.00,493.72 L534.00,493.70 L535.00,494.82 L535.50,495.00 L536.00,495.54 L537.00,497.87 L537.00,498.00 L538.00,499.74 L539.00,500.05 L539.00,500.50 L540.00,501.35 L541.00,501.60 L541.00,501.54 L542.00,502.12 L543.00,502.70 L543.00,502.36 L544.00,503.77 L545.00,504.20 L545.00,503.73 L546.00,504.49 L547.00,504.63 L547.00,505.20 L548.00,505.14 L549.00,504.59 L549.00,505.20 L550.00,505.49 L551.00,505.70 L551.00,505.71 L552.00,502.62 L553.00,500.04 L553.00,500.60 L554.00,499.94 L555.00,500.19 L555.00,499.60 L556.00,501.67 L557.00,503.86 L557.00,503.70 L558.00,501.23 L559.00,499.60 L559.00,499.97 L560.00,500.01 L561.00,502.26 L561.00,501.60 L562.00,502.80 L563.00,503.57 L563.00,503.70 L564.00,502.67 L565.00,500.17 L565.00,500.60 L566.00,499.91 L567.00,500.02 L567.00,499.60 L568.00,500.62 L569.00,500.32 L569.00,500.60 L570.00,500.66 L571.00,501.88 L571.00,501.60 L572.00,502.60 L573.00,504.26 L573.00,503.70 L574.00,502.83 L575.00,500.60 L575.00,501.29 L576.00,496.82 L576.50,494.60 L577.00,488.22 L577.50,480.50 L578.00,474.23 L578.50,467.30 L579.00,464.93 L579.50,463.30 L580.00,466.31 L581.00,469.77 L581.00,470.40 L582.00,471.98 L583.00,473.04 L583.00,473.40 L584.00,474.18 L585.00,474.50 L585.00,474.56 L586.00,476.37 L587.00,478.00 L587.00,478.43 L588.00,479.34 L589.00,481.00 L589.00,480.99 L590.00,483.57 L591.00,485.00 L591.00,484.82 L592.00,485.12 L593.00,486.10 L593.00,486.10 L594.00,486.58 L595.00,487.20 L595.00,487.24 L596.00,488.37 L597.00,489.20 L597.00,489.40 L598.00,490.43 L599.00,492.28 L599.00,491.70 L600.00,493.52 L601.00,495.00 L601.00,495.46 L602.00,497.25 L603.00,500.73 L603.00,500.60 L604.00,497.28 L605.00,495.00 L605.00,494.58 L606.00,496.39 L607.00,497.64 L607.00,497.30 L608.00,495.23 L609.00,492.80 L609.00,492.66 L610.00,494.60 L611.00,497.30 L611.00,497.84 L612.00,499.66 L613.00,501.70 L613.00,501.06 L614.00,501.74 L615.00,500.60 L615.00,500.00 L616.00,498.31 L617.00,497.15 L617.00,497.30 L618.00,497.28 L619.00,496.10 L619.00,495.84 L620.00,496.89 L621.00,498.68 L621.00,498.40 L622.00,495.83 L623.00,492.80 L623.00,493.46 L624.00,491.08 L625.00,489.29 L625.00,489.40 L626.00,487.30 L627.00,484.40 L627.00,485.00 L628.00,484.07 L629.00,483.80 L629.00,484.17 L630.00,481.79 L631.00,480.50 L631.00,481.01 L632.00,479.74 L633.00,478.98 L633.00,479.40 L634.00,480.76 L635.00,482.70 L635.00,482.35 L636.00,480.96 L637.00,479.69 L637.00,479.40 L638.00,481.17 L639.00,481.60 L639.00,481.48 L640.00,482.61 L641.00,483.80 L641.00,484.16 L642.00,482.45 L643.00,481.60 L643.00,481.31 L644.00,482.61 L645.00,482.42 L645.00,483.00 L646.00,488.30 L646.00,488.85 L647.00,488.36 L648.00,489.40 L648.00,489.08 L649.00,488.36 L650.00,487.20 L650.00,486.78 L651.00,488.92 L652.00,491.70 L652.00,492.34 L653.00,493.89 L654.00,496.25 L654.00,496.10 L655.00,499.04 L655.50,499.50 L656.00,498.69 L657.00,496.41 L657.00,496.10 L658.00,495.91 L659.00,495.00 L659.00,495.68 L660.00,494.44 L661.00,492.80 L661.00,492.47 L662.00,491.37 L663.00,489.02 L663.00,489.40 L664.00,490.41 L665.00,492.59 L665.00,492.80 L666.00,492.76 L667.00,491.70 L667.00,491.35 L668.00,491.73 L669.00,491.05 L669.00,490.50 L670.00,492.70 L671.00,493.90 L671.00,493.93 L672.00,492.35 L673.00,492.37 L673.00,491.70 L674.00,488.22 L675.00,486.10 L675.00,486.50 L676.00,484.89 L677.00,482.70 L677.00,482.74 L678.00,484.86 L679.00,486.10 L679.00,486.28 L680.00,484.32 L681.00,483.07 L681.00,482.70 L682.00,482.84 L683.00,482.70 L683.00,483.29 L684.00,483.35 L685.00,483.73 L685.00,483.80 L686.00,485.51 L687.00,486.37 L687.00,486.10 L688.00,486.76 L689.00,488.30 L689.00,488.34 L690.00,489.01 L691.00,489.34 L691.00,489.40 L692.00,489.85 L693.00,490.82 L693.00,490.50 L694.00,490.02 L695.00,489.40 L695.00,488.89 L696.00,488.22 L697.00,486.37 L697.00,486.10 L698.00,483.31 L698.50,482.70" stroke="#000" stroke-width="2.8" fill="none" stroke-linejoin="round" stroke-linecap="butt"/>
<rect x="406.90" y="347.10" width="292.10" height="172.60" fill="none" stroke="#111" stroke-width="1.8"/>
<line x1="477.30" y1="519.70" x2="477.30" y2="529.50" stroke="#111" stroke-width="1.4"/>
<text transform="translate(468.84,541.50) scale(1.1620,1)" font-size="12.17" font-weight="normal" fill="#1a1a1a">20</text>
<line x1="548.40" y1="519.70" x2="548.40" y2="529.50" stroke="#111" stroke-width="1.4"/>
<text transform="translate(544.06,541.50) scale(1.1374,1)" font-size="12.17" font-weight="normal" fill="#1a1a1a">2</text>
<line x1="622.50" y1="519.70" x2="622.50" y2="529.50" stroke="#111" stroke-width="1.4"/>
<text transform="translate(618.25,541.50) scale(1.1011,1)" font-size="12.17" font-weight="normal" fill="#1a1a1a">8</text>
<line x1="690.90" y1="519.70" x2="690.90" y2="529.50" stroke="#111" stroke-width="1.4"/>
<text transform="translate(682.93,541.50) scale(1.0625,1)" font-size="12.17" font-weight="normal" fill="#1a1a1a">14</text>
<line x1="420.7" y1="364.1" x2="442.3" y2="364.1" stroke="#000" stroke-width="2.6"/>
<line x1="420.7" y1="384.4" x2="442.3" y2="384.4" stroke="#888" stroke-width="2.8"/>
<text transform="translate(443.62,367.50) scale(0.9476,1)" font-size="10.00" font-weight="bold" fill="#111">Control-SP</text>
<text transform="translate(443.41,387.40) scale(0.9340,1)" font-size="9.71" font-weight="bold" fill="#111">BLT-SP</text>
<rect x="685" y="322.9" width="20" height="1.1" fill="#fff"/>
<text transform="translate(532.25,565.20) scale(0.9362,1)" font-size="13.33" font-weight="normal" fill="#1a1a1a">Time (ZT)</text>
<text transform="translate(377.20,496.45) rotate(-90) scale(1.0200,1)" font-size="9.86" font-weight="bold" fill="#111">Acrivity (counts/6 minutes</text>
<rect x="122.35" y="680.25" width="7.15" height="153.75" fill="#000" stroke="#000" stroke-width="0.9"/>
<rect x="154.55" y="711.00" width="7.15" height="123.00" fill="#000" stroke="#000" stroke-width="0.9"/>
<rect x="186.75" y="741.75" width="7.15" height="92.25" fill="#000" stroke="#000" stroke-width="0.9"/>
<rect x="194.80" y="772.50" width="7.15" height="61.50" fill="#e4e4e4" stroke="#000" stroke-width="0.9"/>
<rect x="227.00" y="618.75" width="7.15" height="215.25" fill="#e4e4e4" stroke="#000" stroke-width="0.9"/>
<rect x="259.20" y="772.50" width="7.15" height="61.50" fill="#e4e4e4" stroke="#000" stroke-width="0.9"/>
<rect x="291.40" y="803.25" width="7.15" height="30.75" fill="#e4e4e4" stroke="#000" stroke-width="0.9"/>
<rect x="267.25" y="649.50" width="7.15" height="184.50" fill="#a3a3a3" stroke="#000" stroke-width="0.9"/>
<rect x="299.45" y="680.25" width="7.15" height="153.75" fill="#a3a3a3" stroke="#000" stroke-width="0.9"/>
<rect x="331.65" y="803.25" width="7.15" height="30.75" fill="#a3a3a3" stroke="#000" stroke-width="0.9"/>
<rect x="532.90" y="772.50" width="7.15" height="61.50" fill="#fff" stroke="#000" stroke-width="0.9"/>
<rect x="565.10" y="772.50" width="7.15" height="61.50" fill="#fff" stroke="#000" stroke-width="0.9"/>
<rect x="597.30" y="649.50" width="7.15" height="184.50" fill="#fff" stroke="#000" stroke-width="0.9"/>
<rect x="629.50" y="772.50" width="7.15" height="61.50" fill="#fff" stroke="#000" stroke-width="0.9"/>
<path d="M52.30,588.00H701.40V834.00" fill="none" stroke="#3a3a3a" stroke-width="1.3"/>
<line x1="52.30" y1="834.00" x2="701.40" y2="834.00" stroke="#111" stroke-width="1.4"/>
<line x1="57.50" y1="588.00" x2="57.50" y2="839.00" stroke="#111" stroke-width="1.4"/>
<line x1="52.30" y1="803.25" x2="57.50" y2="803.25" stroke="#111" stroke-width="1.3"/>
<line x1="52.30" y1="772.50" x2="57.50" y2="772.50" stroke="#111" stroke-width="1.3"/>
<line x1="52.30" y1="741.75" x2="57.50" y2="741.75" stroke="#111" stroke-width="1.3"/>
<line x1="52.30" y1="711.00" x2="57.50" y2="711.00" stroke="#111" stroke-width="1.3"/>
<line x1="52.30" y1="680.25" x2="57.50" y2="680.25" stroke="#111" stroke-width="1.3"/>
<line x1="52.30" y1="649.50" x2="57.50" y2="649.50" stroke="#111" stroke-width="1.3"/>
<line x1="52.30" y1="618.75" x2="57.50" y2="618.75" stroke="#111" stroke-width="1.3"/>
<line x1="89.70" y1="834.00" x2="89.70" y2="839.00" stroke="#111" stroke-width="1.3"/>
<line x1="121.90" y1="834.00" x2="121.90" y2="839.00" stroke="#111" stroke-width="1.3"/>
<line x1="154.10" y1="834.00" x2="154.10" y2="839.00" stroke="#111" stroke-width="1.3"/>
<line x1="186.30" y1="834.00" x2="186.30" y2="839.00" stroke="#111" stroke-width="1.3"/>
<line x1="218.50" y1="834.00" x2="218.50" y2="839.00" stroke="#111" stroke-width="1.3"/>
<line x1="250.70" y1="834.00" x2="250.70" y2="839.00" stroke="#111" stroke-width="1.3"/>
<line x1="282.90" y1="834.00" x2="282.90" y2="839.00" stroke="#111" stroke-width="1.3"/>
<line x1="315.10" y1="834.00" x2="315.10" y2="839.00" stroke="#111" stroke-width="1.3"/>
<line x1="347.30" y1="834.00" x2="347.30" y2="839.00" stroke="#111" stroke-width="1.3"/>
<line x1="379.50" y1="834.00" x2="379.50" y2="839.00" stroke="#111" stroke-width="1.3"/>
<line x1="411.70" y1="834.00" x2="411.70" y2="839.00" stroke="#111" stroke-width="1.3"/>
<line x1="443.90" y1="834.00" x2="443.90" y2="839.00" stroke="#111" stroke-width="1.3"/>
<line x1="476.10" y1="834.00" x2="476.10" y2="839.00" stroke="#111" stroke-width="1.3"/>
<line x1="508.30" y1="834.00" x2="508.30" y2="839.00" stroke="#111" stroke-width="1.3"/>
<line x1="540.50" y1="834.00" x2="540.50" y2="839.00" stroke="#111" stroke-width="1.3"/>
<line x1="572.70" y1="834.00" x2="572.70" y2="839.00" stroke="#111" stroke-width="1.3"/>
<line x1="604.90" y1="834.00" x2="604.90" y2="839.00" stroke="#111" stroke-width="1.3"/>
<line x1="637.10" y1="834.00" x2="637.10" y2="839.00" stroke="#111" stroke-width="1.3"/>
<line x1="669.30" y1="834.00" x2="669.30" y2="839.00" stroke="#111" stroke-width="1.3"/>
<line x1="701.50" y1="834.00" x2="701.50" y2="839.00" stroke="#111" stroke-width="1.3"/>
<text transform="translate(35.01,838.50) scale(1.1298,1)" font-size="13.04" font-weight="bold" fill="#111">0</text>
<text transform="translate(34.71,807.75) scale(1.1418,1)" font-size="13.04" font-weight="bold" fill="#111">1</text>
<text transform="translate(35.09,777.00) scale(1.1181,1)" font-size="13.04" font-weight="bold" fill="#111">2</text>
<text transform="translate(35.25,746.25) scale(1.0842,1)" font-size="13.04" font-weight="bold" fill="#111">3</text>
<text transform="translate(35.40,715.50) scale(1.0031,1)" font-size="13.04" font-weight="bold" fill="#111">4</text>
<text transform="translate(35.18,684.75) scale(1.0733,1)" font-size="13.04" font-weight="bold" fill="#111">5</text>
<text transform="translate(35.09,654.00) scale(1.1065,1)" font-size="13.04" font-weight="bold" fill="#111">6</text>
<text transform="translate(35.01,623.25) scale(1.1298,1)" font-size="13.04" font-weight="bold" fill="#111">7</text>
<text transform="translate(35.18,592.50) scale(1.0842,1)" font-size="13.04" font-weight="bold" fill="#111">8</text>
<text transform="translate(77.10,854.60) rotate(-45)" x="-21.73" y="0" font-size="15.3" font-weight="bold" fill="#111">0-5</text>
<text transform="translate(109.30,854.60) rotate(-45)" x="-29.99" y="0" font-size="15.3" font-weight="bold" fill="#111">5-10</text>
<text transform="translate(141.50,854.60) rotate(-45)" x="-38.71" y="0" font-size="15.3" font-weight="bold" fill="#111">10-15</text>
<text transform="translate(173.70,854.60) rotate(-45)" x="-38.48" y="0" font-size="15.3" font-weight="bold" fill="#111">15-20</text>
<text transform="translate(205.90,854.60) rotate(-45)" x="-38.71" y="0" font-size="15.3" font-weight="bold" fill="#111">20-25</text>
<text transform="translate(238.10,854.60) rotate(-45)" x="-38.48" y="0" font-size="15.3" font-weight="bold" fill="#111">25-30</text>
<text transform="translate(270.30,854.60) rotate(-45)" x="-38.71" y="0" font-size="15.3" font-weight="bold" fill="#111">30-35</text>
<text transform="translate(302.50,854.60) rotate(-45)" x="-38.48" y="0" font-size="15.3" font-weight="bold" fill="#111">35-40</text>
<text transform="translate(334.70,854.60) rotate(-45)" x="-38.71" y="0" font-size="15.3" font-weight="bold" fill="#111">40-45</text>
<text transform="translate(366.90,854.60) rotate(-45)" x="-38.48" y="0" font-size="15.3" font-weight="bold" fill="#111">45-50</text>
<text transform="translate(399.10,854.60) rotate(-45)" x="-38.71" y="0" font-size="15.3" font-weight="bold" fill="#111">50-55</text>
<text transform="translate(431.30,854.60) rotate(-45)" x="-38.48" y="0" font-size="15.3" font-weight="bold" fill="#111">55-60</text>
<text transform="translate(463.50,854.60) rotate(-45)" x="-38.71" y="0" font-size="15.3" font-weight="bold" fill="#111">60-65</text>
<text transform="translate(495.70,854.60) rotate(-45)" x="-38.48" y="0" font-size="15.3" font-weight="bold" fill="#111">65-70</text>
<text transform="translate(527.90,854.60) rotate(-45)" x="-38.71" y="0" font-size="15.3" font-weight="bold" fill="#111">70-75</text>
<text transform="translate(560.10,854.60) rotate(-45)" x="-38.48" y="0" font-size="15.3" font-weight="bold" fill="#111">75-80</text>
<text transform="translate(592.30,854.60) rotate(-45)" x="-38.71" y="0" font-size="15.3" font-weight="bold" fill="#111">80-85</text>
<text transform="translate(624.50,854.60) rotate(-45)" x="-38.48" y="0" font-size="15.3" font-weight="bold" fill="#111">85-90</text>
<text transform="translate(656.70,854.60) rotate(-45)" x="-38.71" y="0" font-size="15.3" font-weight="bold" fill="#111">90-95</text>
<text transform="translate(688.90,854.60) rotate(-45)" x="-47.05" y="0" font-size="15.3" font-weight="bold" fill="#111">95-100</text>
<text transform="translate(284.46,906.80) scale(1.0001,1)" font-size="13.62" font-weight="bold" fill="#111">%  Activity during the day</text>
<text transform="translate(26.90,782.69) rotate(-90) scale(0.9632,1)" font-size="14.20" font-weight="bold" fill="#111">Number of individuals</text>
<rect x="610.9" y="596.20" width="7.8" height="7.8" fill="#000" stroke="#000" stroke-width="0.9"/>
<text transform="translate(622.87,604.40) scale(1.0368,1)" font-size="12.75" font-weight="bold" fill="#111">Control-SP</text>
<rect x="610.9" y="633.30" width="7.8" height="7.8" fill="#e4e4e4" stroke="#000" stroke-width="0.9"/>
<text transform="translate(622.86,641.50) scale(1.0605,1)" font-size="12.75" font-weight="bold" fill="#111">Control-NP</text>
<rect x="610.9" y="670.40" width="7.8" height="7.8" fill="#a3a3a3" stroke="#000" stroke-width="0.9"/>
<text transform="translate(622.58,678.60) scale(0.9845,1)" font-size="12.75" font-weight="bold" fill="#111">BLT-SP</text>
<rect x="610.9" y="707.00" width="7.8" height="7.8" fill="#fff" stroke="#000" stroke-width="0.9"/>
<text transform="translate(622.54,715.20) scale(1.0325,1)" font-size="12.75" font-weight="bold" fill="#111">BLT-NP</text>
</svg></body></html>
